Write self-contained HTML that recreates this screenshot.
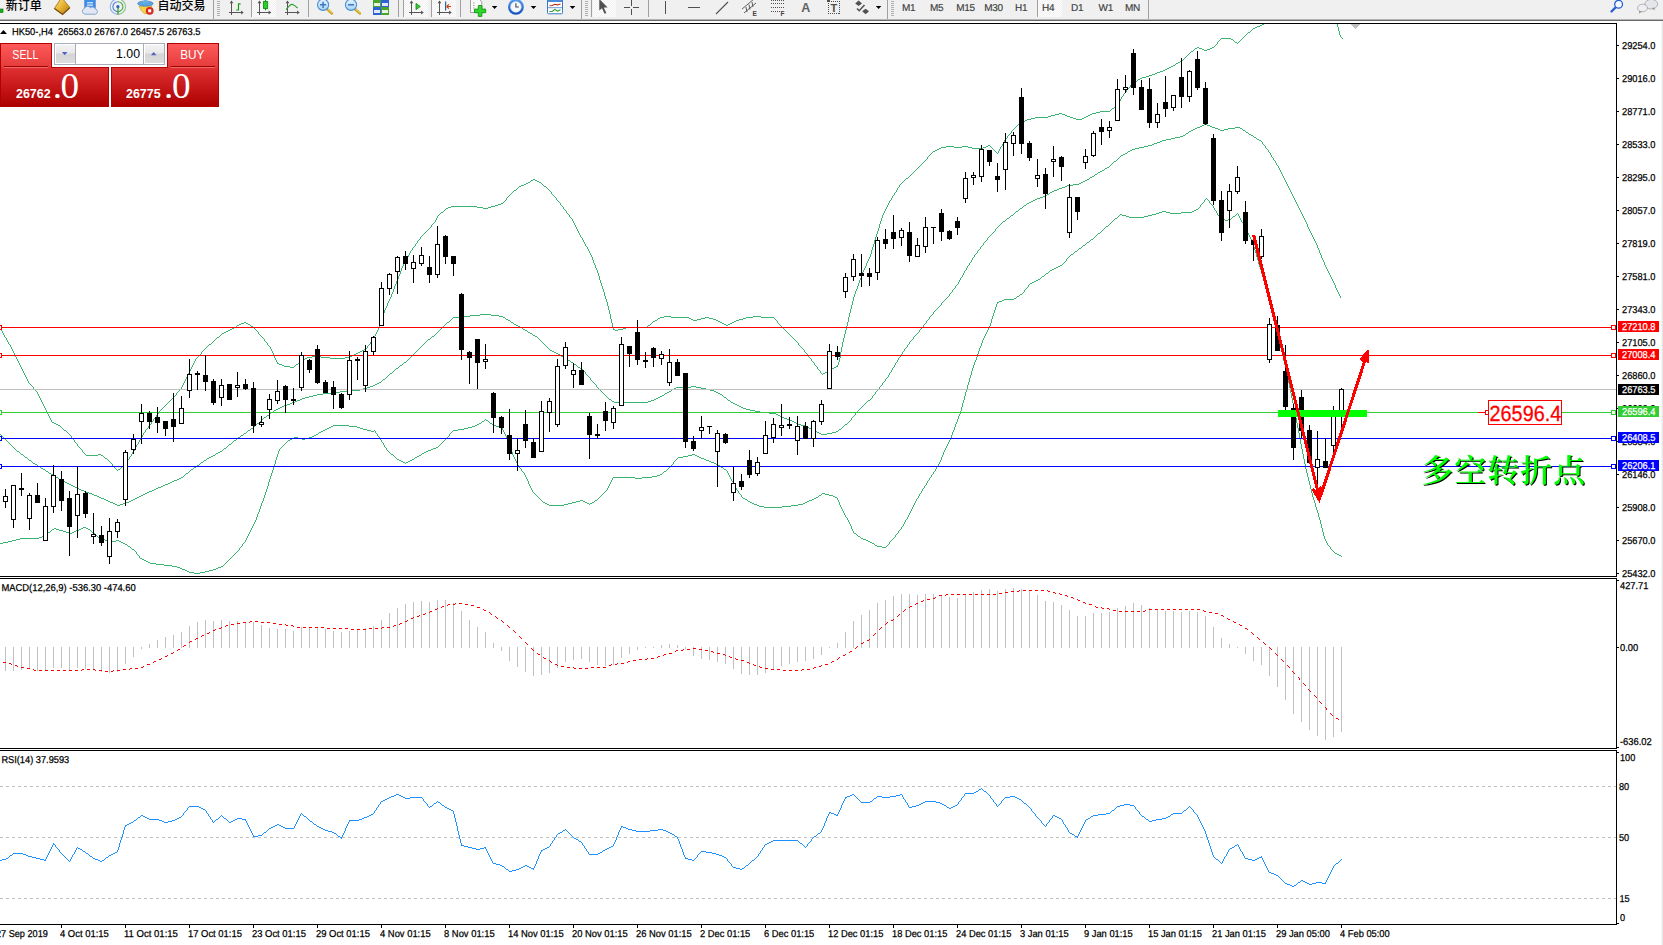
<!DOCTYPE html>
<html lang="zh"><head><meta charset="utf-8"><title>HK50-,H4</title>
<style>
html,body{margin:0;padding:0;background:#fff;}
body{width:1663px;height:945px;overflow:hidden;font-family:"Liberation Sans","Noto Sans CJK SC",sans-serif;}
#page{position:relative;width:1663px;height:945px;overflow:hidden;background:#fff;}

</style></head>
<body>
<div id="page">
<svg id="chart" width="1663" height="945" viewBox="0 0 1663 945" style="position:absolute;left:0;top:0;font-family:'Liberation Sans',sans-serif;text-rendering:geometricPrecision"><defs><clipPath id="cm"><rect x="0" y="24" width="1616" height="552"/></clipPath><clipPath id="c2"><rect x="0" y="579" width="1616" height="169"/></clipPath><clipPath id="c3"><rect x="0" y="751" width="1616" height="173"/></clipPath></defs>
<g clip-path="url(#cm)" shape-rendering="crispEdges">
<path d="M1275 17h1v1h-1zM1273 18h2v1h-2zM1271 19h2v1h-2zM1270 20h1v1h-1zM1268 21h2v1h-2zM1266 22h2v1h-2zM1264 23h2v1h-2zM1262 24h2v1h-2zM1260 25h2v1h-2zM1257 26h3v1h-3zM1255 27h2v1h-2zM1253 28h2v1h-2zM1252 29h1v1h-1zM1251 30h1v1h-1zM1250 31h1v1h-1zM1248 32h2v1h-2zM1247 33h1v1h-1zM1246 34h1v1h-1zM1245 35h1v1h-1zM1244 36h1v1h-1zM1243 37h1v1h-1zM1221 38h10v1h-10zM1242 38h1v1h-1zM1220 39h1v1h-1zM1231 39h2v1h-2zM1241 39h1v1h-1zM1219 40h1v1h-1zM1233 40h1v1h-1zM1240 40h1v1h-1zM1218 41h1v1h-1zM1234 41h1v1h-1zM1239 41h1v1h-1zM1217 42h1v1h-1zM1235 42h2v1h-2zM1238 42h1v1h-1zM1217 43h1v1h-1zM1237 43h1v1h-1zM1216 44h1v1h-1zM1215 45h1v1h-1zM1214 46h1v1h-1zM1197 47h2v1h-2zM1212 47h2v1h-2zM1195 48h2v1h-2zM1199 48h3v1h-3zM1210 48h2v1h-2zM1194 49h1v1h-1zM1202 49h2v1h-2zM1207 49h3v1h-3zM1193 50h1v1h-1zM1204 50h3v1h-3zM1191 51h2v1h-2zM1190 52h1v1h-1zM1189 53h1v1h-1zM1188 54h1v1h-1zM1187 55h1v1h-1zM1186 56h1v1h-1zM1185 57h1v1h-1zM1184 58h1v1h-1zM1183 59h1v1h-1zM1182 60h1v1h-1zM1180 61h2v1h-2zM1178 62h2v1h-2zM1176 63h2v1h-2zM1175 64h1v1h-1zM1173 65h2v1h-2zM1171 66h2v1h-2zM1169 67h2v1h-2zM1167 68h2v1h-2zM1165 69h2v1h-2zM1163 70h2v1h-2zM1160 71h3v1h-3zM1157 72h3v1h-3zM1155 73h2v1h-2zM1152 74h3v1h-3zM1149 75h3v1h-3zM1146 76h3v1h-3zM1142 77h4v1h-4zM1140 78h2v1h-2zM1138 79h2v1h-2zM1137 80h1v1h-1zM1135 81h2v1h-2zM1133 82h2v1h-2zM1132 83h1v1h-1zM1131 84h1v1h-1zM1130 85h1v1h-1zM1130 86h1v1h-1zM1129 87h1v1h-1zM1128 88h1v1h-1zM1127 89h1v1h-1zM1126 90h1v1h-1zM1126 91h1v1h-1zM1125 92h1v1h-1zM1124 93h1v1h-1zM1123 94h1v1h-1zM1123 95h1v1h-1zM1122 96h1v1h-1zM1121 97h1v1h-1zM1121 98h1v1h-1zM1120 99h1v1h-1zM1120 100h1v1h-1zM1119 101h1v1h-1zM1118 102h1v1h-1zM1118 103h1v1h-1zM1117 104h1v1h-1zM1116 105h1v1h-1zM1115 106h1v1h-1zM1114 107h1v1h-1zM1112 108h2v1h-2zM1111 109h1v1h-1zM1110 110h1v1h-1zM1100 111h10v1h-10zM1096 112h4v1h-4zM1059 113h3v1h-3zM1092 113h4v1h-4zM1055 114h4v1h-4zM1062 114h3v1h-3zM1090 114h2v1h-2zM1051 115h4v1h-4zM1065 115h2v1h-2zM1088 115h2v1h-2zM1048 116h3v1h-3zM1067 116h3v1h-3zM1086 116h2v1h-2zM1035 117h13v1h-13zM1070 117h3v1h-3zM1084 117h2v1h-2zM1031 118h4v1h-4zM1073 118h3v1h-3zM1082 118h2v1h-2zM1027 119h4v1h-4zM1076 119h6v1h-6zM1025 120h2v1h-2zM1023 121h2v1h-2zM1021 122h2v1h-2zM1019 123h2v1h-2zM1018 124h1v1h-1zM1017 125h1v1h-1zM1016 126h1v1h-1zM1015 127h1v1h-1zM1014 128h1v1h-1zM1013 129h1v1h-1zM1012 130h1v1h-1zM1011 131h1v1h-1zM1011 132h1v1h-1zM1010 133h1v1h-1zM1009 134h1v1h-1zM1008 135h1v1h-1zM1007 136h1v1h-1zM1007 137h1v1h-1zM1006 138h1v1h-1zM1005 139h1v1h-1zM1004 140h1v1h-1zM1004 141h1v1h-1zM1003 142h1v1h-1zM1003 143h1v1h-1zM1002 144h1v1h-1zM988 145h2v1h-2zM1002 145h1v1h-1zM946 146h8v1h-8zM962 146h6v1h-6zM986 146h2v1h-2zM990 146h1v1h-1zM1001 146h1v1h-1zM941 147h5v1h-5zM954 147h8v1h-8zM968 147h4v1h-4zM983 147h3v1h-3zM991 147h1v1h-1zM1000 147h1v1h-1zM939 148h2v1h-2zM972 148h11v1h-11zM992 148h1v1h-1zM1000 148h1v1h-1zM937 149h2v1h-2zM993 149h1v1h-1zM999 149h1v1h-1zM935 150h2v1h-2zM994 150h1v1h-1zM999 150h1v1h-1zM933 151h2v1h-2zM995 151h1v1h-1zM998 151h1v1h-1zM932 152h1v1h-1zM996 152h1v1h-1zM998 152h1v1h-1zM931 153h1v1h-1zM997 153h1v1h-1zM930 154h1v1h-1zM929 155h1v1h-1zM928 156h1v1h-1zM927 157h1v1h-1zM927 158h1v1h-1zM926 159h1v1h-1zM925 160h1v1h-1zM924 161h1v1h-1zM923 162h1v1h-1zM922 163h1v1h-1zM921 164h1v1h-1zM920 165h1v1h-1zM919 166h1v1h-1zM918 167h1v1h-1zM917 168h1v1h-1zM916 169h1v1h-1zM915 170h1v1h-1zM914 171h1v1h-1zM913 172h1v1h-1zM912 173h1v1h-1zM911 174h1v1h-1zM910 175h1v1h-1zM909 176h1v1h-1zM908 177h1v1h-1zM906 178h2v1h-2zM533 179h2v1h-2zM905 179h1v1h-1zM531 180h2v1h-2zM535 180h2v1h-2zM904 180h1v1h-1zM530 181h1v1h-1zM537 181h2v1h-2zM903 181h1v1h-1zM528 182h2v1h-2zM539 182h2v1h-2zM902 182h1v1h-1zM526 183h2v1h-2zM541 183h1v1h-1zM901 183h1v1h-1zM524 184h2v1h-2zM542 184h1v1h-1zM900 184h1v1h-1zM521 185h3v1h-3zM543 185h1v1h-1zM899 185h1v1h-1zM519 186h2v1h-2zM544 186h2v1h-2zM899 186h1v1h-1zM518 187h1v1h-1zM546 187h1v1h-1zM898 187h1v1h-1zM517 188h1v1h-1zM547 188h1v1h-1zM897 188h1v1h-1zM516 189h1v1h-1zM548 189h1v1h-1zM897 189h1v1h-1zM514 190h2v1h-2zM549 190h1v1h-1zM896 190h1v1h-1zM513 191h1v1h-1zM550 191h1v1h-1zM896 191h1v1h-1zM512 192h1v1h-1zM551 192h1v1h-1zM895 192h1v1h-1zM511 193h1v1h-1zM551 193h1v1h-1zM894 193h1v1h-1zM510 194h1v1h-1zM552 194h1v1h-1zM894 194h1v1h-1zM509 195h1v1h-1zM553 195h1v1h-1zM893 195h1v1h-1zM508 196h1v1h-1zM554 196h1v1h-1zM892 196h1v1h-1zM507 197h1v1h-1zM555 197h1v1h-1zM892 197h1v1h-1zM506 198h1v1h-1zM556 198h1v1h-1zM891 198h1v1h-1zM506 199h1v1h-1zM556 199h1v1h-1zM891 199h1v1h-1zM505 200h1v1h-1zM557 200h1v1h-1zM890 200h1v1h-1zM504 201h1v1h-1zM558 201h1v1h-1zM889 201h1v1h-1zM503 202h1v1h-1zM559 202h1v1h-1zM889 202h1v1h-1zM501 203h2v1h-2zM560 203h1v1h-1zM888 203h1v1h-1zM498 204h3v1h-3zM560 204h1v1h-1zM888 204h1v1h-1zM495 205h3v1h-3zM561 205h1v1h-1zM887 205h1v1h-1zM451 206h26v1h-26zM491 206h4v1h-4zM562 206h1v1h-1zM887 206h1v1h-1zM448 207h3v1h-3zM477 207h6v1h-6zM488 207h3v1h-3zM563 207h1v1h-1zM886 207h1v1h-1zM446 208h2v1h-2zM483 208h5v1h-5zM563 208h1v1h-1zM886 208h1v1h-1zM445 209h1v1h-1zM564 209h1v1h-1zM885 209h1v1h-1zM444 210h1v1h-1zM565 210h1v1h-1zM885 210h1v1h-1zM443 211h1v1h-1zM566 211h1v1h-1zM884 211h1v1h-1zM441 212h2v1h-2zM566 212h1v1h-1zM884 212h1v1h-1zM440 213h1v1h-1zM567 213h1v1h-1zM883 213h1v1h-1zM439 214h1v1h-1zM568 214h1v1h-1zM883 214h1v1h-1zM438 215h1v1h-1zM569 215h1v1h-1zM882 215h1v1h-1zM437 216h1v1h-1zM569 216h1v1h-1zM882 216h1v1h-1zM437 217h1v1h-1zM570 217h1v1h-1zM882 217h1v1h-1zM436 218h1v1h-1zM571 218h1v1h-1zM881 218h1v1h-1zM436 219h1v1h-1zM572 219h1v1h-1zM881 219h1v1h-1zM435 220h1v1h-1zM572 220h1v1h-1zM881 220h1v1h-1zM435 221h1v1h-1zM573 221h1v1h-1zM880 221h1v1h-1zM434 222h1v1h-1zM573 222h1v1h-1zM880 222h1v1h-1zM433 223h1v1h-1zM574 223h1v1h-1zM880 223h1v1h-1zM432 224h1v1h-1zM574 224h1v1h-1zM879 224h1v1h-1zM431 225h1v1h-1zM575 225h1v1h-1zM879 225h1v1h-1zM431 226h1v1h-1zM575 226h1v1h-1zM879 226h1v1h-1zM430 227h1v1h-1zM576 227h1v1h-1zM879 227h1v1h-1zM429 228h1v1h-1zM576 228h1v1h-1zM878 228h1v1h-1zM428 229h1v1h-1zM577 229h1v1h-1zM878 229h1v1h-1zM427 230h1v1h-1zM577 230h1v1h-1zM878 230h1v1h-1zM426 231h1v1h-1zM578 231h1v1h-1zM877 231h1v1h-1zM425 232h1v1h-1zM578 232h1v1h-1zM877 232h1v1h-1zM424 233h1v1h-1zM579 233h1v1h-1zM877 233h1v1h-1zM423 234h1v1h-1zM579 234h1v1h-1zM876 234h1v1h-1zM422 235h1v1h-1zM580 235h1v1h-1zM876 235h1v1h-1zM421 236h1v1h-1zM580 236h1v1h-1zM876 236h1v1h-1zM420 237h1v1h-1zM581 237h1v1h-1zM875 237h1v1h-1zM420 238h1v1h-1zM582 238h1v1h-1zM875 238h1v1h-1zM419 239h1v1h-1zM582 239h1v1h-1zM875 239h1v1h-1zM418 240h1v1h-1zM583 240h1v1h-1zM874 240h1v1h-1zM417 241h1v1h-1zM583 241h1v1h-1zM874 241h1v1h-1zM417 242h1v1h-1zM584 242h1v1h-1zM874 242h1v1h-1zM416 243h1v1h-1zM584 243h1v1h-1zM874 243h1v1h-1zM415 244h1v1h-1zM585 244h1v1h-1zM873 244h1v1h-1zM415 245h1v1h-1zM585 245h1v1h-1zM873 245h1v1h-1zM414 246h1v1h-1zM586 246h1v1h-1zM873 246h1v1h-1zM413 247h1v1h-1zM587 247h1v1h-1zM872 247h1v1h-1zM412 248h1v1h-1zM587 248h1v1h-1zM872 248h1v1h-1zM412 249h1v1h-1zM588 249h1v1h-1zM872 249h1v1h-1zM411 250h1v1h-1zM588 250h1v1h-1zM871 250h1v1h-1zM410 251h1v1h-1zM589 251h1v1h-1zM871 251h1v1h-1zM410 252h1v1h-1zM589 252h1v1h-1zM871 252h1v1h-1zM409 253h1v1h-1zM590 253h1v1h-1zM871 253h1v1h-1zM409 254h1v1h-1zM590 254h1v1h-1zM870 254h1v1h-1zM408 255h1v1h-1zM591 255h1v1h-1zM870 255h1v1h-1zM408 256h1v1h-1zM591 256h1v1h-1zM870 256h1v1h-1zM407 257h1v1h-1zM592 257h1v1h-1zM869 257h1v1h-1zM406 258h1v1h-1zM592 258h1v1h-1zM869 258h1v1h-1zM406 259h1v1h-1zM592 259h1v1h-1zM868 259h1v1h-1zM405 260h1v1h-1zM593 260h1v1h-1zM868 260h1v1h-1zM405 261h1v1h-1zM593 261h1v1h-1zM867 261h1v1h-1zM404 262h1v1h-1zM593 262h1v1h-1zM867 262h1v1h-1zM404 263h1v1h-1zM594 263h1v1h-1zM866 263h1v1h-1zM403 264h1v1h-1zM594 264h1v1h-1zM866 264h1v1h-1zM403 265h1v1h-1zM595 265h1v1h-1zM866 265h1v1h-1zM402 266h1v1h-1zM595 266h1v1h-1zM865 266h1v1h-1zM402 267h1v1h-1zM595 267h1v1h-1zM865 267h1v1h-1zM401 268h1v1h-1zM596 268h1v1h-1zM864 268h1v1h-1zM401 269h1v1h-1zM596 269h1v1h-1zM864 269h1v1h-1zM401 270h1v1h-1zM597 270h1v1h-1zM863 270h1v1h-1zM400 271h1v1h-1zM597 271h1v1h-1zM863 271h1v1h-1zM400 272h1v1h-1zM597 272h1v1h-1zM862 272h1v1h-1zM400 273h1v1h-1zM598 273h1v1h-1zM862 273h1v1h-1zM399 274h1v1h-1zM598 274h1v1h-1zM862 274h1v1h-1zM399 275h1v1h-1zM598 275h1v1h-1zM861 275h1v1h-1zM398 276h1v1h-1zM599 276h1v1h-1zM861 276h1v1h-1zM398 277h1v1h-1zM599 277h1v1h-1zM861 277h1v1h-1zM398 278h1v1h-1zM599 278h1v1h-1zM860 278h1v1h-1zM397 279h1v1h-1zM599 279h1v1h-1zM860 279h1v1h-1zM397 280h1v1h-1zM600 280h1v1h-1zM859 280h1v1h-1zM396 281h1v1h-1zM600 281h1v1h-1zM859 281h1v1h-1zM396 282h1v1h-1zM600 282h1v1h-1zM859 282h1v1h-1zM396 283h1v1h-1zM601 283h1v1h-1zM858 283h1v1h-1zM395 284h1v1h-1zM601 284h1v1h-1zM858 284h1v1h-1zM395 285h1v1h-1zM601 285h1v1h-1zM858 285h1v1h-1zM394 286h1v1h-1zM602 286h1v1h-1zM857 286h1v1h-1zM394 287h1v1h-1zM602 287h1v1h-1zM857 287h1v1h-1zM394 288h1v1h-1zM602 288h1v1h-1zM857 288h1v1h-1zM393 289h1v1h-1zM603 289h1v1h-1zM856 289h1v1h-1zM393 290h1v1h-1zM603 290h1v1h-1zM856 290h1v1h-1zM393 291h1v1h-1zM603 291h1v1h-1zM855 291h1v1h-1zM392 292h1v1h-1zM604 292h1v1h-1zM855 292h1v1h-1zM392 293h1v1h-1zM604 293h1v1h-1zM855 293h1v1h-1zM391 294h1v1h-1zM604 294h1v1h-1zM854 294h1v1h-1zM391 295h1v1h-1zM604 295h1v1h-1zM854 295h1v1h-1zM391 296h1v1h-1zM605 296h1v1h-1zM854 296h1v1h-1zM390 297h1v1h-1zM605 297h1v1h-1zM853 297h1v1h-1zM390 298h1v1h-1zM605 298h1v1h-1zM853 298h1v1h-1zM389 299h1v1h-1zM606 299h1v1h-1zM853 299h1v1h-1zM389 300h1v1h-1zM606 300h1v1h-1zM853 300h1v1h-1zM388 301h1v1h-1zM606 301h1v1h-1zM852 301h1v1h-1zM388 302h1v1h-1zM607 302h1v1h-1zM852 302h1v1h-1zM387 303h1v1h-1zM607 303h1v1h-1zM852 303h1v1h-1zM387 304h1v1h-1zM607 304h1v1h-1zM852 304h1v1h-1zM387 305h1v1h-1zM607 305h1v1h-1zM851 305h1v1h-1zM386 306h1v1h-1zM608 306h1v1h-1zM851 306h1v1h-1zM386 307h1v1h-1zM608 307h1v1h-1zM851 307h1v1h-1zM385 308h1v1h-1zM608 308h1v1h-1zM851 308h1v1h-1zM385 309h1v1h-1zM608 309h1v1h-1zM850 309h1v1h-1zM384 310h1v1h-1zM609 310h1v1h-1zM850 310h1v1h-1zM384 311h1v1h-1zM609 311h1v1h-1zM850 311h1v1h-1zM384 312h1v1h-1zM609 312h1v1h-1zM850 312h1v1h-1zM383 313h1v1h-1zM609 313h1v1h-1zM849 313h1v1h-1zM383 314h1v1h-1zM610 314h1v1h-1zM849 314h1v1h-1zM383 315h1v1h-1zM610 315h1v1h-1zM849 315h1v1h-1zM382 316h1v1h-1zM610 316h1v1h-1zM664 316h7v1h-7zM753 316h8v1h-8zM849 316h1v1h-1zM382 317h1v1h-1zM610 317h1v1h-1zM660 317h4v1h-4zM671 317h18v1h-18zM705 317h4v1h-4zM746 317h7v1h-7zM761 317h13v1h-13zM848 317h1v1h-1zM382 318h1v1h-1zM610 318h1v1h-1zM658 318h2v1h-2zM689 318h2v1h-2zM701 318h4v1h-4zM709 318h4v1h-4zM743 318h3v1h-3zM774 318h1v1h-1zM848 318h1v1h-1zM381 319h1v1h-1zM611 319h1v1h-1zM657 319h1v1h-1zM691 319h2v1h-2zM697 319h4v1h-4zM713 319h3v1h-3zM739 319h4v1h-4zM775 319h1v1h-1zM848 319h1v1h-1zM381 320h1v1h-1zM611 320h1v1h-1zM655 320h2v1h-2zM693 320h4v1h-4zM716 320h2v1h-2zM736 320h3v1h-3zM776 320h1v1h-1zM848 320h1v1h-1zM381 321h1v1h-1zM611 321h1v1h-1zM653 321h2v1h-2zM718 321h2v1h-2zM734 321h2v1h-2zM777 321h1v1h-1zM848 321h1v1h-1zM244 322h2v1h-2zM380 322h1v1h-1zM611 322h1v1h-1zM652 322h1v1h-1zM720 322h2v1h-2zM732 322h2v1h-2zM777 322h1v1h-1zM847 322h1v1h-1zM241 323h3v1h-3zM246 323h2v1h-2zM380 323h1v1h-1zM612 323h1v1h-1zM651 323h1v1h-1zM722 323h2v1h-2zM730 323h2v1h-2zM778 323h1v1h-1zM847 323h1v1h-1zM239 324h2v1h-2zM248 324h2v1h-2zM380 324h1v1h-1zM612 324h1v1h-1zM650 324h1v1h-1zM724 324h2v1h-2zM728 324h2v1h-2zM779 324h1v1h-1zM847 324h1v1h-1zM237 325h2v1h-2zM250 325h1v1h-1zM379 325h1v1h-1zM612 325h1v1h-1zM648 325h2v1h-2zM726 325h2v1h-2zM780 325h1v1h-1zM847 325h1v1h-1zM236 326h1v1h-1zM251 326h2v1h-2zM379 326h1v1h-1zM612 326h1v1h-1zM647 326h1v1h-1zM781 326h1v1h-1zM846 326h1v1h-1zM-2 327h2v1h-2zM234 327h2v1h-2zM253 327h1v1h-1zM379 327h1v1h-1zM613 327h1v1h-1zM626 327h21v1h-21zM782 327h1v1h-1zM846 327h1v1h-1zM0 328h1v1h-1zM232 328h2v1h-2zM254 328h1v1h-1zM378 328h1v1h-1zM613 328h1v1h-1zM623 328h3v1h-3zM783 328h1v1h-1zM846 328h1v1h-1zM1 329h1v1h-1zM230 329h2v1h-2zM255 329h1v1h-1zM378 329h1v1h-1zM613 329h2v1h-2zM618 329h5v1h-5zM784 329h1v1h-1zM846 329h1v1h-1zM1 330h1v1h-1zM228 330h2v1h-2zM256 330h1v1h-1zM377 330h1v1h-1zM615 330h3v1h-3zM785 330h1v1h-1zM845 330h1v1h-1zM2 331h1v1h-1zM226 331h2v1h-2zM257 331h1v1h-1zM377 331h1v1h-1zM786 331h1v1h-1zM845 331h1v1h-1zM2 332h1v1h-1zM224 332h2v1h-2zM258 332h1v1h-1zM376 332h1v1h-1zM787 332h1v1h-1zM845 332h1v1h-1zM3 333h1v1h-1zM222 333h2v1h-2zM258 333h1v1h-1zM376 333h1v1h-1zM788 333h1v1h-1zM845 333h1v1h-1zM3 334h1v1h-1zM221 334h1v1h-1zM259 334h1v1h-1zM375 334h1v1h-1zM789 334h1v1h-1zM844 334h1v1h-1zM4 335h1v1h-1zM220 335h1v1h-1zM260 335h1v1h-1zM375 335h1v1h-1zM790 335h1v1h-1zM844 335h1v1h-1zM4 336h1v1h-1zM219 336h1v1h-1zM261 336h1v1h-1zM374 336h1v1h-1zM791 336h1v1h-1zM844 336h1v1h-1zM5 337h1v1h-1zM217 337h2v1h-2zM262 337h1v1h-1zM374 337h1v1h-1zM792 337h1v1h-1zM844 337h1v1h-1zM6 338h1v1h-1zM216 338h1v1h-1zM263 338h1v1h-1zM373 338h1v1h-1zM793 338h1v1h-1zM843 338h1v1h-1zM6 339h1v1h-1zM215 339h1v1h-1zM264 339h1v1h-1zM373 339h1v1h-1zM794 339h1v1h-1zM843 339h1v1h-1zM7 340h1v1h-1zM214 340h1v1h-1zM264 340h1v1h-1zM372 340h1v1h-1zM795 340h1v1h-1zM843 340h1v1h-1zM7 341h1v1h-1zM213 341h1v1h-1zM265 341h1v1h-1zM371 341h1v1h-1zM796 341h1v1h-1zM843 341h1v1h-1zM8 342h1v1h-1zM212 342h1v1h-1zM266 342h1v1h-1zM370 342h1v1h-1zM797 342h1v1h-1zM842 342h1v1h-1zM8 343h1v1h-1zM211 343h1v1h-1zM267 343h1v1h-1zM370 343h1v1h-1zM798 343h1v1h-1zM842 343h1v1h-1zM9 344h1v1h-1zM209 344h2v1h-2zM267 344h1v1h-1zM369 344h1v1h-1zM798 344h1v1h-1zM842 344h1v1h-1zM10 345h1v1h-1zM208 345h1v1h-1zM268 345h1v1h-1zM368 345h1v1h-1zM799 345h1v1h-1zM842 345h1v1h-1zM10 346h1v1h-1zM207 346h1v1h-1zM269 346h1v1h-1zM367 346h1v1h-1zM800 346h1v1h-1zM842 346h1v1h-1zM11 347h1v1h-1zM206 347h1v1h-1zM270 347h1v1h-1zM367 347h1v1h-1zM801 347h1v1h-1zM841 347h1v1h-1zM11 348h1v1h-1zM205 348h1v1h-1zM270 348h1v1h-1zM366 348h1v1h-1zM802 348h1v1h-1zM841 348h1v1h-1zM12 349h1v1h-1zM204 349h1v1h-1zM271 349h1v1h-1zM364 349h2v1h-2zM803 349h1v1h-1zM841 349h1v1h-1zM12 350h1v1h-1zM203 350h1v1h-1zM271 350h1v1h-1zM362 350h2v1h-2zM804 350h1v1h-1zM841 350h1v1h-1zM13 351h1v1h-1zM202 351h1v1h-1zM272 351h1v1h-1zM360 351h2v1h-2zM804 351h1v1h-1zM841 351h1v1h-1zM13 352h1v1h-1zM201 352h1v1h-1zM272 352h1v1h-1zM358 352h2v1h-2zM805 352h1v1h-1zM840 352h1v1h-1zM14 353h1v1h-1zM201 353h1v1h-1zM273 353h1v1h-1zM356 353h2v1h-2zM806 353h1v1h-1zM840 353h1v1h-1zM14 354h1v1h-1zM200 354h1v1h-1zM273 354h1v1h-1zM354 354h2v1h-2zM807 354h1v1h-1zM840 354h1v1h-1zM15 355h1v1h-1zM199 355h1v1h-1zM274 355h1v1h-1zM352 355h2v1h-2zM808 355h1v1h-1zM840 355h1v1h-1zM15 356h1v1h-1zM198 356h1v1h-1zM274 356h1v1h-1zM312 356h9v1h-9zM349 356h3v1h-3zM808 356h1v1h-1zM840 356h1v1h-1zM16 357h1v1h-1zM197 357h1v1h-1zM274 357h1v1h-1zM307 357h5v1h-5zM321 357h9v1h-9zM345 357h4v1h-4zM809 357h1v1h-1zM840 357h1v1h-1zM16 358h1v1h-1zM196 358h1v1h-1zM275 358h1v1h-1zM305 358h2v1h-2zM330 358h15v1h-15zM810 358h1v1h-1zM839 358h1v1h-1zM17 359h1v1h-1zM195 359h1v1h-1zM275 359h1v1h-1zM303 359h2v1h-2zM811 359h1v1h-1zM839 359h1v1h-1zM17 360h1v1h-1zM195 360h1v1h-1zM276 360h1v1h-1zM301 360h2v1h-2zM811 360h1v1h-1zM839 360h1v1h-1zM18 361h1v1h-1zM194 361h1v1h-1zM276 361h1v1h-1zM300 361h1v1h-1zM812 361h1v1h-1zM839 361h1v1h-1zM18 362h1v1h-1zM194 362h1v1h-1zM277 362h1v1h-1zM299 362h1v1h-1zM813 362h1v1h-1zM838 362h1v1h-1zM19 363h1v1h-1zM193 363h1v1h-1zM277 363h2v1h-2zM298 363h1v1h-1zM814 363h1v1h-1zM838 363h1v1h-1zM19 364h1v1h-1zM193 364h1v1h-1zM279 364h3v1h-3zM296 364h2v1h-2zM814 364h1v1h-1zM838 364h1v1h-1zM20 365h1v1h-1zM192 365h1v1h-1zM282 365h2v1h-2zM295 365h1v1h-1zM815 365h1v1h-1zM837 365h1v1h-1zM20 366h1v1h-1zM192 366h1v1h-1zM284 366h6v1h-6zM294 366h1v1h-1zM816 366h1v1h-1zM836 366h2v1h-2zM21 367h1v1h-1zM191 367h1v1h-1zM290 367h4v1h-4zM817 367h1v1h-1zM834 367h2v1h-2zM21 368h1v1h-1zM191 368h1v1h-1zM817 368h1v1h-1zM832 368h2v1h-2zM22 369h1v1h-1zM190 369h1v1h-1zM818 369h1v1h-1zM830 369h2v1h-2zM22 370h1v1h-1zM190 370h1v1h-1zM819 370h1v1h-1zM828 370h2v1h-2zM23 371h1v1h-1zM189 371h1v1h-1zM820 371h1v1h-1zM827 371h1v1h-1zM23 372h1v1h-1zM189 372h1v1h-1zM820 372h1v1h-1zM825 372h2v1h-2zM24 373h1v1h-1zM188 373h1v1h-1zM821 373h1v1h-1zM823 373h2v1h-2zM24 374h1v1h-1zM188 374h1v1h-1zM822 374h1v1h-1zM25 375h1v1h-1zM187 375h1v1h-1zM25 376h1v1h-1zM187 376h1v1h-1zM26 377h1v1h-1zM186 377h1v1h-1zM26 378h1v1h-1zM186 378h1v1h-1zM27 379h1v1h-1zM185 379h1v1h-1zM27 380h1v1h-1zM185 380h1v1h-1zM28 381h1v1h-1zM184 381h1v1h-1zM28 382h1v1h-1zM184 382h1v1h-1zM29 383h1v1h-1zM183 383h1v1h-1zM30 384h1v1h-1zM183 384h1v1h-1zM31 385h1v1h-1zM182 385h1v1h-1zM32 386h1v1h-1zM182 386h1v1h-1zM33 387h1v1h-1zM181 387h1v1h-1zM33 388h1v1h-1zM181 388h1v1h-1zM34 389h1v1h-1zM180 389h1v1h-1zM35 390h1v1h-1zM179 390h1v1h-1zM36 391h1v1h-1zM178 391h1v1h-1zM37 392h1v1h-1zM177 392h1v1h-1zM37 393h1v1h-1zM176 393h1v1h-1zM38 394h1v1h-1zM176 394h1v1h-1zM38 395h1v1h-1zM175 395h1v1h-1zM39 396h1v1h-1zM174 396h1v1h-1zM39 397h1v1h-1zM173 397h1v1h-1zM40 398h1v1h-1zM172 398h1v1h-1zM40 399h1v1h-1zM171 399h1v1h-1zM41 400h1v1h-1zM170 400h1v1h-1zM41 401h1v1h-1zM169 401h1v1h-1zM42 402h1v1h-1zM168 402h1v1h-1zM42 403h1v1h-1zM167 403h1v1h-1zM43 404h1v1h-1zM166 404h1v1h-1zM43 405h1v1h-1zM165 405h1v1h-1zM44 406h1v1h-1zM164 406h1v1h-1zM44 407h1v1h-1zM163 407h1v1h-1zM45 408h1v1h-1zM162 408h1v1h-1zM45 409h1v1h-1zM161 409h1v1h-1zM46 410h1v1h-1zM160 410h1v1h-1zM46 411h1v1h-1zM159 411h1v1h-1zM47 412h1v1h-1zM159 412h1v1h-1zM47 413h1v1h-1zM158 413h1v1h-1zM48 414h1v1h-1zM157 414h1v1h-1zM48 415h1v1h-1zM156 415h1v1h-1zM49 416h1v1h-1zM156 416h1v1h-1zM49 417h1v1h-1zM155 417h1v1h-1zM50 418h1v1h-1zM154 418h1v1h-1zM50 419h1v1h-1zM153 419h1v1h-1zM51 420h1v1h-1zM153 420h1v1h-1zM51 421h1v1h-1zM152 421h1v1h-1zM52 422h2v1h-2zM151 422h1v1h-1zM54 423h2v1h-2zM151 423h1v1h-1zM56 424h2v1h-2zM150 424h1v1h-1zM58 425h2v1h-2zM149 425h1v1h-1zM60 426h1v1h-1zM148 426h1v1h-1zM61 427h1v1h-1zM148 427h1v1h-1zM62 428h1v1h-1zM147 428h1v1h-1zM63 429h1v1h-1zM146 429h1v1h-1zM64 430h2v1h-2zM145 430h1v1h-1zM66 431h1v1h-1zM145 431h1v1h-1zM67 432h1v1h-1zM144 432h1v1h-1zM68 433h1v1h-1zM143 433h1v1h-1zM69 434h1v1h-1zM143 434h1v1h-1zM70 435h1v1h-1zM142 435h1v1h-1zM71 436h1v1h-1zM142 436h1v1h-1zM71 437h1v1h-1zM141 437h1v1h-1zM72 438h1v1h-1zM141 438h1v1h-1zM73 439h1v1h-1zM140 439h1v1h-1zM74 440h1v1h-1zM139 440h1v1h-1zM74 441h1v1h-1zM139 441h1v1h-1zM75 442h1v1h-1zM138 442h1v1h-1zM76 443h1v1h-1zM138 443h1v1h-1zM77 444h1v1h-1zM137 444h1v1h-1zM77 445h1v1h-1zM136 445h1v1h-1zM78 446h1v1h-1zM136 446h1v1h-1zM79 447h1v1h-1zM135 447h1v1h-1zM80 448h1v1h-1zM135 448h1v1h-1zM81 449h1v1h-1zM134 449h1v1h-1zM82 450h1v1h-1zM134 450h1v1h-1zM82 451h1v1h-1zM133 451h1v1h-1zM83 452h1v1h-1zM132 452h1v1h-1zM84 453h1v1h-1zM132 453h1v1h-1zM85 454h1v1h-1zM98 454h3v1h-3zM131 454h1v1h-1zM86 455h12v1h-12zM101 455h2v1h-2zM131 455h1v1h-1zM103 456h1v1h-1zM130 456h1v1h-1zM104 457h1v1h-1zM129 457h1v1h-1zM105 458h2v1h-2zM129 458h1v1h-1zM107 459h1v1h-1zM128 459h1v1h-1zM108 460h1v1h-1zM127 460h1v1h-1zM109 461h1v1h-1zM127 461h1v1h-1zM110 462h1v1h-1zM126 462h1v1h-1zM111 463h1v1h-1zM125 463h1v1h-1zM112 464h1v1h-1zM125 464h1v1h-1zM112 465h1v1h-1zM124 465h1v1h-1zM113 466h1v1h-1zM122 466h2v1h-2zM114 467h1v1h-1zM121 467h1v1h-1zM115 468h1v1h-1zM120 468h1v1h-1zM116 469h1v1h-1zM118 469h2v1h-2zM117 470h1v1h-1z" fill="#3cb371"/>
<path d="M1335 13h1v1h-1zM1335 14h1v1h-1zM1335 15h1v1h-1zM1336 16h1v1h-1zM1336 17h1v1h-1zM1336 18h1v1h-1zM1336 19h1v1h-1zM1336 20h1v1h-1zM1336 21h1v1h-1zM1337 22h1v1h-1zM1337 23h1v1h-1zM1337 24h1v1h-1zM1337 25h1v1h-1zM1337 26h1v1h-1zM1338 27h1v1h-1zM1338 28h1v1h-1zM1338 29h1v1h-1zM1338 30h1v1h-1zM1339 31h1v1h-1zM1339 32h1v1h-1zM1339 33h1v1h-1zM1339 34h1v1h-1zM1340 35h1v1h-1zM1340 36h1v1h-1zM1341 37h1v1h-1zM1342 38h1v1h-1z" fill="#3cb371"/>
<path d="M1204 124h3v1h-3zM1202 125h2v1h-2zM1207 125h3v1h-3zM1200 126h2v1h-2zM1210 126h2v1h-2zM1197 127h3v1h-3zM1212 127h3v1h-3zM1235 127h5v1h-5zM1195 128h2v1h-2zM1215 128h3v1h-3zM1228 128h7v1h-7zM1240 128h2v1h-2zM1193 129h2v1h-2zM1218 129h2v1h-2zM1224 129h4v1h-4zM1242 129h1v1h-1zM1191 130h2v1h-2zM1220 130h4v1h-4zM1243 130h2v1h-2zM1189 131h2v1h-2zM1245 131h1v1h-1zM1188 132h1v1h-1zM1246 132h2v1h-2zM1186 133h2v1h-2zM1248 133h1v1h-1zM1185 134h1v1h-1zM1249 134h2v1h-2zM1183 135h2v1h-2zM1251 135h2v1h-2zM1180 136h3v1h-3zM1253 136h1v1h-1zM1175 137h5v1h-5zM1254 137h2v1h-2zM1171 138h4v1h-4zM1256 138h1v1h-1zM1166 139h5v1h-5zM1257 139h2v1h-2zM1162 140h4v1h-4zM1259 140h2v1h-2zM1160 141h2v1h-2zM1261 141h1v1h-1zM1157 142h3v1h-3zM1262 142h1v1h-1zM1154 143h3v1h-3zM1262 143h1v1h-1zM1152 144h2v1h-2zM1263 144h1v1h-1zM1148 145h4v1h-4zM1264 145h1v1h-1zM1144 146h4v1h-4zM1265 146h1v1h-1zM1139 147h5v1h-5zM1265 147h1v1h-1zM1135 148h4v1h-4zM1266 148h1v1h-1zM1132 149h3v1h-3zM1267 149h1v1h-1zM1130 150h2v1h-2zM1268 150h1v1h-1zM1128 151h2v1h-2zM1268 151h1v1h-1zM1127 152h1v1h-1zM1269 152h1v1h-1zM1125 153h2v1h-2zM1270 153h1v1h-1zM1123 154h2v1h-2zM1270 154h1v1h-1zM1121 155h2v1h-2zM1271 155h1v1h-1zM1120 156h1v1h-1zM1271 156h1v1h-1zM1119 157h1v1h-1zM1272 157h1v1h-1zM1118 158h1v1h-1zM1273 158h1v1h-1zM1117 159h1v1h-1zM1273 159h1v1h-1zM1116 160h1v1h-1zM1274 160h1v1h-1zM1114 161h2v1h-2zM1275 161h1v1h-1zM1113 162h1v1h-1zM1275 162h1v1h-1zM1112 163h1v1h-1zM1276 163h1v1h-1zM1111 164h1v1h-1zM1276 164h1v1h-1zM1110 165h1v1h-1zM1277 165h1v1h-1zM1109 166h1v1h-1zM1278 166h1v1h-1zM1107 167h2v1h-2zM1278 167h1v1h-1zM1105 168h2v1h-2zM1279 168h1v1h-1zM1104 169h1v1h-1zM1279 169h1v1h-1zM1102 170h2v1h-2zM1280 170h1v1h-1zM1100 171h2v1h-2zM1280 171h1v1h-1zM1098 172h2v1h-2zM1281 172h1v1h-1zM1097 173h1v1h-1zM1281 173h1v1h-1zM1095 174h2v1h-2zM1282 174h1v1h-1zM1094 175h1v1h-1zM1282 175h1v1h-1zM1092 176h2v1h-2zM1283 176h1v1h-1zM1090 177h2v1h-2zM1283 177h1v1h-1zM1089 178h1v1h-1zM1284 178h1v1h-1zM1087 179h2v1h-2zM1284 179h1v1h-1zM1085 180h2v1h-2zM1285 180h1v1h-1zM1083 181h2v1h-2zM1285 181h1v1h-1zM1081 182h2v1h-2zM1286 182h1v1h-1zM1079 183h2v1h-2zM1286 183h1v1h-1zM1073 184h6v1h-6zM1287 184h1v1h-1zM1067 185h6v1h-6zM1287 185h1v1h-1zM1065 186h2v1h-2zM1288 186h1v1h-1zM1062 187h3v1h-3zM1288 187h1v1h-1zM1059 188h3v1h-3zM1289 188h1v1h-1zM1057 189h2v1h-2zM1289 189h1v1h-1zM1054 190h3v1h-3zM1290 190h1v1h-1zM1052 191h2v1h-2zM1290 191h1v1h-1zM1050 192h2v1h-2zM1291 192h1v1h-1zM1049 193h1v1h-1zM1291 193h1v1h-1zM1047 194h2v1h-2zM1292 194h1v1h-1zM1045 195h2v1h-2zM1292 195h1v1h-1zM1043 196h2v1h-2zM1293 196h1v1h-1zM1040 197h3v1h-3zM1293 197h1v1h-1zM1037 198h3v1h-3zM1294 198h1v1h-1zM1035 199h2v1h-2zM1294 199h1v1h-1zM1033 200h2v1h-2zM1295 200h1v1h-1zM1031 201h2v1h-2zM1295 201h1v1h-1zM1029 202h2v1h-2zM1296 202h1v1h-1zM1027 203h2v1h-2zM1296 203h1v1h-1zM1026 204h1v1h-1zM1297 204h1v1h-1zM1024 205h2v1h-2zM1297 205h1v1h-1zM1023 206h1v1h-1zM1298 206h1v1h-1zM1022 207h1v1h-1zM1298 207h1v1h-1zM1020 208h2v1h-2zM1299 208h1v1h-1zM1019 209h1v1h-1zM1299 209h1v1h-1zM1018 210h1v1h-1zM1300 210h1v1h-1zM1016 211h2v1h-2zM1300 211h1v1h-1zM1015 212h1v1h-1zM1301 212h1v1h-1zM1014 213h1v1h-1zM1301 213h1v1h-1zM1013 214h1v1h-1zM1302 214h1v1h-1zM1011 215h2v1h-2zM1302 215h1v1h-1zM1010 216h1v1h-1zM1303 216h1v1h-1zM1009 217h1v1h-1zM1303 217h1v1h-1zM1007 218h2v1h-2zM1304 218h1v1h-1zM1006 219h1v1h-1zM1304 219h1v1h-1zM1005 220h1v1h-1zM1305 220h1v1h-1zM1003 221h2v1h-2zM1305 221h1v1h-1zM1002 222h1v1h-1zM1306 222h1v1h-1zM1001 223h1v1h-1zM1306 223h1v1h-1zM1000 224h1v1h-1zM1307 224h1v1h-1zM999 225h1v1h-1zM1307 225h1v1h-1zM998 226h1v1h-1zM1307 226h1v1h-1zM997 227h1v1h-1zM1308 227h1v1h-1zM996 228h1v1h-1zM1308 228h1v1h-1zM995 229h1v1h-1zM1309 229h1v1h-1zM995 230h1v1h-1zM1309 230h1v1h-1zM994 231h1v1h-1zM1310 231h1v1h-1zM993 232h1v1h-1zM1310 232h1v1h-1zM992 233h1v1h-1zM1311 233h1v1h-1zM991 234h1v1h-1zM1311 234h1v1h-1zM990 235h1v1h-1zM1312 235h1v1h-1zM989 236h1v1h-1zM1312 236h1v1h-1zM988 237h1v1h-1zM1313 237h1v1h-1zM987 238h1v1h-1zM1313 238h1v1h-1zM987 239h1v1h-1zM1314 239h1v1h-1zM986 240h1v1h-1zM1314 240h1v1h-1zM985 241h1v1h-1zM1315 241h1v1h-1zM984 242h1v1h-1zM1315 242h1v1h-1zM983 243h1v1h-1zM1316 243h1v1h-1zM983 244h1v1h-1zM1316 244h1v1h-1zM982 245h1v1h-1zM1317 245h1v1h-1zM981 246h1v1h-1zM1317 246h1v1h-1zM980 247h1v1h-1zM1317 247h1v1h-1zM980 248h1v1h-1zM1318 248h1v1h-1zM979 249h1v1h-1zM1318 249h1v1h-1zM978 250h1v1h-1zM1319 250h1v1h-1zM977 251h1v1h-1zM1319 251h1v1h-1zM977 252h1v1h-1zM1319 252h1v1h-1zM976 253h1v1h-1zM1320 253h1v1h-1zM975 254h1v1h-1zM1320 254h1v1h-1zM974 255h1v1h-1zM1321 255h1v1h-1zM974 256h1v1h-1zM1321 256h1v1h-1zM973 257h1v1h-1zM1321 257h1v1h-1zM972 258h1v1h-1zM1322 258h1v1h-1zM972 259h1v1h-1zM1322 259h1v1h-1zM971 260h1v1h-1zM1323 260h1v1h-1zM971 261h1v1h-1zM1323 261h1v1h-1zM970 262h1v1h-1zM1324 262h1v1h-1zM969 263h1v1h-1zM1324 263h1v1h-1zM969 264h1v1h-1zM1324 264h1v1h-1zM968 265h1v1h-1zM1325 265h1v1h-1zM967 266h1v1h-1zM1325 266h1v1h-1zM967 267h1v1h-1zM1326 267h1v1h-1zM966 268h1v1h-1zM1326 268h1v1h-1zM966 269h1v1h-1zM1327 269h1v1h-1zM965 270h1v1h-1zM1327 270h1v1h-1zM964 271h1v1h-1zM1328 271h1v1h-1zM964 272h1v1h-1zM1328 272h1v1h-1zM963 273h1v1h-1zM1329 273h1v1h-1zM963 274h1v1h-1zM1329 274h1v1h-1zM962 275h1v1h-1zM1330 275h1v1h-1zM962 276h1v1h-1zM1330 276h1v1h-1zM961 277h1v1h-1zM1331 277h1v1h-1zM960 278h1v1h-1zM1331 278h1v1h-1zM960 279h1v1h-1zM1332 279h1v1h-1zM959 280h1v1h-1zM1332 280h1v1h-1zM959 281h1v1h-1zM1333 281h1v1h-1zM958 282h1v1h-1zM1333 282h1v1h-1zM958 283h1v1h-1zM1334 283h1v1h-1zM957 284h1v1h-1zM1334 284h1v1h-1zM956 285h1v1h-1zM1335 285h1v1h-1zM955 286h1v1h-1zM1335 286h1v1h-1zM955 287h1v1h-1zM1335 287h1v1h-1zM954 288h1v1h-1zM1336 288h1v1h-1zM953 289h1v1h-1zM1336 289h1v1h-1zM952 290h1v1h-1zM1337 290h1v1h-1zM952 291h1v1h-1zM1337 291h1v1h-1zM951 292h1v1h-1zM1338 292h1v1h-1zM950 293h1v1h-1zM1338 293h1v1h-1zM949 294h1v1h-1zM1339 294h1v1h-1zM949 295h1v1h-1zM1339 295h1v1h-1zM948 296h1v1h-1zM1340 296h1v1h-1zM947 297h1v1h-1zM1340 297h1v1h-1zM946 298h1v1h-1zM945 299h1v1h-1zM944 300h1v1h-1zM943 301h1v1h-1zM942 302h1v1h-1zM941 303h1v1h-1zM941 304h1v1h-1zM940 305h1v1h-1zM939 306h1v1h-1zM938 307h1v1h-1zM937 308h1v1h-1zM936 309h1v1h-1zM935 310h1v1h-1zM934 311h1v1h-1zM933 312h1v1h-1zM933 313h1v1h-1zM480 314h11v1h-11zM932 314h1v1h-1zM470 315h10v1h-10zM491 315h8v1h-8zM931 315h1v1h-1zM464 316h6v1h-6zM499 316h4v1h-4zM930 316h1v1h-1zM453 317h11v1h-11zM503 317h2v1h-2zM929 317h1v1h-1zM452 318h1v1h-1zM505 318h1v1h-1zM929 318h1v1h-1zM451 319h1v1h-1zM506 319h2v1h-2zM928 319h1v1h-1zM450 320h1v1h-1zM508 320h2v1h-2zM927 320h1v1h-1zM449 321h1v1h-1zM510 321h1v1h-1zM926 321h1v1h-1zM447 322h2v1h-2zM511 322h2v1h-2zM926 322h1v1h-1zM446 323h1v1h-1zM513 323h1v1h-1zM925 323h1v1h-1zM445 324h1v1h-1zM514 324h2v1h-2zM924 324h1v1h-1zM444 325h1v1h-1zM516 325h2v1h-2zM923 325h1v1h-1zM443 326h1v1h-1zM518 326h2v1h-2zM923 326h1v1h-1zM442 327h1v1h-1zM520 327h2v1h-2zM922 327h1v1h-1zM441 328h1v1h-1zM522 328h1v1h-1zM921 328h1v1h-1zM440 329h1v1h-1zM523 329h2v1h-2zM920 329h1v1h-1zM439 330h1v1h-1zM525 330h2v1h-2zM919 330h1v1h-1zM438 331h1v1h-1zM527 331h1v1h-1zM919 331h1v1h-1zM437 332h1v1h-1zM528 332h2v1h-2zM918 332h1v1h-1zM436 333h1v1h-1zM530 333h2v1h-2zM917 333h1v1h-1zM435 334h1v1h-1zM532 334h1v1h-1zM916 334h1v1h-1zM434 335h1v1h-1zM533 335h2v1h-2zM915 335h1v1h-1zM432 336h2v1h-2zM535 336h2v1h-2zM914 336h1v1h-1zM431 337h1v1h-1zM537 337h1v1h-1zM913 337h1v1h-1zM430 338h1v1h-1zM538 338h1v1h-1zM913 338h1v1h-1zM428 339h2v1h-2zM539 339h1v1h-1zM912 339h1v1h-1zM427 340h1v1h-1zM540 340h1v1h-1zM911 340h1v1h-1zM426 341h1v1h-1zM541 341h1v1h-1zM910 341h1v1h-1zM425 342h1v1h-1zM542 342h1v1h-1zM909 342h1v1h-1zM424 343h1v1h-1zM543 343h1v1h-1zM909 343h1v1h-1zM423 344h1v1h-1zM544 344h1v1h-1zM908 344h1v1h-1zM422 345h1v1h-1zM545 345h1v1h-1zM907 345h1v1h-1zM421 346h1v1h-1zM546 346h1v1h-1zM907 346h1v1h-1zM420 347h1v1h-1zM547 347h1v1h-1zM906 347h1v1h-1zM419 348h1v1h-1zM548 348h1v1h-1zM905 348h1v1h-1zM418 349h1v1h-1zM549 349h1v1h-1zM904 349h1v1h-1zM417 350h1v1h-1zM550 350h2v1h-2zM904 350h1v1h-1zM416 351h1v1h-1zM552 351h2v1h-2zM903 351h1v1h-1zM415 352h1v1h-1zM554 352h2v1h-2zM902 352h1v1h-1zM414 353h1v1h-1zM556 353h2v1h-2zM902 353h1v1h-1zM413 354h1v1h-1zM558 354h2v1h-2zM901 354h1v1h-1zM412 355h1v1h-1zM560 355h1v1h-1zM900 355h1v1h-1zM411 356h1v1h-1zM561 356h2v1h-2zM900 356h1v1h-1zM410 357h1v1h-1zM563 357h2v1h-2zM899 357h1v1h-1zM409 358h1v1h-1zM565 358h1v1h-1zM898 358h1v1h-1zM408 359h1v1h-1zM566 359h2v1h-2zM898 359h1v1h-1zM407 360h1v1h-1zM568 360h2v1h-2zM897 360h1v1h-1zM406 361h1v1h-1zM570 361h1v1h-1zM897 361h1v1h-1zM404 362h2v1h-2zM571 362h2v1h-2zM896 362h1v1h-1zM403 363h1v1h-1zM573 363h1v1h-1zM895 363h1v1h-1zM402 364h1v1h-1zM574 364h2v1h-2zM895 364h1v1h-1zM400 365h2v1h-2zM576 365h1v1h-1zM894 365h1v1h-1zM399 366h1v1h-1zM577 366h1v1h-1zM894 366h1v1h-1zM398 367h1v1h-1zM578 367h2v1h-2zM893 367h1v1h-1zM396 368h2v1h-2zM580 368h1v1h-1zM892 368h1v1h-1zM395 369h1v1h-1zM581 369h2v1h-2zM892 369h1v1h-1zM394 370h1v1h-1zM583 370h1v1h-1zM891 370h1v1h-1zM393 371h1v1h-1zM584 371h1v1h-1zM891 371h1v1h-1zM392 372h1v1h-1zM585 372h1v1h-1zM890 372h1v1h-1zM390 373h2v1h-2zM585 373h1v1h-1zM889 373h1v1h-1zM389 374h1v1h-1zM586 374h1v1h-1zM889 374h1v1h-1zM388 375h1v1h-1zM587 375h1v1h-1zM888 375h1v1h-1zM387 376h1v1h-1zM588 376h1v1h-1zM888 376h1v1h-1zM386 377h1v1h-1zM589 377h1v1h-1zM887 377h1v1h-1zM385 378h1v1h-1zM590 378h1v1h-1zM886 378h1v1h-1zM383 379h2v1h-2zM590 379h1v1h-1zM885 379h1v1h-1zM382 380h1v1h-1zM591 380h1v1h-1zM885 380h1v1h-1zM381 381h1v1h-1zM592 381h1v1h-1zM884 381h1v1h-1zM379 382h2v1h-2zM593 382h1v1h-1zM883 382h1v1h-1zM377 383h2v1h-2zM594 383h1v1h-1zM882 383h1v1h-1zM375 384h2v1h-2zM595 384h1v1h-1zM882 384h1v1h-1zM373 385h2v1h-2zM596 385h1v1h-1zM881 385h1v1h-1zM370 386h3v1h-3zM596 386h1v1h-1zM691 386h5v1h-5zM880 386h1v1h-1zM367 387h3v1h-3zM597 387h1v1h-1zM676 387h15v1h-15zM696 387h5v1h-5zM879 387h1v1h-1zM363 388h4v1h-4zM598 388h1v1h-1zM674 388h2v1h-2zM701 388h5v1h-5zM879 388h1v1h-1zM360 389h3v1h-3zM599 389h1v1h-1zM672 389h2v1h-2zM706 389h4v1h-4zM878 389h1v1h-1zM352 390h8v1h-8zM600 390h1v1h-1zM671 390h1v1h-1zM710 390h4v1h-4zM877 390h1v1h-1zM340 391h12v1h-12zM601 391h1v1h-1zM669 391h2v1h-2zM714 391h2v1h-2zM876 391h1v1h-1zM331 392h9v1h-9zM602 392h1v1h-1zM667 392h2v1h-2zM716 392h2v1h-2zM875 392h1v1h-1zM323 393h8v1h-8zM603 393h1v1h-1zM665 393h2v1h-2zM718 393h2v1h-2zM875 393h1v1h-1zM317 394h6v1h-6zM604 394h1v1h-1zM664 394h1v1h-1zM720 394h2v1h-2zM874 394h1v1h-1zM313 395h4v1h-4zM605 395h1v1h-1zM662 395h2v1h-2zM722 395h1v1h-1zM873 395h1v1h-1zM309 396h4v1h-4zM606 396h1v1h-1zM660 396h2v1h-2zM723 396h1v1h-1zM872 396h1v1h-1zM305 397h4v1h-4zM607 397h1v1h-1zM658 397h2v1h-2zM724 397h2v1h-2zM872 397h1v1h-1zM302 398h3v1h-3zM608 398h1v1h-1zM656 398h2v1h-2zM726 398h1v1h-1zM871 398h1v1h-1zM300 399h2v1h-2zM609 399h2v1h-2zM654 399h2v1h-2zM727 399h1v1h-1zM870 399h1v1h-1zM297 400h3v1h-3zM611 400h1v1h-1zM651 400h3v1h-3zM728 400h2v1h-2zM868 400h2v1h-2zM295 401h2v1h-2zM612 401h2v1h-2zM648 401h3v1h-3zM730 401h1v1h-1zM867 401h1v1h-1zM292 402h3v1h-3zM614 402h34v1h-34zM731 402h2v1h-2zM866 402h1v1h-1zM290 403h2v1h-2zM733 403h2v1h-2zM865 403h1v1h-1zM287 404h3v1h-3zM735 404h2v1h-2zM864 404h1v1h-1zM284 405h3v1h-3zM737 405h2v1h-2zM863 405h1v1h-1zM282 406h2v1h-2zM739 406h2v1h-2zM862 406h1v1h-1zM280 407h2v1h-2zM741 407h2v1h-2zM861 407h1v1h-1zM278 408h2v1h-2zM743 408h3v1h-3zM860 408h1v1h-1zM276 409h2v1h-2zM746 409h4v1h-4zM859 409h1v1h-1zM274 410h2v1h-2zM750 410h5v1h-5zM858 410h1v1h-1zM273 411h1v1h-1zM755 411h5v1h-5zM857 411h1v1h-1zM271 412h2v1h-2zM760 412h9v1h-9zM856 412h1v1h-1zM270 413h1v1h-1zM769 413h7v1h-7zM855 413h1v1h-1zM269 414h1v1h-1zM776 414h2v1h-2zM855 414h1v1h-1zM267 415h2v1h-2zM778 415h2v1h-2zM854 415h1v1h-1zM266 416h1v1h-1zM780 416h2v1h-2zM853 416h1v1h-1zM264 417h2v1h-2zM782 417h2v1h-2zM852 417h1v1h-1zM263 418h1v1h-1zM784 418h3v1h-3zM851 418h1v1h-1zM262 419h1v1h-1zM787 419h2v1h-2zM851 419h1v1h-1zM261 420h1v1h-1zM789 420h3v1h-3zM850 420h1v1h-1zM260 421h1v1h-1zM792 421h2v1h-2zM849 421h1v1h-1zM259 422h1v1h-1zM794 422h2v1h-2zM848 422h1v1h-1zM257 423h2v1h-2zM796 423h2v1h-2zM847 423h1v1h-1zM256 424h1v1h-1zM798 424h3v1h-3zM845 424h2v1h-2zM255 425h1v1h-1zM801 425h4v1h-4zM844 425h1v1h-1zM254 426h1v1h-1zM805 426h2v1h-2zM843 426h1v1h-1zM253 427h1v1h-1zM807 427h2v1h-2zM842 427h1v1h-1zM251 428h2v1h-2zM809 428h2v1h-2zM841 428h1v1h-1zM250 429h1v1h-1zM811 429h2v1h-2zM839 429h2v1h-2zM248 430h2v1h-2zM813 430h2v1h-2zM838 430h1v1h-1zM247 431h1v1h-1zM815 431h2v1h-2zM836 431h2v1h-2zM246 432h1v1h-1zM817 432h2v1h-2zM832 432h4v1h-4zM-2 433h2v1h-2zM244 433h2v1h-2zM819 433h2v1h-2zM827 433h5v1h-5zM0 434h1v1h-1zM243 434h1v1h-1zM821 434h6v1h-6zM1 435h1v1h-1zM241 435h2v1h-2zM2 436h1v1h-1zM240 436h1v1h-1zM3 437h1v1h-1zM238 437h2v1h-2zM4 438h1v1h-1zM237 438h1v1h-1zM5 439h1v1h-1zM236 439h1v1h-1zM6 440h1v1h-1zM234 440h2v1h-2zM7 441h1v1h-1zM233 441h1v1h-1zM8 442h1v1h-1zM232 442h1v1h-1zM9 443h1v1h-1zM231 443h1v1h-1zM10 444h1v1h-1zM229 444h2v1h-2zM11 445h1v1h-1zM228 445h1v1h-1zM12 446h1v1h-1zM227 446h1v1h-1zM13 447h1v1h-1zM226 447h1v1h-1zM14 448h1v1h-1zM224 448h2v1h-2zM15 449h1v1h-1zM223 449h1v1h-1zM16 450h1v1h-1zM222 450h1v1h-1zM17 451h2v1h-2zM220 451h2v1h-2zM19 452h1v1h-1zM218 452h2v1h-2zM20 453h1v1h-1zM216 453h2v1h-2zM21 454h2v1h-2zM215 454h1v1h-1zM23 455h1v1h-1zM213 455h2v1h-2zM24 456h1v1h-1zM211 456h2v1h-2zM25 457h2v1h-2zM209 457h2v1h-2zM27 458h1v1h-1zM207 458h2v1h-2zM28 459h1v1h-1zM206 459h1v1h-1zM29 460h2v1h-2zM204 460h2v1h-2zM31 461h1v1h-1zM203 461h1v1h-1zM32 462h1v1h-1zM201 462h2v1h-2zM33 463h2v1h-2zM200 463h1v1h-1zM35 464h2v1h-2zM199 464h1v1h-1zM37 465h1v1h-1zM197 465h2v1h-2zM38 466h2v1h-2zM196 466h1v1h-1zM40 467h1v1h-1zM194 467h2v1h-2zM41 468h2v1h-2zM193 468h1v1h-1zM43 469h2v1h-2zM191 469h2v1h-2zM45 470h1v1h-1zM190 470h1v1h-1zM46 471h2v1h-2zM189 471h1v1h-1zM48 472h1v1h-1zM188 472h1v1h-1zM49 473h2v1h-2zM186 473h2v1h-2zM51 474h2v1h-2zM185 474h1v1h-1zM53 475h1v1h-1zM184 475h1v1h-1zM54 476h2v1h-2zM183 476h1v1h-1zM56 477h2v1h-2zM181 477h2v1h-2zM58 478h1v1h-1zM179 478h2v1h-2zM59 479h2v1h-2zM177 479h2v1h-2zM61 480h2v1h-2zM174 480h3v1h-3zM63 481h2v1h-2zM172 481h2v1h-2zM65 482h2v1h-2zM170 482h2v1h-2zM67 483h2v1h-2zM168 483h2v1h-2zM69 484h2v1h-2zM165 484h3v1h-3zM71 485h2v1h-2zM163 485h2v1h-2zM73 486h2v1h-2zM161 486h2v1h-2zM75 487h2v1h-2zM158 487h3v1h-3zM77 488h2v1h-2zM156 488h2v1h-2zM79 489h2v1h-2zM154 489h2v1h-2zM81 490h3v1h-3zM152 490h2v1h-2zM84 491h2v1h-2zM149 491h3v1h-3zM86 492h3v1h-3zM147 492h2v1h-2zM89 493h3v1h-3zM145 493h2v1h-2zM92 494h2v1h-2zM143 494h2v1h-2zM94 495h3v1h-3zM141 495h2v1h-2zM97 496h2v1h-2zM139 496h2v1h-2zM99 497h2v1h-2zM137 497h2v1h-2zM101 498h3v1h-3zM135 498h2v1h-2zM104 499h2v1h-2zM133 499h2v1h-2zM106 500h2v1h-2zM131 500h2v1h-2zM108 501h2v1h-2zM129 501h2v1h-2zM110 502h3v1h-3zM126 502h3v1h-3zM113 503h2v1h-2zM123 503h3v1h-3zM115 504h2v1h-2zM120 504h3v1h-3zM117 505h3v1h-3z" fill="#3cb371"/>
<path d="M1206 198h1v1h-1zM1205 199h1v1h-1zM1207 199h1v1h-1zM1204 200h1v1h-1zM1208 200h1v1h-1zM1204 201h1v1h-1zM1209 201h1v1h-1zM1203 202h1v1h-1zM1209 202h1v1h-1zM1202 203h1v1h-1zM1210 203h1v1h-1zM1201 204h1v1h-1zM1211 204h1v1h-1zM1200 205h1v1h-1zM1212 205h1v1h-1zM1200 206h1v1h-1zM1213 206h1v1h-1zM1199 207h1v1h-1zM1213 207h1v1h-1zM1198 208h1v1h-1zM1214 208h1v1h-1zM1196 209h2v1h-2zM1214 209h1v1h-1zM1194 210h2v1h-2zM1215 210h1v1h-1zM1162 211h4v1h-4zM1192 211h2v1h-2zM1216 211h1v1h-1zM1159 212h3v1h-3zM1166 212h4v1h-4zM1181 212h11v1h-11zM1216 212h1v1h-1zM1156 213h3v1h-3zM1170 213h11v1h-11zM1217 213h1v1h-1zM1237 213h1v1h-1zM1120 214h2v1h-2zM1152 214h4v1h-4zM1217 214h1v1h-1zM1236 214h1v1h-1zM1238 214h1v1h-1zM1119 215h1v1h-1zM1122 215h4v1h-4zM1148 215h4v1h-4zM1218 215h1v1h-1zM1235 215h1v1h-1zM1238 215h1v1h-1zM1118 216h1v1h-1zM1126 216h3v1h-3zM1144 216h4v1h-4zM1219 216h2v1h-2zM1233 216h2v1h-2zM1239 216h1v1h-1zM1117 217h1v1h-1zM1129 217h15v1h-15zM1221 217h1v1h-1zM1232 217h1v1h-1zM1239 217h1v1h-1zM1115 218h2v1h-2zM1222 218h1v1h-1zM1231 218h1v1h-1zM1240 218h1v1h-1zM1114 219h1v1h-1zM1223 219h2v1h-2zM1228 219h3v1h-3zM1240 219h1v1h-1zM1113 220h1v1h-1zM1225 220h3v1h-3zM1241 220h1v1h-1zM1112 221h1v1h-1zM1241 221h1v1h-1zM1111 222h1v1h-1zM1242 222h1v1h-1zM1110 223h1v1h-1zM1243 223h1v1h-1zM1109 224h1v1h-1zM1243 224h1v1h-1zM1108 225h1v1h-1zM1244 225h1v1h-1zM1106 226h2v1h-2zM1244 226h1v1h-1zM1105 227h1v1h-1zM1245 227h1v1h-1zM1104 228h1v1h-1zM1245 228h1v1h-1zM1103 229h1v1h-1zM1246 229h1v1h-1zM1102 230h1v1h-1zM1246 230h1v1h-1zM1101 231h1v1h-1zM1247 231h1v1h-1zM1100 232h1v1h-1zM1247 232h1v1h-1zM1098 233h2v1h-2zM1248 233h1v1h-1zM1097 234h1v1h-1zM1248 234h1v1h-1zM1096 235h1v1h-1zM1249 235h1v1h-1zM1095 236h1v1h-1zM1249 236h1v1h-1zM1094 237h1v1h-1zM1250 237h1v1h-1zM1093 238h1v1h-1zM1250 238h1v1h-1zM1091 239h2v1h-2zM1251 239h1v1h-1zM1090 240h1v1h-1zM1251 240h1v1h-1zM1089 241h1v1h-1zM1252 241h1v1h-1zM1087 242h2v1h-2zM1252 242h1v1h-1zM1086 243h1v1h-1zM1253 243h1v1h-1zM1085 244h1v1h-1zM1253 244h1v1h-1zM1083 245h2v1h-2zM1253 245h1v1h-1zM1082 246h1v1h-1zM1253 246h1v1h-1zM1081 247h1v1h-1zM1254 247h1v1h-1zM1079 248h2v1h-2zM1254 248h1v1h-1zM1078 249h1v1h-1zM1254 249h1v1h-1zM1077 250h1v1h-1zM1255 250h1v1h-1zM1075 251h2v1h-2zM1255 251h1v1h-1zM1074 252h1v1h-1zM1255 252h1v1h-1zM1073 253h1v1h-1zM1256 253h1v1h-1zM1071 254h2v1h-2zM1256 254h1v1h-1zM1070 255h1v1h-1zM1256 255h1v1h-1zM1069 256h1v1h-1zM1256 256h1v1h-1zM1068 257h1v1h-1zM1257 257h1v1h-1zM1067 258h1v1h-1zM1257 258h1v1h-1zM1066 259h1v1h-1zM1257 259h1v1h-1zM1066 260h1v1h-1zM1258 260h1v1h-1zM1065 261h1v1h-1zM1258 261h1v1h-1zM1064 262h1v1h-1zM1258 262h1v1h-1zM1063 263h1v1h-1zM1258 263h1v1h-1zM1062 264h1v1h-1zM1259 264h1v1h-1zM1060 265h2v1h-2zM1259 265h1v1h-1zM1058 266h2v1h-2zM1259 266h1v1h-1zM1056 267h2v1h-2zM1260 267h1v1h-1zM1054 268h2v1h-2zM1260 268h1v1h-1zM1052 269h2v1h-2zM1260 269h1v1h-1zM1050 270h2v1h-2zM1261 270h1v1h-1zM1049 271h1v1h-1zM1261 271h1v1h-1zM1048 272h1v1h-1zM1261 272h1v1h-1zM1046 273h2v1h-2zM1261 273h1v1h-1zM1045 274h1v1h-1zM1262 274h1v1h-1zM1044 275h1v1h-1zM1262 275h1v1h-1zM1042 276h2v1h-2zM1262 276h1v1h-1zM1041 277h1v1h-1zM1263 277h1v1h-1zM1040 278h1v1h-1zM1263 278h1v1h-1zM1038 279h2v1h-2zM1263 279h1v1h-1zM1036 280h2v1h-2zM1263 280h1v1h-1zM1034 281h2v1h-2zM1264 281h1v1h-1zM1032 282h2v1h-2zM1264 282h1v1h-1zM1030 283h2v1h-2zM1264 283h1v1h-1zM1029 284h1v1h-1zM1265 284h1v1h-1zM1028 285h1v1h-1zM1265 285h1v1h-1zM1028 286h1v1h-1zM1265 286h1v1h-1zM1027 287h1v1h-1zM1265 287h1v1h-1zM1026 288h1v1h-1zM1266 288h1v1h-1zM1025 289h1v1h-1zM1266 289h1v1h-1zM1024 290h1v1h-1zM1266 290h1v1h-1zM1024 291h1v1h-1zM1266 291h1v1h-1zM1023 292h1v1h-1zM1267 292h1v1h-1zM1022 293h1v1h-1zM1267 293h1v1h-1zM1020 294h2v1h-2zM1267 294h1v1h-1zM1019 295h1v1h-1zM1268 295h1v1h-1zM1017 296h2v1h-2zM1268 296h1v1h-1zM1016 297h1v1h-1zM1268 297h1v1h-1zM1014 298h2v1h-2zM1268 298h1v1h-1zM1004 299h10v1h-10zM1269 299h1v1h-1zM1002 300h2v1h-2zM1269 300h1v1h-1zM999 301h3v1h-3zM1269 301h1v1h-1zM997 302h2v1h-2zM1270 302h1v1h-1zM997 303h1v1h-1zM1270 303h1v1h-1zM996 304h1v1h-1zM1270 304h1v1h-1zM996 305h1v1h-1zM1270 305h1v1h-1zM996 306h1v1h-1zM1271 306h1v1h-1zM995 307h1v1h-1zM1271 307h1v1h-1zM995 308h1v1h-1zM1271 308h1v1h-1zM995 309h1v1h-1zM1271 309h1v1h-1zM994 310h1v1h-1zM1272 310h1v1h-1zM994 311h1v1h-1zM1272 311h1v1h-1zM994 312h1v1h-1zM1272 312h1v1h-1zM993 313h1v1h-1zM1272 313h1v1h-1zM993 314h1v1h-1zM1273 314h1v1h-1zM993 315h1v1h-1zM1273 315h1v1h-1zM992 316h1v1h-1zM1273 316h1v1h-1zM992 317h1v1h-1zM1273 317h1v1h-1zM992 318h1v1h-1zM1274 318h1v1h-1zM991 319h1v1h-1zM1274 319h1v1h-1zM991 320h1v1h-1zM1274 320h1v1h-1zM991 321h1v1h-1zM1274 321h1v1h-1zM991 322h1v1h-1zM1275 322h1v1h-1zM990 323h1v1h-1zM1275 323h1v1h-1zM990 324h1v1h-1zM1275 324h1v1h-1zM990 325h1v1h-1zM1275 325h1v1h-1zM989 326h1v1h-1zM1275 326h1v1h-1zM989 327h1v1h-1zM1276 327h1v1h-1zM988 328h1v1h-1zM1276 328h1v1h-1zM988 329h1v1h-1zM1276 329h1v1h-1zM987 330h1v1h-1zM1276 330h1v1h-1zM987 331h1v1h-1zM1277 331h1v1h-1zM986 332h1v1h-1zM1277 332h1v1h-1zM986 333h1v1h-1zM1277 333h1v1h-1zM985 334h1v1h-1zM1277 334h1v1h-1zM985 335h1v1h-1zM1278 335h1v1h-1zM984 336h1v1h-1zM1278 336h1v1h-1zM984 337h1v1h-1zM1278 337h1v1h-1zM983 338h1v1h-1zM1278 338h1v1h-1zM983 339h1v1h-1zM1279 339h1v1h-1zM982 340h1v1h-1zM1279 340h1v1h-1zM982 341h1v1h-1zM1279 341h1v1h-1zM982 342h1v1h-1zM1279 342h1v1h-1zM981 343h1v1h-1zM1280 343h1v1h-1zM981 344h1v1h-1zM1280 344h1v1h-1zM981 345h1v1h-1zM1280 345h1v1h-1zM980 346h1v1h-1zM1280 346h1v1h-1zM980 347h1v1h-1zM1280 347h1v1h-1zM979 348h1v1h-1zM1281 348h1v1h-1zM979 349h1v1h-1zM1281 349h1v1h-1zM979 350h1v1h-1zM1281 350h1v1h-1zM978 351h1v1h-1zM1281 351h1v1h-1zM978 352h1v1h-1zM1282 352h1v1h-1zM978 353h1v1h-1zM1282 353h1v1h-1zM977 354h1v1h-1zM1282 354h1v1h-1zM977 355h1v1h-1zM1282 355h1v1h-1zM977 356h1v1h-1zM1283 356h1v1h-1zM976 357h1v1h-1zM1283 357h1v1h-1zM976 358h1v1h-1zM1283 358h1v1h-1zM976 359h1v1h-1zM1283 359h1v1h-1zM975 360h1v1h-1zM1283 360h1v1h-1zM975 361h1v1h-1zM1284 361h1v1h-1zM974 362h1v1h-1zM1284 362h1v1h-1zM974 363h1v1h-1zM1284 363h1v1h-1zM974 364h1v1h-1zM1284 364h1v1h-1zM973 365h1v1h-1zM1285 365h1v1h-1zM973 366h1v1h-1zM1285 366h1v1h-1zM973 367h1v1h-1zM1285 367h1v1h-1zM972 368h1v1h-1zM1285 368h1v1h-1zM972 369h1v1h-1zM1285 369h1v1h-1zM972 370h1v1h-1zM1286 370h1v1h-1zM971 371h1v1h-1zM1286 371h1v1h-1zM971 372h1v1h-1zM1286 372h1v1h-1zM971 373h1v1h-1zM1286 373h1v1h-1zM971 374h1v1h-1zM1287 374h1v1h-1zM970 375h1v1h-1zM1287 375h1v1h-1zM970 376h1v1h-1zM1287 376h1v1h-1zM970 377h1v1h-1zM1287 377h1v1h-1zM969 378h1v1h-1zM1288 378h1v1h-1zM969 379h1v1h-1zM1288 379h1v1h-1zM969 380h1v1h-1zM1288 380h1v1h-1zM969 381h1v1h-1zM1288 381h1v1h-1zM968 382h1v1h-1zM1288 382h1v1h-1zM968 383h1v1h-1zM1289 383h1v1h-1zM968 384h1v1h-1zM1289 384h1v1h-1zM967 385h1v1h-1zM1289 385h1v1h-1zM967 386h1v1h-1zM1289 386h1v1h-1zM967 387h1v1h-1zM1289 387h1v1h-1zM967 388h1v1h-1zM1290 388h1v1h-1zM966 389h1v1h-1zM1290 389h1v1h-1zM966 390h1v1h-1zM1290 390h1v1h-1zM966 391h1v1h-1zM1290 391h1v1h-1zM965 392h1v1h-1zM1290 392h1v1h-1zM965 393h1v1h-1zM1291 393h1v1h-1zM965 394h1v1h-1zM1291 394h1v1h-1zM965 395h1v1h-1zM1291 395h1v1h-1zM964 396h1v1h-1zM1291 396h1v1h-1zM964 397h1v1h-1zM1291 397h1v1h-1zM964 398h1v1h-1zM1292 398h1v1h-1zM964 399h1v1h-1zM1292 399h1v1h-1zM963 400h1v1h-1zM1292 400h1v1h-1zM963 401h1v1h-1zM1292 401h1v1h-1zM963 402h1v1h-1zM1292 402h1v1h-1zM962 403h1v1h-1zM1293 403h1v1h-1zM962 404h1v1h-1zM1293 404h1v1h-1zM962 405h1v1h-1zM1293 405h1v1h-1zM962 406h1v1h-1zM1293 406h1v1h-1zM961 407h1v1h-1zM1293 407h1v1h-1zM961 408h1v1h-1zM1294 408h1v1h-1zM961 409h1v1h-1zM1294 409h1v1h-1zM961 410h1v1h-1zM1294 410h1v1h-1zM960 411h1v1h-1zM1294 411h1v1h-1zM960 412h1v1h-1zM1294 412h1v1h-1zM960 413h1v1h-1zM1295 413h1v1h-1zM959 414h1v1h-1zM1295 414h1v1h-1zM959 415h1v1h-1zM1295 415h1v1h-1zM958 416h1v1h-1zM1295 416h1v1h-1zM958 417h1v1h-1zM1295 417h1v1h-1zM958 418h1v1h-1zM1296 418h1v1h-1zM485 419h1v1h-1zM957 419h1v1h-1zM1296 419h1v1h-1zM484 420h1v1h-1zM486 420h2v1h-2zM957 420h1v1h-1zM1296 420h1v1h-1zM482 421h2v1h-2zM488 421h1v1h-1zM957 421h1v1h-1zM1296 421h1v1h-1zM481 422h1v1h-1zM489 422h1v1h-1zM956 422h1v1h-1zM1296 422h1v1h-1zM479 423h2v1h-2zM490 423h2v1h-2zM956 423h1v1h-1zM1297 423h1v1h-1zM477 424h2v1h-2zM492 424h2v1h-2zM955 424h1v1h-1zM1297 424h1v1h-1zM333 425h16v1h-16zM475 425h2v1h-2zM494 425h2v1h-2zM955 425h1v1h-1zM1297 425h1v1h-1zM331 426h2v1h-2zM349 426h8v1h-8zM472 426h3v1h-3zM496 426h3v1h-3zM955 426h1v1h-1zM1297 426h1v1h-1zM329 427h2v1h-2zM357 427h3v1h-3zM468 427h4v1h-4zM499 427h2v1h-2zM954 427h1v1h-1zM1297 427h1v1h-1zM327 428h2v1h-2zM360 428h3v1h-3zM464 428h4v1h-4zM501 428h2v1h-2zM954 428h1v1h-1zM1298 428h1v1h-1zM325 429h2v1h-2zM363 429h4v1h-4zM458 429h6v1h-6zM502 429h1v1h-1zM954 429h1v1h-1zM1298 429h1v1h-1zM323 430h2v1h-2zM367 430h4v1h-4zM374 430h1v1h-1zM453 430h5v1h-5zM503 430h1v1h-1zM953 430h1v1h-1zM1298 430h1v1h-1zM321 431h2v1h-2zM371 431h3v1h-3zM375 431h1v1h-1zM452 431h1v1h-1zM503 431h1v1h-1zM953 431h1v1h-1zM1298 431h1v1h-1zM319 432h2v1h-2zM375 432h1v1h-1zM451 432h1v1h-1zM504 432h1v1h-1zM952 432h1v1h-1zM1298 432h1v1h-1zM318 433h1v1h-1zM376 433h1v1h-1zM450 433h1v1h-1zM504 433h1v1h-1zM952 433h1v1h-1zM1299 433h1v1h-1zM316 434h2v1h-2zM377 434h1v1h-1zM449 434h1v1h-1zM505 434h1v1h-1zM952 434h1v1h-1zM1299 434h1v1h-1zM314 435h2v1h-2zM377 435h1v1h-1zM449 435h1v1h-1zM505 435h1v1h-1zM951 435h1v1h-1zM1299 435h1v1h-1zM312 436h2v1h-2zM378 436h1v1h-1zM448 436h1v1h-1zM506 436h1v1h-1zM951 436h1v1h-1zM1299 436h1v1h-1zM294 437h4v1h-4zM309 437h3v1h-3zM379 437h1v1h-1zM447 437h1v1h-1zM506 437h1v1h-1zM951 437h1v1h-1zM1299 437h1v1h-1zM292 438h2v1h-2zM298 438h4v1h-4zM305 438h4v1h-4zM379 438h1v1h-1zM446 438h1v1h-1zM507 438h1v1h-1zM950 438h1v1h-1zM1300 438h1v1h-1zM290 439h2v1h-2zM302 439h3v1h-3zM380 439h1v1h-1zM445 439h1v1h-1zM507 439h1v1h-1zM950 439h1v1h-1zM1300 439h1v1h-1zM288 440h2v1h-2zM381 440h1v1h-1zM444 440h1v1h-1zM508 440h1v1h-1zM949 440h1v1h-1zM1300 440h1v1h-1zM287 441h1v1h-1zM381 441h1v1h-1zM443 441h1v1h-1zM508 441h1v1h-1zM949 441h1v1h-1zM1300 441h1v1h-1zM286 442h1v1h-1zM382 442h1v1h-1zM442 442h1v1h-1zM508 442h1v1h-1zM948 442h1v1h-1zM1300 442h1v1h-1zM285 443h1v1h-1zM383 443h1v1h-1zM441 443h1v1h-1zM509 443h1v1h-1zM948 443h1v1h-1zM1300 443h1v1h-1zM284 444h1v1h-1zM383 444h1v1h-1zM440 444h1v1h-1zM509 444h1v1h-1zM947 444h1v1h-1zM1301 444h1v1h-1zM283 445h1v1h-1zM384 445h1v1h-1zM439 445h1v1h-1zM509 445h1v1h-1zM947 445h1v1h-1zM1301 445h1v1h-1zM282 446h1v1h-1zM384 446h1v1h-1zM438 446h1v1h-1zM510 446h1v1h-1zM946 446h1v1h-1zM1301 446h1v1h-1zM281 447h1v1h-1zM385 447h1v1h-1zM436 447h2v1h-2zM510 447h1v1h-1zM946 447h1v1h-1zM1301 447h1v1h-1zM280 448h1v1h-1zM386 448h1v1h-1zM433 448h3v1h-3zM510 448h1v1h-1zM945 448h1v1h-1zM1301 448h1v1h-1zM279 449h1v1h-1zM386 449h1v1h-1zM431 449h2v1h-2zM511 449h1v1h-1zM945 449h1v1h-1zM1302 449h1v1h-1zM279 450h1v1h-1zM387 450h1v1h-1zM428 450h3v1h-3zM511 450h1v1h-1zM944 450h1v1h-1zM1302 450h1v1h-1zM278 451h1v1h-1zM388 451h1v1h-1zM426 451h2v1h-2zM511 451h1v1h-1zM944 451h1v1h-1zM1302 451h1v1h-1zM278 452h1v1h-1zM389 452h1v1h-1zM424 452h2v1h-2zM512 452h1v1h-1zM943 452h1v1h-1zM1302 452h1v1h-1zM278 453h1v1h-1zM390 453h1v1h-1zM422 453h2v1h-2zM512 453h1v1h-1zM943 453h1v1h-1zM1302 453h1v1h-1zM277 454h1v1h-1zM391 454h2v1h-2zM421 454h1v1h-1zM512 454h1v1h-1zM692 454h3v1h-3zM943 454h1v1h-1zM1303 454h1v1h-1zM277 455h1v1h-1zM393 455h1v1h-1zM419 455h2v1h-2zM513 455h1v1h-1zM688 455h4v1h-4zM695 455h2v1h-2zM942 455h1v1h-1zM1303 455h1v1h-1zM277 456h1v1h-1zM394 456h1v1h-1zM417 456h2v1h-2zM513 456h1v1h-1zM683 456h5v1h-5zM697 456h2v1h-2zM942 456h1v1h-1zM1303 456h1v1h-1zM276 457h1v1h-1zM395 457h1v1h-1zM415 457h2v1h-2zM514 457h1v1h-1zM678 457h5v1h-5zM699 457h2v1h-2zM941 457h1v1h-1zM1303 457h1v1h-1zM276 458h1v1h-1zM396 458h1v1h-1zM414 458h1v1h-1zM514 458h1v1h-1zM677 458h1v1h-1zM701 458h3v1h-3zM941 458h1v1h-1zM1303 458h1v1h-1zM276 459h1v1h-1zM397 459h2v1h-2zM412 459h2v1h-2zM515 459h1v1h-1zM676 459h1v1h-1zM704 459h2v1h-2zM941 459h1v1h-1zM1304 459h1v1h-1zM275 460h1v1h-1zM399 460h2v1h-2zM410 460h2v1h-2zM515 460h1v1h-1zM675 460h1v1h-1zM706 460h3v1h-3zM940 460h1v1h-1zM1304 460h1v1h-1zM275 461h1v1h-1zM401 461h2v1h-2zM408 461h2v1h-2zM516 461h1v1h-1zM674 461h1v1h-1zM709 461h2v1h-2zM940 461h1v1h-1zM1304 461h1v1h-1zM275 462h1v1h-1zM403 462h2v1h-2zM406 462h2v1h-2zM516 462h1v1h-1zM673 462h1v1h-1zM711 462h3v1h-3zM939 462h1v1h-1zM1304 462h1v1h-1zM275 463h1v1h-1zM405 463h1v1h-1zM517 463h1v1h-1zM673 463h1v1h-1zM714 463h2v1h-2zM939 463h1v1h-1zM1304 463h1v1h-1zM274 464h1v1h-1zM517 464h1v1h-1zM672 464h1v1h-1zM716 464h2v1h-2zM938 464h1v1h-1zM1305 464h1v1h-1zM274 465h1v1h-1zM518 465h1v1h-1zM671 465h1v1h-1zM718 465h2v1h-2zM938 465h1v1h-1zM1305 465h1v1h-1zM274 466h1v1h-1zM518 466h1v1h-1zM670 466h1v1h-1zM720 466h1v1h-1zM937 466h1v1h-1zM1305 466h1v1h-1zM273 467h1v1h-1zM519 467h1v1h-1zM669 467h1v1h-1zM721 467h2v1h-2zM936 467h1v1h-1zM1305 467h1v1h-1zM273 468h1v1h-1zM520 468h1v1h-1zM668 468h1v1h-1zM723 468h1v1h-1zM936 468h1v1h-1zM1305 468h1v1h-1zM273 469h1v1h-1zM521 469h1v1h-1zM667 469h1v1h-1zM724 469h2v1h-2zM935 469h1v1h-1zM1306 469h1v1h-1zM272 470h1v1h-1zM521 470h1v1h-1zM666 470h1v1h-1zM726 470h1v1h-1zM935 470h1v1h-1zM1306 470h1v1h-1zM272 471h1v1h-1zM522 471h1v1h-1zM664 471h2v1h-2zM727 471h1v1h-1zM934 471h1v1h-1zM1306 471h1v1h-1zM272 472h1v1h-1zM523 472h1v1h-1zM663 472h1v1h-1zM727 472h1v1h-1zM933 472h1v1h-1zM1306 472h1v1h-1zM271 473h1v1h-1zM524 473h1v1h-1zM662 473h1v1h-1zM728 473h1v1h-1zM933 473h1v1h-1zM1307 473h1v1h-1zM271 474h1v1h-1zM524 474h1v1h-1zM660 474h2v1h-2zM728 474h1v1h-1zM932 474h1v1h-1zM1307 474h1v1h-1zM271 475h1v1h-1zM525 475h1v1h-1zM657 475h3v1h-3zM729 475h1v1h-1zM931 475h1v1h-1zM1307 475h1v1h-1zM270 476h1v1h-1zM525 476h1v1h-1zM652 476h5v1h-5zM729 476h1v1h-1zM931 476h1v1h-1zM1307 476h1v1h-1zM270 477h1v1h-1zM526 477h1v1h-1zM613 477h22v1h-22zM642 477h10v1h-10zM730 477h1v1h-1zM930 477h1v1h-1zM1308 477h1v1h-1zM270 478h1v1h-1zM526 478h1v1h-1zM612 478h1v1h-1zM635 478h7v1h-7zM730 478h1v1h-1zM929 478h1v1h-1zM1308 478h1v1h-1zM269 479h1v1h-1zM527 479h1v1h-1zM612 479h1v1h-1zM731 479h1v1h-1zM929 479h1v1h-1zM1308 479h1v1h-1zM269 480h1v1h-1zM527 480h1v1h-1zM611 480h1v1h-1zM731 480h1v1h-1zM928 480h1v1h-1zM1308 480h1v1h-1zM269 481h1v1h-1zM528 481h1v1h-1zM611 481h1v1h-1zM732 481h1v1h-1zM927 481h1v1h-1zM1309 481h1v1h-1zM268 482h1v1h-1zM528 482h1v1h-1zM610 482h1v1h-1zM733 482h1v1h-1zM927 482h1v1h-1zM1309 482h1v1h-1zM268 483h1v1h-1zM528 483h1v1h-1zM610 483h1v1h-1zM733 483h1v1h-1zM926 483h1v1h-1zM1309 483h1v1h-1zM268 484h1v1h-1zM529 484h1v1h-1zM609 484h1v1h-1zM734 484h1v1h-1zM926 484h1v1h-1zM1309 484h1v1h-1zM268 485h1v1h-1zM529 485h1v1h-1zM609 485h1v1h-1zM734 485h1v1h-1zM925 485h1v1h-1zM1310 485h1v1h-1zM267 486h1v1h-1zM530 486h1v1h-1zM608 486h1v1h-1zM735 486h1v1h-1zM924 486h1v1h-1zM1310 486h1v1h-1zM267 487h1v1h-1zM530 487h1v1h-1zM608 487h1v1h-1zM735 487h1v1h-1zM924 487h1v1h-1zM1310 487h1v1h-1zM267 488h1v1h-1zM531 488h1v1h-1zM607 488h1v1h-1zM736 488h1v1h-1zM923 488h1v1h-1zM1310 488h1v1h-1zM266 489h1v1h-1zM531 489h1v1h-1zM607 489h1v1h-1zM736 489h1v1h-1zM922 489h1v1h-1zM1311 489h1v1h-1zM266 490h1v1h-1zM532 490h1v1h-1zM606 490h1v1h-1zM737 490h1v1h-1zM922 490h1v1h-1zM1311 490h1v1h-1zM266 491h1v1h-1zM532 491h1v1h-1zM605 491h1v1h-1zM738 491h1v1h-1zM921 491h1v1h-1zM1311 491h1v1h-1zM265 492h1v1h-1zM533 492h1v1h-1zM604 492h1v1h-1zM738 492h1v1h-1zM921 492h1v1h-1zM1311 492h1v1h-1zM265 493h1v1h-1zM534 493h1v1h-1zM603 493h1v1h-1zM739 493h1v1h-1zM822 493h3v1h-3zM920 493h1v1h-1zM1312 493h1v1h-1zM265 494h1v1h-1zM535 494h1v1h-1zM602 494h1v1h-1zM740 494h1v1h-1zM821 494h1v1h-1zM825 494h4v1h-4zM919 494h1v1h-1zM1312 494h1v1h-1zM264 495h1v1h-1zM536 495h1v1h-1zM601 495h1v1h-1zM741 495h1v1h-1zM819 495h2v1h-2zM829 495h4v1h-4zM919 495h1v1h-1zM1312 495h1v1h-1zM264 496h1v1h-1zM537 496h1v1h-1zM600 496h1v1h-1zM741 496h1v1h-1zM818 496h1v1h-1zM833 496h2v1h-2zM918 496h1v1h-1zM1312 496h1v1h-1zM264 497h1v1h-1zM538 497h1v1h-1zM599 497h1v1h-1zM742 497h1v1h-1zM816 497h2v1h-2zM835 497h2v1h-2zM918 497h1v1h-1zM1313 497h1v1h-1zM263 498h1v1h-1zM539 498h1v1h-1zM598 498h1v1h-1zM743 498h2v1h-2zM814 498h2v1h-2zM837 498h1v1h-1zM917 498h1v1h-1zM1313 498h1v1h-1zM263 499h1v1h-1zM540 499h1v1h-1zM597 499h1v1h-1zM745 499h2v1h-2zM812 499h2v1h-2zM837 499h1v1h-1zM916 499h1v1h-1zM1313 499h1v1h-1zM263 500h1v1h-1zM541 500h1v1h-1zM580 500h3v1h-3zM595 500h2v1h-2zM747 500h1v1h-1zM809 500h3v1h-3zM838 500h1v1h-1zM916 500h1v1h-1zM1314 500h1v1h-1zM262 501h1v1h-1zM542 501h1v1h-1zM576 501h4v1h-4zM583 501h2v1h-2zM594 501h1v1h-1zM748 501h2v1h-2zM807 501h2v1h-2zM838 501h1v1h-1zM915 501h1v1h-1zM1314 501h1v1h-1zM262 502h1v1h-1zM543 502h2v1h-2zM572 502h4v1h-4zM585 502h2v1h-2zM592 502h2v1h-2zM750 502h2v1h-2zM805 502h2v1h-2zM839 502h1v1h-1zM915 502h1v1h-1zM1314 502h1v1h-1zM261 503h1v1h-1zM545 503h2v1h-2zM568 503h4v1h-4zM587 503h2v1h-2zM590 503h2v1h-2zM752 503h2v1h-2zM803 503h2v1h-2zM839 503h1v1h-1zM914 503h1v1h-1zM1315 503h1v1h-1zM261 504h1v1h-1zM547 504h2v1h-2zM564 504h4v1h-4zM589 504h1v1h-1zM754 504h3v1h-3zM798 504h5v1h-5zM839 504h1v1h-1zM914 504h1v1h-1zM1315 504h1v1h-1zM261 505h1v1h-1zM549 505h15v1h-15zM757 505h2v1h-2zM791 505h7v1h-7zM840 505h1v1h-1zM913 505h1v1h-1zM1315 505h1v1h-1zM260 506h1v1h-1zM759 506h5v1h-5zM782 506h9v1h-9zM840 506h1v1h-1zM913 506h1v1h-1zM1315 506h1v1h-1zM260 507h1v1h-1zM764 507h18v1h-18zM841 507h1v1h-1zM912 507h1v1h-1zM1316 507h1v1h-1zM260 508h1v1h-1zM841 508h1v1h-1zM912 508h1v1h-1zM1316 508h1v1h-1zM259 509h1v1h-1zM842 509h1v1h-1zM911 509h1v1h-1zM1316 509h1v1h-1zM259 510h1v1h-1zM842 510h1v1h-1zM911 510h1v1h-1zM1317 510h1v1h-1zM259 511h1v1h-1zM843 511h1v1h-1zM910 511h1v1h-1zM1317 511h1v1h-1zM258 512h1v1h-1zM843 512h1v1h-1zM910 512h1v1h-1zM1317 512h1v1h-1zM258 513h1v1h-1zM844 513h1v1h-1zM909 513h1v1h-1zM1318 513h1v1h-1zM257 514h1v1h-1zM844 514h1v1h-1zM909 514h1v1h-1zM1318 514h1v1h-1zM257 515h1v1h-1zM845 515h1v1h-1zM908 515h1v1h-1zM1318 515h1v1h-1zM257 516h1v1h-1zM845 516h1v1h-1zM908 516h1v1h-1zM1318 516h1v1h-1zM256 517h1v1h-1zM846 517h1v1h-1zM907 517h1v1h-1zM1319 517h1v1h-1zM256 518h1v1h-1zM847 518h1v1h-1zM907 518h1v1h-1zM1319 518h1v1h-1zM256 519h1v1h-1zM847 519h1v1h-1zM906 519h1v1h-1zM1319 519h1v1h-1zM255 520h1v1h-1zM848 520h1v1h-1zM905 520h1v1h-1zM1320 520h1v1h-1zM255 521h1v1h-1zM848 521h1v1h-1zM905 521h1v1h-1zM1320 521h1v1h-1zM254 522h1v1h-1zM849 522h1v1h-1zM904 522h1v1h-1zM1320 522h1v1h-1zM254 523h1v1h-1zM849 523h1v1h-1zM904 523h1v1h-1zM1320 523h1v1h-1zM253 524h1v1h-1zM850 524h1v1h-1zM903 524h1v1h-1zM1321 524h1v1h-1zM253 525h1v1h-1zM850 525h1v1h-1zM903 525h1v1h-1zM1321 525h1v1h-1zM252 526h1v1h-1zM851 526h1v1h-1zM902 526h1v1h-1zM1321 526h1v1h-1zM83 527h3v1h-3zM252 527h1v1h-1zM851 527h1v1h-1zM901 527h1v1h-1zM1321 527h1v1h-1zM54 528h2v1h-2zM81 528h2v1h-2zM86 528h2v1h-2zM251 528h1v1h-1zM851 528h1v1h-1zM901 528h1v1h-1zM1322 528h1v1h-1zM52 529h2v1h-2zM56 529h3v1h-3zM79 529h2v1h-2zM88 529h2v1h-2zM251 529h1v1h-1zM852 529h1v1h-1zM900 529h1v1h-1zM1322 529h1v1h-1zM51 530h1v1h-1zM59 530h4v1h-4zM76 530h3v1h-3zM90 530h1v1h-1zM250 530h1v1h-1zM852 530h1v1h-1zM899 530h1v1h-1zM1322 530h1v1h-1zM50 531h1v1h-1zM63 531h3v1h-3zM74 531h2v1h-2zM91 531h1v1h-1zM250 531h1v1h-1zM853 531h1v1h-1zM898 531h1v1h-1zM1322 531h1v1h-1zM48 532h2v1h-2zM66 532h3v1h-3zM72 532h2v1h-2zM92 532h1v1h-1zM249 532h1v1h-1zM853 532h1v1h-1zM898 532h1v1h-1zM1323 532h1v1h-1zM47 533h1v1h-1zM69 533h3v1h-3zM93 533h2v1h-2zM249 533h1v1h-1zM854 533h2v1h-2zM897 533h1v1h-1zM1323 533h1v1h-1zM46 534h1v1h-1zM95 534h1v1h-1zM248 534h1v1h-1zM856 534h1v1h-1zM896 534h1v1h-1zM1323 534h1v1h-1zM44 535h2v1h-2zM96 535h1v1h-1zM248 535h1v1h-1zM857 535h1v1h-1zM895 535h1v1h-1zM1323 535h1v1h-1zM42 536h2v1h-2zM97 536h1v1h-1zM247 536h1v1h-1zM858 536h2v1h-2zM895 536h1v1h-1zM1324 536h1v1h-1zM39 537h3v1h-3zM98 537h2v1h-2zM247 537h1v1h-1zM860 537h1v1h-1zM894 537h1v1h-1zM1324 537h1v1h-1zM20 538h19v1h-19zM100 538h2v1h-2zM246 538h1v1h-1zM861 538h2v1h-2zM893 538h1v1h-1zM1324 538h1v1h-1zM16 539h4v1h-4zM102 539h3v1h-3zM246 539h1v1h-1zM863 539h3v1h-3zM892 539h1v1h-1zM1325 539h1v1h-1zM12 540h4v1h-4zM105 540h2v1h-2zM116 540h3v1h-3zM245 540h1v1h-1zM866 540h2v1h-2zM891 540h1v1h-1zM1325 540h1v1h-1zM8 541h4v1h-4zM107 541h2v1h-2zM112 541h4v1h-4zM119 541h2v1h-2zM245 541h1v1h-1zM868 541h2v1h-2zM890 541h1v1h-1zM1326 541h1v1h-1zM3 542h5v1h-5zM109 542h3v1h-3zM121 542h2v1h-2zM244 542h1v1h-1zM870 542h2v1h-2zM889 542h1v1h-1zM1326 542h1v1h-1zM-2 543h5v1h-5zM123 543h2v1h-2zM243 543h1v1h-1zM872 543h2v1h-2zM889 543h1v1h-1zM1327 543h1v1h-1zM125 544h2v1h-2zM242 544h1v1h-1zM874 544h1v1h-1zM888 544h1v1h-1zM1327 544h1v1h-1zM127 545h1v1h-1zM242 545h1v1h-1zM875 545h2v1h-2zM887 545h1v1h-1zM1328 545h1v1h-1zM128 546h2v1h-2zM241 546h1v1h-1zM877 546h5v1h-5zM886 546h1v1h-1zM1329 546h1v1h-1zM130 547h1v1h-1zM240 547h1v1h-1zM882 547h4v1h-4zM1330 547h1v1h-1zM131 548h1v1h-1zM239 548h1v1h-1zM1330 548h1v1h-1zM132 549h2v1h-2zM239 549h1v1h-1zM1331 549h1v1h-1zM134 550h1v1h-1zM238 550h1v1h-1zM1332 550h1v1h-1zM135 551h1v1h-1zM237 551h1v1h-1zM1333 551h1v1h-1zM136 552h1v1h-1zM236 552h1v1h-1zM1334 552h1v1h-1zM136 553h1v1h-1zM235 553h1v1h-1zM1335 553h2v1h-2zM137 554h1v1h-1zM234 554h1v1h-1zM1337 554h2v1h-2zM138 555h1v1h-1zM233 555h1v1h-1zM1339 555h2v1h-2zM139 556h1v1h-1zM232 556h1v1h-1zM1341 556h1v1h-1zM139 557h1v1h-1zM231 557h1v1h-1zM140 558h2v1h-2zM230 558h1v1h-1zM142 559h2v1h-2zM229 559h1v1h-1zM144 560h2v1h-2zM228 560h1v1h-1zM146 561h2v1h-2zM227 561h1v1h-1zM148 562h2v1h-2zM226 562h1v1h-1zM150 563h6v1h-6zM225 563h1v1h-1zM156 564h8v1h-8zM224 564h1v1h-1zM164 565h8v1h-8zM223 565h1v1h-1zM172 566h5v1h-5zM221 566h2v1h-2zM177 567h3v1h-3zM218 567h3v1h-3zM180 568h2v1h-2zM216 568h2v1h-2zM182 569h3v1h-3zM213 569h3v1h-3zM185 570h2v1h-2zM209 570h4v1h-4zM187 571h2v1h-2zM205 571h4v1h-4zM189 572h5v1h-5zM200 572h5v1h-5zM194 573h6v1h-6z" fill="#3cb371"/>
<rect x="0" y="327" width="1616" height="1" fill="#ff0000"/>
<rect x="0" y="355" width="1616" height="1" fill="#ff0000"/>
<rect x="0" y="389" width="1616" height="1" fill="#c0c0c0"/>
<rect x="0" y="412" width="1616" height="1" fill="#32cd32"/>
<rect x="0" y="438" width="1616" height="1" fill="#0000ff"/>
<rect x="0" y="466" width="1616" height="1" fill="#0000ff"/>
<rect x="5" y="489" width="1" height="19" fill="#000"/>
<rect x="3" y="496" width="5" height="6" fill="#000"/>
<rect x="4" y="497" width="3" height="4" fill="#fff"/>
<rect x="13" y="485" width="1" height="43" fill="#000"/>
<rect x="11" y="485" width="5" height="35" fill="#000"/>
<rect x="12" y="486" width="3" height="33" fill="#fff"/>
<rect x="21" y="473" width="1" height="23" fill="#000"/>
<rect x="19" y="488" width="5" height="2" fill="#000"/>
<rect x="29" y="493" width="1" height="37" fill="#000"/>
<rect x="27" y="495" width="5" height="24" fill="#000"/>
<rect x="28" y="496" width="3" height="22" fill="#fff"/>
<rect x="37" y="483" width="1" height="20" fill="#000"/>
<rect x="35" y="495" width="5" height="8" fill="#000"/>
<rect x="45" y="498" width="1" height="43" fill="#000"/>
<rect x="43" y="506" width="5" height="35" fill="#000"/>
<rect x="44" y="507" width="3" height="33" fill="#fff"/>
<rect x="53" y="465" width="1" height="48" fill="#000"/>
<rect x="51" y="475" width="5" height="32" fill="#000"/>
<rect x="52" y="476" width="3" height="30" fill="#fff"/>
<rect x="61" y="471" width="1" height="40" fill="#000"/>
<rect x="59" y="479" width="5" height="22" fill="#000"/>
<rect x="69" y="491" width="1" height="65" fill="#000"/>
<rect x="67" y="498" width="5" height="29" fill="#000"/>
<rect x="77" y="466" width="1" height="72" fill="#000"/>
<rect x="75" y="494" width="5" height="22" fill="#000"/>
<rect x="76" y="495" width="3" height="20" fill="#fff"/>
<rect x="85" y="491" width="1" height="27" fill="#000"/>
<rect x="83" y="493" width="5" height="21" fill="#000"/>
<rect x="93" y="513" width="1" height="31" fill="#000"/>
<rect x="91" y="534" width="5" height="3" fill="#000"/>
<rect x="92" y="535" width="3" height="1" fill="#fff"/>
<rect x="101" y="526" width="1" height="20" fill="#000"/>
<rect x="99" y="535" width="5" height="8" fill="#000"/>
<rect x="109" y="518" width="1" height="46" fill="#000"/>
<rect x="107" y="531" width="5" height="26" fill="#000"/>
<rect x="108" y="532" width="3" height="24" fill="#fff"/>
<rect x="117" y="519" width="1" height="19" fill="#000"/>
<rect x="115" y="522" width="5" height="10" fill="#000"/>
<rect x="116" y="523" width="3" height="8" fill="#fff"/>
<rect x="125" y="450" width="1" height="56" fill="#000"/>
<rect x="123" y="452" width="5" height="48" fill="#000"/>
<rect x="124" y="453" width="3" height="46" fill="#fff"/>
<rect x="133" y="434" width="1" height="20" fill="#000"/>
<rect x="131" y="439" width="5" height="11" fill="#000"/>
<rect x="132" y="440" width="3" height="9" fill="#fff"/>
<rect x="141" y="404" width="1" height="40" fill="#000"/>
<rect x="139" y="413" width="5" height="9" fill="#000"/>
<rect x="140" y="414" width="3" height="7" fill="#fff"/>
<rect x="149" y="411" width="1" height="18" fill="#000"/>
<rect x="147" y="413" width="5" height="9" fill="#000"/>
<rect x="157" y="407" width="1" height="26" fill="#000"/>
<rect x="155" y="417" width="5" height="6" fill="#000"/>
<rect x="165" y="421" width="1" height="15" fill="#000"/>
<rect x="163" y="421" width="5" height="8" fill="#000"/>
<rect x="173" y="393" width="1" height="49" fill="#000"/>
<rect x="171" y="419" width="5" height="8" fill="#000"/>
<rect x="181" y="396" width="1" height="28" fill="#000"/>
<rect x="179" y="408" width="5" height="16" fill="#000"/>
<rect x="180" y="409" width="3" height="14" fill="#fff"/>
<rect x="189" y="359" width="1" height="39" fill="#000"/>
<rect x="187" y="374" width="5" height="17" fill="#000"/>
<rect x="188" y="375" width="3" height="15" fill="#fff"/>
<rect x="197" y="371" width="1" height="19" fill="#000"/>
<rect x="195" y="373" width="5" height="2" fill="#000"/>
<rect x="205" y="355" width="1" height="36" fill="#000"/>
<rect x="203" y="375" width="5" height="7" fill="#000"/>
<rect x="213" y="379" width="1" height="26" fill="#000"/>
<rect x="211" y="381" width="5" height="22" fill="#000"/>
<rect x="221" y="379" width="1" height="27" fill="#000"/>
<rect x="219" y="385" width="5" height="13" fill="#000"/>
<rect x="220" y="386" width="3" height="11" fill="#fff"/>
<rect x="229" y="384" width="1" height="16" fill="#000"/>
<rect x="227" y="384" width="5" height="16" fill="#000"/>
<rect x="237" y="372" width="1" height="25" fill="#000"/>
<rect x="235" y="385" width="5" height="3" fill="#000"/>
<rect x="236" y="386" width="3" height="1" fill="#fff"/>
<rect x="245" y="379" width="1" height="11" fill="#000"/>
<rect x="243" y="384" width="5" height="5" fill="#000"/>
<rect x="253" y="382" width="1" height="51" fill="#000"/>
<rect x="251" y="388" width="5" height="38" fill="#000"/>
<rect x="261" y="416" width="1" height="11" fill="#000"/>
<rect x="259" y="422" width="5" height="3" fill="#000"/>
<rect x="260" y="423" width="3" height="1" fill="#fff"/>
<rect x="269" y="394" width="1" height="25" fill="#000"/>
<rect x="267" y="399" width="5" height="11" fill="#000"/>
<rect x="268" y="400" width="3" height="9" fill="#fff"/>
<rect x="277" y="380" width="1" height="24" fill="#000"/>
<rect x="275" y="391" width="5" height="10" fill="#000"/>
<rect x="276" y="392" width="3" height="8" fill="#fff"/>
<rect x="285" y="385" width="1" height="28" fill="#000"/>
<rect x="283" y="386" width="5" height="14" fill="#000"/>
<rect x="293" y="388" width="1" height="17" fill="#000"/>
<rect x="291" y="399" width="5" height="2" fill="#000"/>
<rect x="301" y="352" width="1" height="39" fill="#000"/>
<rect x="299" y="355" width="5" height="33" fill="#000"/>
<rect x="300" y="356" width="3" height="31" fill="#fff"/>
<rect x="309" y="359" width="1" height="14" fill="#000"/>
<rect x="307" y="360" width="5" height="10" fill="#000"/>
<rect x="317" y="345" width="1" height="39" fill="#000"/>
<rect x="315" y="349" width="5" height="34" fill="#000"/>
<rect x="325" y="380" width="1" height="13" fill="#000"/>
<rect x="323" y="382" width="5" height="11" fill="#000"/>
<rect x="333" y="381" width="1" height="28" fill="#000"/>
<rect x="331" y="387" width="5" height="8" fill="#000"/>
<rect x="341" y="393" width="1" height="16" fill="#000"/>
<rect x="339" y="394" width="5" height="14" fill="#000"/>
<rect x="349" y="351" width="1" height="49" fill="#000"/>
<rect x="347" y="360" width="5" height="35" fill="#000"/>
<rect x="348" y="361" width="3" height="33" fill="#fff"/>
<rect x="357" y="357" width="1" height="23" fill="#000"/>
<rect x="355" y="359" width="5" height="2" fill="#000"/>
<rect x="365" y="345" width="1" height="47" fill="#000"/>
<rect x="363" y="351" width="5" height="35" fill="#000"/>
<rect x="364" y="352" width="3" height="33" fill="#fff"/>
<rect x="373" y="336" width="1" height="19" fill="#000"/>
<rect x="371" y="337" width="5" height="15" fill="#000"/>
<rect x="372" y="338" width="3" height="13" fill="#fff"/>
<rect x="381" y="282" width="1" height="44" fill="#000"/>
<rect x="379" y="288" width="5" height="38" fill="#000"/>
<rect x="380" y="289" width="3" height="36" fill="#fff"/>
<rect x="389" y="273" width="1" height="22" fill="#000"/>
<rect x="387" y="274" width="5" height="15" fill="#000"/>
<rect x="388" y="275" width="3" height="13" fill="#fff"/>
<rect x="397" y="256" width="1" height="38" fill="#000"/>
<rect x="395" y="257" width="5" height="15" fill="#000"/>
<rect x="396" y="258" width="3" height="13" fill="#fff"/>
<rect x="405" y="251" width="1" height="19" fill="#000"/>
<rect x="403" y="256" width="5" height="8" fill="#000"/>
<rect x="413" y="255" width="1" height="28" fill="#000"/>
<rect x="411" y="262" width="5" height="7" fill="#000"/>
<rect x="412" y="263" width="3" height="5" fill="#fff"/>
<rect x="421" y="247" width="1" height="19" fill="#000"/>
<rect x="419" y="255" width="5" height="9" fill="#000"/>
<rect x="420" y="256" width="3" height="7" fill="#fff"/>
<rect x="429" y="256" width="1" height="27" fill="#000"/>
<rect x="427" y="267" width="5" height="8" fill="#000"/>
<rect x="437" y="226" width="1" height="52" fill="#000"/>
<rect x="435" y="244" width="5" height="31" fill="#000"/>
<rect x="436" y="245" width="3" height="29" fill="#fff"/>
<rect x="445" y="235" width="1" height="29" fill="#000"/>
<rect x="443" y="236" width="5" height="21" fill="#000"/>
<rect x="453" y="256" width="1" height="20" fill="#000"/>
<rect x="451" y="256" width="5" height="8" fill="#000"/>
<rect x="461" y="293" width="1" height="67" fill="#000"/>
<rect x="459" y="294" width="5" height="56" fill="#000"/>
<rect x="469" y="351" width="1" height="33" fill="#000"/>
<rect x="467" y="352" width="5" height="6" fill="#000"/>
<rect x="477" y="339" width="1" height="50" fill="#000"/>
<rect x="475" y="339" width="5" height="24" fill="#000"/>
<rect x="485" y="344" width="1" height="25" fill="#000"/>
<rect x="483" y="359" width="5" height="3" fill="#000"/>
<rect x="484" y="360" width="3" height="1" fill="#fff"/>
<rect x="493" y="392" width="1" height="41" fill="#000"/>
<rect x="491" y="393" width="5" height="25" fill="#000"/>
<rect x="501" y="416" width="1" height="18" fill="#000"/>
<rect x="499" y="417" width="5" height="11" fill="#000"/>
<rect x="509" y="409" width="1" height="51" fill="#000"/>
<rect x="507" y="435" width="5" height="19" fill="#000"/>
<rect x="517" y="438" width="1" height="33" fill="#000"/>
<rect x="515" y="450" width="5" height="4" fill="#000"/>
<rect x="516" y="451" width="3" height="2" fill="#fff"/>
<rect x="525" y="410" width="1" height="38" fill="#000"/>
<rect x="523" y="424" width="5" height="17" fill="#000"/>
<rect x="533" y="438" width="1" height="20" fill="#000"/>
<rect x="531" y="442" width="5" height="16" fill="#000"/>
<rect x="541" y="401" width="1" height="51" fill="#000"/>
<rect x="539" y="411" width="5" height="41" fill="#000"/>
<rect x="540" y="412" width="3" height="39" fill="#fff"/>
<rect x="549" y="398" width="1" height="34" fill="#000"/>
<rect x="547" y="401" width="5" height="12" fill="#000"/>
<rect x="548" y="402" width="3" height="10" fill="#fff"/>
<rect x="557" y="359" width="1" height="68" fill="#000"/>
<rect x="555" y="366" width="5" height="59" fill="#000"/>
<rect x="556" y="367" width="3" height="57" fill="#fff"/>
<rect x="565" y="342" width="1" height="27" fill="#000"/>
<rect x="563" y="347" width="5" height="19" fill="#000"/>
<rect x="564" y="348" width="3" height="17" fill="#fff"/>
<rect x="573" y="363" width="1" height="25" fill="#000"/>
<rect x="571" y="370" width="5" height="5" fill="#000"/>
<rect x="572" y="371" width="3" height="3" fill="#fff"/>
<rect x="581" y="362" width="1" height="23" fill="#000"/>
<rect x="579" y="370" width="5" height="15" fill="#000"/>
<rect x="589" y="413" width="1" height="46" fill="#000"/>
<rect x="587" y="416" width="5" height="19" fill="#000"/>
<rect x="597" y="424" width="1" height="15" fill="#000"/>
<rect x="595" y="434" width="5" height="2" fill="#000"/>
<rect x="605" y="402" width="1" height="29" fill="#000"/>
<rect x="603" y="411" width="5" height="10" fill="#000"/>
<rect x="613" y="406" width="1" height="23" fill="#000"/>
<rect x="611" y="408" width="5" height="15" fill="#000"/>
<rect x="612" y="409" width="3" height="13" fill="#fff"/>
<rect x="621" y="337" width="1" height="69" fill="#000"/>
<rect x="619" y="344" width="5" height="62" fill="#000"/>
<rect x="620" y="345" width="3" height="60" fill="#fff"/>
<rect x="629" y="346" width="1" height="21" fill="#000"/>
<rect x="627" y="346" width="5" height="8" fill="#000"/>
<rect x="637" y="320" width="1" height="45" fill="#000"/>
<rect x="635" y="332" width="5" height="28" fill="#000"/>
<rect x="645" y="352" width="1" height="16" fill="#000"/>
<rect x="643" y="360" width="5" height="2" fill="#000"/>
<rect x="653" y="347" width="1" height="20" fill="#000"/>
<rect x="651" y="348" width="5" height="10" fill="#000"/>
<rect x="661" y="351" width="1" height="14" fill="#000"/>
<rect x="659" y="354" width="5" height="5" fill="#000"/>
<rect x="660" y="355" width="3" height="3" fill="#fff"/>
<rect x="669" y="349" width="1" height="37" fill="#000"/>
<rect x="667" y="362" width="5" height="21" fill="#000"/>
<rect x="668" y="363" width="3" height="19" fill="#fff"/>
<rect x="677" y="359" width="1" height="17" fill="#000"/>
<rect x="675" y="362" width="5" height="14" fill="#000"/>
<rect x="685" y="373" width="1" height="75" fill="#000"/>
<rect x="683" y="373" width="5" height="69" fill="#000"/>
<rect x="693" y="436" width="1" height="15" fill="#000"/>
<rect x="691" y="441" width="5" height="8" fill="#000"/>
<rect x="701" y="416" width="1" height="23" fill="#000"/>
<rect x="699" y="427" width="5" height="4" fill="#000"/>
<rect x="700" y="428" width="3" height="2" fill="#fff"/>
<rect x="709" y="426" width="1" height="8" fill="#000"/>
<rect x="707" y="426" width="5" height="1" fill="#000"/>
<rect x="717" y="430" width="1" height="57" fill="#000"/>
<rect x="715" y="433" width="5" height="19" fill="#000"/>
<rect x="716" y="434" width="3" height="17" fill="#fff"/>
<rect x="725" y="433" width="1" height="11" fill="#000"/>
<rect x="723" y="434" width="5" height="9" fill="#000"/>
<rect x="733" y="467" width="1" height="34" fill="#000"/>
<rect x="731" y="483" width="5" height="10" fill="#000"/>
<rect x="732" y="484" width="3" height="8" fill="#fff"/>
<rect x="741" y="474" width="1" height="16" fill="#000"/>
<rect x="739" y="481" width="5" height="6" fill="#000"/>
<rect x="749" y="450" width="1" height="28" fill="#000"/>
<rect x="747" y="460" width="5" height="15" fill="#000"/>
<rect x="757" y="457" width="1" height="19" fill="#000"/>
<rect x="755" y="462" width="5" height="12" fill="#000"/>
<rect x="756" y="463" width="3" height="10" fill="#fff"/>
<rect x="765" y="421" width="1" height="33" fill="#000"/>
<rect x="763" y="435" width="5" height="19" fill="#000"/>
<rect x="764" y="436" width="3" height="17" fill="#fff"/>
<rect x="773" y="418" width="1" height="25" fill="#000"/>
<rect x="771" y="424" width="5" height="14" fill="#000"/>
<rect x="772" y="425" width="3" height="12" fill="#fff"/>
<rect x="781" y="404" width="1" height="32" fill="#000"/>
<rect x="779" y="425" width="5" height="3" fill="#000"/>
<rect x="780" y="426" width="3" height="1" fill="#fff"/>
<rect x="789" y="417" width="1" height="12" fill="#000"/>
<rect x="787" y="424" width="5" height="2" fill="#000"/>
<rect x="797" y="416" width="1" height="39" fill="#000"/>
<rect x="795" y="426" width="5" height="15" fill="#000"/>
<rect x="796" y="427" width="3" height="13" fill="#fff"/>
<rect x="805" y="422" width="1" height="17" fill="#000"/>
<rect x="803" y="426" width="5" height="13" fill="#000"/>
<rect x="813" y="420" width="1" height="27" fill="#000"/>
<rect x="811" y="421" width="5" height="18" fill="#000"/>
<rect x="812" y="422" width="3" height="16" fill="#fff"/>
<rect x="821" y="400" width="1" height="25" fill="#000"/>
<rect x="819" y="404" width="5" height="18" fill="#000"/>
<rect x="820" y="405" width="3" height="16" fill="#fff"/>
<rect x="829" y="344" width="1" height="45" fill="#000"/>
<rect x="827" y="351" width="5" height="38" fill="#000"/>
<rect x="828" y="352" width="3" height="36" fill="#fff"/>
<rect x="837" y="346" width="1" height="14" fill="#000"/>
<rect x="835" y="352" width="5" height="5" fill="#000"/>
<rect x="845" y="273" width="1" height="25" fill="#000"/>
<rect x="843" y="277" width="5" height="15" fill="#000"/>
<rect x="844" y="278" width="3" height="13" fill="#fff"/>
<rect x="853" y="254" width="1" height="27" fill="#000"/>
<rect x="851" y="259" width="5" height="18" fill="#000"/>
<rect x="852" y="260" width="3" height="16" fill="#fff"/>
<rect x="861" y="254" width="1" height="33" fill="#000"/>
<rect x="859" y="273" width="5" height="3" fill="#000"/>
<rect x="869" y="268" width="1" height="18" fill="#000"/>
<rect x="867" y="273" width="5" height="4" fill="#000"/>
<rect x="877" y="237" width="1" height="43" fill="#000"/>
<rect x="875" y="240" width="5" height="33" fill="#000"/>
<rect x="876" y="241" width="3" height="31" fill="#fff"/>
<rect x="885" y="229" width="1" height="20" fill="#000"/>
<rect x="883" y="239" width="5" height="5" fill="#000"/>
<rect x="893" y="215" width="1" height="34" fill="#000"/>
<rect x="891" y="232" width="5" height="7" fill="#000"/>
<rect x="901" y="228" width="1" height="18" fill="#000"/>
<rect x="899" y="230" width="5" height="8" fill="#000"/>
<rect x="900" y="231" width="3" height="6" fill="#fff"/>
<rect x="909" y="222" width="1" height="40" fill="#000"/>
<rect x="907" y="232" width="5" height="24" fill="#000"/>
<rect x="917" y="238" width="1" height="19" fill="#000"/>
<rect x="915" y="245" width="5" height="12" fill="#000"/>
<rect x="916" y="246" width="3" height="10" fill="#fff"/>
<rect x="925" y="217" width="1" height="36" fill="#000"/>
<rect x="923" y="227" width="5" height="20" fill="#000"/>
<rect x="924" y="228" width="3" height="18" fill="#fff"/>
<rect x="933" y="227" width="1" height="17" fill="#000"/>
<rect x="931" y="227" width="5" height="1" fill="#000"/>
<rect x="941" y="209" width="1" height="32" fill="#000"/>
<rect x="939" y="213" width="5" height="19" fill="#000"/>
<rect x="949" y="230" width="1" height="10" fill="#000"/>
<rect x="947" y="231" width="5" height="8" fill="#000"/>
<rect x="957" y="217" width="1" height="18" fill="#000"/>
<rect x="955" y="221" width="5" height="7" fill="#000"/>
<rect x="965" y="172" width="1" height="31" fill="#000"/>
<rect x="963" y="178" width="5" height="21" fill="#000"/>
<rect x="964" y="179" width="3" height="19" fill="#fff"/>
<rect x="973" y="172" width="1" height="13" fill="#000"/>
<rect x="971" y="175" width="5" height="3" fill="#000"/>
<rect x="972" y="176" width="3" height="1" fill="#fff"/>
<rect x="981" y="145" width="1" height="37" fill="#000"/>
<rect x="979" y="149" width="5" height="28" fill="#000"/>
<rect x="980" y="150" width="3" height="26" fill="#fff"/>
<rect x="989" y="150" width="1" height="16" fill="#000"/>
<rect x="987" y="150" width="5" height="12" fill="#000"/>
<rect x="997" y="163" width="1" height="29" fill="#000"/>
<rect x="995" y="176" width="5" height="4" fill="#000"/>
<rect x="1005" y="133" width="1" height="57" fill="#000"/>
<rect x="1003" y="142" width="5" height="28" fill="#000"/>
<rect x="1004" y="143" width="3" height="26" fill="#fff"/>
<rect x="1013" y="132" width="1" height="24" fill="#000"/>
<rect x="1011" y="135" width="5" height="9" fill="#000"/>
<rect x="1012" y="136" width="3" height="7" fill="#fff"/>
<rect x="1021" y="88" width="1" height="66" fill="#000"/>
<rect x="1019" y="97" width="5" height="47" fill="#000"/>
<rect x="1029" y="141" width="1" height="20" fill="#000"/>
<rect x="1027" y="143" width="5" height="15" fill="#000"/>
<rect x="1037" y="159" width="1" height="28" fill="#000"/>
<rect x="1035" y="175" width="5" height="4" fill="#000"/>
<rect x="1036" y="176" width="3" height="2" fill="#fff"/>
<rect x="1045" y="168" width="1" height="41" fill="#000"/>
<rect x="1043" y="174" width="5" height="20" fill="#000"/>
<rect x="1053" y="146" width="1" height="31" fill="#000"/>
<rect x="1051" y="159" width="5" height="3" fill="#000"/>
<rect x="1052" y="160" width="3" height="1" fill="#fff"/>
<rect x="1061" y="156" width="1" height="25" fill="#000"/>
<rect x="1059" y="157" width="5" height="10" fill="#000"/>
<rect x="1069" y="184" width="1" height="54" fill="#000"/>
<rect x="1067" y="197" width="5" height="36" fill="#000"/>
<rect x="1068" y="198" width="3" height="34" fill="#fff"/>
<rect x="1077" y="197" width="1" height="23" fill="#000"/>
<rect x="1075" y="197" width="5" height="15" fill="#000"/>
<rect x="1085" y="149" width="1" height="20" fill="#000"/>
<rect x="1083" y="156" width="5" height="7" fill="#000"/>
<rect x="1084" y="157" width="3" height="5" fill="#fff"/>
<rect x="1093" y="131" width="1" height="26" fill="#000"/>
<rect x="1091" y="133" width="5" height="23" fill="#000"/>
<rect x="1092" y="134" width="3" height="21" fill="#fff"/>
<rect x="1101" y="119" width="1" height="26" fill="#000"/>
<rect x="1099" y="127" width="5" height="5" fill="#000"/>
<rect x="1109" y="121" width="1" height="17" fill="#000"/>
<rect x="1107" y="127" width="5" height="4" fill="#000"/>
<rect x="1108" y="128" width="3" height="2" fill="#fff"/>
<rect x="1117" y="79" width="1" height="42" fill="#000"/>
<rect x="1115" y="89" width="5" height="32" fill="#000"/>
<rect x="1116" y="90" width="3" height="30" fill="#fff"/>
<rect x="1125" y="75" width="1" height="18" fill="#000"/>
<rect x="1123" y="87" width="5" height="3" fill="#000"/>
<rect x="1124" y="88" width="3" height="1" fill="#fff"/>
<rect x="1133" y="49" width="1" height="46" fill="#000"/>
<rect x="1131" y="53" width="5" height="35" fill="#000"/>
<rect x="1141" y="80" width="1" height="30" fill="#000"/>
<rect x="1139" y="87" width="5" height="23" fill="#000"/>
<rect x="1149" y="78" width="1" height="50" fill="#000"/>
<rect x="1147" y="89" width="5" height="34" fill="#000"/>
<rect x="1157" y="103" width="1" height="25" fill="#000"/>
<rect x="1155" y="114" width="5" height="9" fill="#000"/>
<rect x="1156" y="115" width="3" height="7" fill="#fff"/>
<rect x="1165" y="76" width="1" height="41" fill="#000"/>
<rect x="1163" y="102" width="5" height="7" fill="#000"/>
<rect x="1173" y="95" width="1" height="16" fill="#000"/>
<rect x="1171" y="95" width="5" height="13" fill="#000"/>
<rect x="1172" y="96" width="3" height="11" fill="#fff"/>
<rect x="1181" y="58" width="1" height="50" fill="#000"/>
<rect x="1179" y="77" width="5" height="20" fill="#000"/>
<rect x="1189" y="70" width="1" height="32" fill="#000"/>
<rect x="1187" y="71" width="5" height="26" fill="#000"/>
<rect x="1188" y="72" width="3" height="24" fill="#fff"/>
<rect x="1197" y="51" width="1" height="39" fill="#000"/>
<rect x="1195" y="59" width="5" height="29" fill="#000"/>
<rect x="1205" y="82" width="1" height="43" fill="#000"/>
<rect x="1203" y="88" width="5" height="36" fill="#000"/>
<rect x="1213" y="134" width="1" height="71" fill="#000"/>
<rect x="1211" y="138" width="5" height="63" fill="#000"/>
<rect x="1221" y="191" width="1" height="50" fill="#000"/>
<rect x="1219" y="200" width="5" height="33" fill="#000"/>
<rect x="1229" y="184" width="1" height="44" fill="#000"/>
<rect x="1227" y="191" width="5" height="20" fill="#000"/>
<rect x="1228" y="192" width="3" height="18" fill="#fff"/>
<rect x="1237" y="166" width="1" height="28" fill="#000"/>
<rect x="1235" y="177" width="5" height="15" fill="#000"/>
<rect x="1236" y="178" width="3" height="13" fill="#fff"/>
<rect x="1245" y="201" width="1" height="43" fill="#000"/>
<rect x="1243" y="212" width="5" height="29" fill="#000"/>
<rect x="1253" y="235" width="1" height="26" fill="#000"/>
<rect x="1251" y="240" width="5" height="5" fill="#000"/>
<rect x="1261" y="229" width="1" height="30" fill="#000"/>
<rect x="1259" y="236" width="5" height="21" fill="#000"/>
<rect x="1260" y="237" width="3" height="19" fill="#fff"/>
<rect x="1269" y="318" width="1" height="45" fill="#000"/>
<rect x="1267" y="324" width="5" height="36" fill="#000"/>
<rect x="1268" y="325" width="3" height="34" fill="#fff"/>
<rect x="1277" y="316" width="1" height="35" fill="#000"/>
<rect x="1275" y="325" width="5" height="26" fill="#000"/>
<rect x="1285" y="345" width="1" height="65" fill="#000"/>
<rect x="1283" y="371" width="5" height="36" fill="#000"/>
<rect x="1293" y="404" width="1" height="56" fill="#000"/>
<rect x="1291" y="408" width="5" height="40" fill="#000"/>
<rect x="1301" y="390" width="1" height="48" fill="#000"/>
<rect x="1299" y="397" width="5" height="34" fill="#000"/>
<rect x="1309" y="425" width="1" height="39" fill="#000"/>
<rect x="1307" y="430" width="5" height="33" fill="#000"/>
<rect x="1317" y="431" width="1" height="53" fill="#000"/>
<rect x="1315" y="459" width="5" height="9" fill="#000"/>
<rect x="1316" y="460" width="3" height="7" fill="#fff"/>
<rect x="1325" y="438" width="1" height="30" fill="#000"/>
<rect x="1323" y="461" width="5" height="7" fill="#000"/>
<rect x="1333" y="406" width="1" height="48" fill="#000"/>
<rect x="1331" y="412" width="5" height="34" fill="#000"/>
<rect x="1332" y="413" width="3" height="32" fill="#fff"/>
<rect x="1341" y="388" width="1" height="44" fill="#000"/>
<rect x="1339" y="389" width="5" height="28" fill="#000"/>
<rect x="1340" y="390" width="3" height="26" fill="#fff"/>
<rect x="1278" y="410" width="89" height="7" fill="#00ff00"/>
</g>
<g clip-path="url(#cm)" shape-rendering="crispEdges">
<line x1="1253.6" y1="235" x2="1319.3" y2="497" stroke="#ff0000" stroke-width="3"/>
<polygon points="1319.4,503 1311.6,489.5 1313.5,488 1316.5,490.5 1320.5,486 1324,490" fill="#ff0000"/>
<line x1="1320.3" y1="497" x2="1366" y2="357" stroke="#ff0000" stroke-width="3"/>
<polygon points="1367.7,349.7 1369.3,351 1369.3,362 1367.5,363.2 1365.8,361 1363.5,362.3 1361.3,361 1360,359.3 1360.2,358" fill="#ff0000"/>
</g>
<g shape-rendering="crispEdges">
<rect x="-2.5" y="325.5" width="4" height="4" fill="#fff" stroke="#ff0000" stroke-width="1"/>
<rect x="1611.5" y="325.5" width="4" height="4" fill="#fff" stroke="#ff0000" stroke-width="1"/>
<rect x="-2.5" y="353.5" width="4" height="4" fill="#fff" stroke="#ff0000" stroke-width="1"/>
<rect x="1611.5" y="353.5" width="4" height="4" fill="#fff" stroke="#ff0000" stroke-width="1"/>
<rect x="-2.5" y="410.5" width="4" height="4" fill="#fff" stroke="#32cd32" stroke-width="1"/>
<rect x="1611.5" y="410.5" width="4" height="4" fill="#fff" stroke="#32cd32" stroke-width="1"/>
<rect x="-2.5" y="436.5" width="4" height="4" fill="#fff" stroke="#0000ff" stroke-width="1"/>
<rect x="1611.5" y="436.5" width="4" height="4" fill="#fff" stroke="#0000ff" stroke-width="1"/>
<rect x="-2.5" y="464.5" width="4" height="4" fill="#fff" stroke="#0000ff" stroke-width="1"/>
<rect x="1611.5" y="464.5" width="4" height="4" fill="#fff" stroke="#0000ff" stroke-width="1"/>
<polygon points="1350,24 1361,24 1355.5,29" fill="#c0c0c0"/>
<rect x="0" y="23" width="1617" height="1" fill="#000"/>
<rect x="0" y="576" width="1617" height="1" fill="#000"/>
<rect x="0" y="578" width="1617" height="1" fill="#000"/>
<rect x="0" y="748" width="1617" height="1" fill="#000"/>
<rect x="0" y="750" width="1617" height="1" fill="#000"/>
<rect x="0" y="924" width="1617" height="1" fill="#000"/>
<rect x="1616" y="23" width="1" height="554" fill="#000"/>
<rect x="1616" y="578" width="1" height="171" fill="#000"/>
<rect x="1616" y="750" width="1" height="175" fill="#000"/>
<rect x="1661" y="21" width="1" height="924" fill="#f6f6f6"/>
<rect x="1662" y="21" width="1" height="924" fill="#e6e6e6"/>
<rect x="1617" y="45" width="2" height="1" fill="#000"/>
<rect x="1617" y="78" width="2" height="1" fill="#000"/>
<rect x="1617" y="111" width="2" height="1" fill="#000"/>
<rect x="1617" y="144" width="2" height="1" fill="#000"/>
<rect x="1617" y="177" width="2" height="1" fill="#000"/>
<rect x="1617" y="210" width="2" height="1" fill="#000"/>
<rect x="1617" y="243" width="2" height="1" fill="#000"/>
<rect x="1617" y="276" width="2" height="1" fill="#000"/>
<rect x="1617" y="309" width="2" height="1" fill="#000"/>
<rect x="1617" y="342" width="2" height="1" fill="#000"/>
<rect x="1617" y="375" width="2" height="1" fill="#000"/>
<rect x="1617" y="408" width="2" height="1" fill="#000"/>
<rect x="1617" y="441" width="2" height="1" fill="#000"/>
<rect x="1617" y="474" width="2" height="1" fill="#000"/>
<rect x="1617" y="507" width="2" height="1" fill="#000"/>
<rect x="1617" y="540" width="2" height="1" fill="#000"/>
<rect x="1617" y="573" width="2" height="1" fill="#000"/>
<rect x="1617" y="580" width="2" height="1" fill="#000"/>
<rect x="1617" y="647" width="2" height="1" fill="#000"/>
<rect x="1617" y="747" width="2" height="1" fill="#000"/>
<rect x="1617" y="752" width="2" height="1" fill="#000"/>
<rect x="1617" y="923" width="2" height="1" fill="#000"/>
<rect x="61" y="925" width="1" height="3" fill="#000"/>
<rect x="125" y="925" width="1" height="3" fill="#000"/>
<rect x="189" y="925" width="1" height="3" fill="#000"/>
<rect x="253" y="925" width="1" height="3" fill="#000"/>
<rect x="317" y="925" width="1" height="3" fill="#000"/>
<rect x="381" y="925" width="1" height="3" fill="#000"/>
<rect x="445" y="925" width="1" height="3" fill="#000"/>
<rect x="509" y="925" width="1" height="3" fill="#000"/>
<rect x="573" y="925" width="1" height="3" fill="#000"/>
<rect x="637" y="925" width="1" height="3" fill="#000"/>
<rect x="701" y="925" width="1" height="3" fill="#000"/>
<rect x="765" y="925" width="1" height="3" fill="#000"/>
<rect x="829" y="925" width="1" height="3" fill="#000"/>
<rect x="893" y="925" width="1" height="3" fill="#000"/>
<rect x="957" y="925" width="1" height="3" fill="#000"/>
<rect x="1021" y="925" width="1" height="3" fill="#000"/>
<rect x="1085" y="925" width="1" height="3" fill="#000"/>
<rect x="1149" y="925" width="1" height="3" fill="#000"/>
<rect x="1213" y="925" width="1" height="3" fill="#000"/>
<rect x="1277" y="925" width="1" height="3" fill="#000"/>
<rect x="1341" y="925" width="1" height="3" fill="#000"/>
</g>
<g clip-path="url(#c2)" shape-rendering="crispEdges">
<rect x="5" y="647" width="1" height="24" fill="#c0c0c0"/>
<rect x="13" y="647" width="1" height="24" fill="#c0c0c0"/>
<rect x="21" y="647" width="1" height="23" fill="#c0c0c0"/>
<rect x="29" y="647" width="1" height="22" fill="#c0c0c0"/>
<rect x="37" y="647" width="1" height="24" fill="#c0c0c0"/>
<rect x="45" y="647" width="1" height="24" fill="#c0c0c0"/>
<rect x="53" y="647" width="1" height="21" fill="#c0c0c0"/>
<rect x="61" y="647" width="1" height="21" fill="#c0c0c0"/>
<rect x="69" y="647" width="1" height="23" fill="#c0c0c0"/>
<rect x="77" y="647" width="1" height="21" fill="#c0c0c0"/>
<rect x="85" y="647" width="1" height="22" fill="#c0c0c0"/>
<rect x="93" y="647" width="1" height="23" fill="#c0c0c0"/>
<rect x="101" y="647" width="1" height="25" fill="#c0c0c0"/>
<rect x="109" y="647" width="1" height="26" fill="#c0c0c0"/>
<rect x="117" y="647" width="1" height="25" fill="#c0c0c0"/>
<rect x="125" y="647" width="1" height="17" fill="#c0c0c0"/>
<rect x="133" y="647" width="1" height="10" fill="#c0c0c0"/>
<rect x="141" y="647" width="1" height="2" fill="#c0c0c0"/>
<rect x="149" y="644" width="1" height="4" fill="#c0c0c0"/>
<rect x="157" y="640" width="1" height="8" fill="#c0c0c0"/>
<rect x="165" y="637" width="1" height="11" fill="#c0c0c0"/>
<rect x="173" y="635" width="1" height="13" fill="#c0c0c0"/>
<rect x="181" y="632" width="1" height="16" fill="#c0c0c0"/>
<rect x="189" y="626" width="1" height="22" fill="#c0c0c0"/>
<rect x="197" y="622" width="1" height="26" fill="#c0c0c0"/>
<rect x="205" y="620" width="1" height="28" fill="#c0c0c0"/>
<rect x="213" y="621" width="1" height="27" fill="#c0c0c0"/>
<rect x="221" y="620" width="1" height="28" fill="#c0c0c0"/>
<rect x="229" y="621" width="1" height="27" fill="#c0c0c0"/>
<rect x="237" y="621" width="1" height="27" fill="#c0c0c0"/>
<rect x="245" y="622" width="1" height="26" fill="#c0c0c0"/>
<rect x="253" y="622" width="1" height="26" fill="#c0c0c0"/>
<rect x="261" y="625" width="1" height="23" fill="#c0c0c0"/>
<rect x="269" y="628" width="1" height="20" fill="#c0c0c0"/>
<rect x="277" y="629" width="1" height="19" fill="#c0c0c0"/>
<rect x="285" y="629" width="1" height="19" fill="#c0c0c0"/>
<rect x="293" y="631" width="1" height="17" fill="#c0c0c0"/>
<rect x="301" y="627" width="1" height="21" fill="#c0c0c0"/>
<rect x="309" y="627" width="1" height="21" fill="#c0c0c0"/>
<rect x="317" y="628" width="1" height="20" fill="#c0c0c0"/>
<rect x="325" y="629" width="1" height="19" fill="#c0c0c0"/>
<rect x="333" y="631" width="1" height="17" fill="#c0c0c0"/>
<rect x="341" y="632" width="1" height="16" fill="#c0c0c0"/>
<rect x="349" y="631" width="1" height="17" fill="#c0c0c0"/>
<rect x="357" y="629" width="1" height="19" fill="#c0c0c0"/>
<rect x="365" y="628" width="1" height="20" fill="#c0c0c0"/>
<rect x="373" y="626" width="1" height="22" fill="#c0c0c0"/>
<rect x="381" y="620" width="1" height="28" fill="#c0c0c0"/>
<rect x="389" y="613" width="1" height="35" fill="#c0c0c0"/>
<rect x="397" y="608" width="1" height="40" fill="#c0c0c0"/>
<rect x="405" y="604" width="1" height="44" fill="#c0c0c0"/>
<rect x="413" y="602" width="1" height="46" fill="#c0c0c0"/>
<rect x="421" y="601" width="1" height="47" fill="#c0c0c0"/>
<rect x="429" y="602" width="1" height="46" fill="#c0c0c0"/>
<rect x="437" y="600" width="1" height="48" fill="#c0c0c0"/>
<rect x="445" y="600" width="1" height="48" fill="#c0c0c0"/>
<rect x="453" y="603" width="1" height="45" fill="#c0c0c0"/>
<rect x="461" y="611" width="1" height="37" fill="#c0c0c0"/>
<rect x="469" y="620" width="1" height="28" fill="#c0c0c0"/>
<rect x="477" y="627" width="1" height="21" fill="#c0c0c0"/>
<rect x="485" y="632" width="1" height="16" fill="#c0c0c0"/>
<rect x="493" y="643" width="1" height="5" fill="#c0c0c0"/>
<rect x="501" y="647" width="1" height="4" fill="#c0c0c0"/>
<rect x="509" y="647" width="1" height="14" fill="#c0c0c0"/>
<rect x="517" y="647" width="1" height="20" fill="#c0c0c0"/>
<rect x="525" y="647" width="1" height="25" fill="#c0c0c0"/>
<rect x="533" y="647" width="1" height="29" fill="#c0c0c0"/>
<rect x="541" y="647" width="1" height="28" fill="#c0c0c0"/>
<rect x="549" y="647" width="1" height="26" fill="#c0c0c0"/>
<rect x="557" y="647" width="1" height="21" fill="#c0c0c0"/>
<rect x="565" y="647" width="1" height="15" fill="#c0c0c0"/>
<rect x="573" y="647" width="1" height="13" fill="#c0c0c0"/>
<rect x="581" y="647" width="1" height="12" fill="#c0c0c0"/>
<rect x="589" y="647" width="1" height="15" fill="#c0c0c0"/>
<rect x="597" y="647" width="1" height="18" fill="#c0c0c0"/>
<rect x="605" y="647" width="1" height="19" fill="#c0c0c0"/>
<rect x="613" y="647" width="1" height="18" fill="#c0c0c0"/>
<rect x="621" y="647" width="1" height="11" fill="#c0c0c0"/>
<rect x="629" y="647" width="1" height="7" fill="#c0c0c0"/>
<rect x="637" y="647" width="1" height="3" fill="#c0c0c0"/>
<rect x="645" y="647" width="1" height="1" fill="#c0c0c0"/>
<rect x="653" y="647" width="1" height="1" fill="#c0c0c0"/>
<rect x="661" y="645" width="1" height="3" fill="#c0c0c0"/>
<rect x="669" y="644" width="1" height="4" fill="#c0c0c0"/>
<rect x="677" y="645" width="1" height="3" fill="#c0c0c0"/>
<rect x="685" y="647" width="1" height="2" fill="#c0c0c0"/>
<rect x="693" y="647" width="1" height="9" fill="#c0c0c0"/>
<rect x="701" y="647" width="1" height="12" fill="#c0c0c0"/>
<rect x="709" y="647" width="1" height="13" fill="#c0c0c0"/>
<rect x="717" y="647" width="1" height="15" fill="#c0c0c0"/>
<rect x="725" y="647" width="1" height="17" fill="#c0c0c0"/>
<rect x="733" y="647" width="1" height="22" fill="#c0c0c0"/>
<rect x="741" y="647" width="1" height="27" fill="#c0c0c0"/>
<rect x="749" y="647" width="1" height="28" fill="#c0c0c0"/>
<rect x="757" y="647" width="1" height="28" fill="#c0c0c0"/>
<rect x="765" y="647" width="1" height="26" fill="#c0c0c0"/>
<rect x="773" y="647" width="1" height="22" fill="#c0c0c0"/>
<rect x="781" y="647" width="1" height="19" fill="#c0c0c0"/>
<rect x="789" y="647" width="1" height="17" fill="#c0c0c0"/>
<rect x="797" y="647" width="1" height="15" fill="#c0c0c0"/>
<rect x="805" y="647" width="1" height="14" fill="#c0c0c0"/>
<rect x="813" y="647" width="1" height="12" fill="#c0c0c0"/>
<rect x="821" y="647" width="1" height="8" fill="#c0c0c0"/>
<rect x="829" y="647" width="1" height="1" fill="#c0c0c0"/>
<rect x="837" y="643" width="1" height="5" fill="#c0c0c0"/>
<rect x="845" y="632" width="1" height="16" fill="#c0c0c0"/>
<rect x="853" y="621" width="1" height="27" fill="#c0c0c0"/>
<rect x="861" y="615" width="1" height="33" fill="#c0c0c0"/>
<rect x="869" y="610" width="1" height="38" fill="#c0c0c0"/>
<rect x="877" y="603" width="1" height="45" fill="#c0c0c0"/>
<rect x="885" y="600" width="1" height="48" fill="#c0c0c0"/>
<rect x="893" y="596" width="1" height="52" fill="#c0c0c0"/>
<rect x="901" y="594" width="1" height="54" fill="#c0c0c0"/>
<rect x="909" y="594" width="1" height="54" fill="#c0c0c0"/>
<rect x="917" y="595" width="1" height="53" fill="#c0c0c0"/>
<rect x="925" y="594" width="1" height="54" fill="#c0c0c0"/>
<rect x="933" y="594" width="1" height="54" fill="#c0c0c0"/>
<rect x="941" y="596" width="1" height="52" fill="#c0c0c0"/>
<rect x="949" y="597" width="1" height="51" fill="#c0c0c0"/>
<rect x="957" y="598" width="1" height="50" fill="#c0c0c0"/>
<rect x="965" y="594" width="1" height="54" fill="#c0c0c0"/>
<rect x="973" y="592" width="1" height="56" fill="#c0c0c0"/>
<rect x="981" y="590" width="1" height="58" fill="#c0c0c0"/>
<rect x="989" y="589" width="1" height="59" fill="#c0c0c0"/>
<rect x="997" y="591" width="1" height="57" fill="#c0c0c0"/>
<rect x="1005" y="589" width="1" height="59" fill="#c0c0c0"/>
<rect x="1013" y="588" width="1" height="60" fill="#c0c0c0"/>
<rect x="1021" y="589" width="1" height="59" fill="#c0c0c0"/>
<rect x="1029" y="591" width="1" height="57" fill="#c0c0c0"/>
<rect x="1037" y="595" width="1" height="53" fill="#c0c0c0"/>
<rect x="1045" y="601" width="1" height="47" fill="#c0c0c0"/>
<rect x="1053" y="602" width="1" height="46" fill="#c0c0c0"/>
<rect x="1061" y="605" width="1" height="43" fill="#c0c0c0"/>
<rect x="1069" y="610" width="1" height="38" fill="#c0c0c0"/>
<rect x="1077" y="616" width="1" height="32" fill="#c0c0c0"/>
<rect x="1085" y="616" width="1" height="32" fill="#c0c0c0"/>
<rect x="1093" y="613" width="1" height="35" fill="#c0c0c0"/>
<rect x="1101" y="613" width="1" height="35" fill="#c0c0c0"/>
<rect x="1109" y="612" width="1" height="36" fill="#c0c0c0"/>
<rect x="1117" y="608" width="1" height="40" fill="#c0c0c0"/>
<rect x="1125" y="606" width="1" height="42" fill="#c0c0c0"/>
<rect x="1133" y="603" width="1" height="45" fill="#c0c0c0"/>
<rect x="1141" y="605" width="1" height="43" fill="#c0c0c0"/>
<rect x="1149" y="608" width="1" height="40" fill="#c0c0c0"/>
<rect x="1157" y="610" width="1" height="38" fill="#c0c0c0"/>
<rect x="1165" y="611" width="1" height="37" fill="#c0c0c0"/>
<rect x="1173" y="611" width="1" height="37" fill="#c0c0c0"/>
<rect x="1181" y="612" width="1" height="36" fill="#c0c0c0"/>
<rect x="1189" y="611" width="1" height="37" fill="#c0c0c0"/>
<rect x="1197" y="612" width="1" height="36" fill="#c0c0c0"/>
<rect x="1205" y="616" width="1" height="32" fill="#c0c0c0"/>
<rect x="1213" y="627" width="1" height="21" fill="#c0c0c0"/>
<rect x="1221" y="638" width="1" height="10" fill="#c0c0c0"/>
<rect x="1229" y="644" width="1" height="4" fill="#c0c0c0"/>
<rect x="1237" y="647" width="1" height="1" fill="#c0c0c0"/>
<rect x="1245" y="647" width="1" height="7" fill="#c0c0c0"/>
<rect x="1253" y="647" width="1" height="14" fill="#c0c0c0"/>
<rect x="1261" y="647" width="1" height="18" fill="#c0c0c0"/>
<rect x="1269" y="647" width="1" height="29" fill="#c0c0c0"/>
<rect x="1277" y="647" width="1" height="40" fill="#c0c0c0"/>
<rect x="1285" y="647" width="1" height="53" fill="#c0c0c0"/>
<rect x="1293" y="647" width="1" height="67" fill="#c0c0c0"/>
<rect x="1301" y="647" width="1" height="75" fill="#c0c0c0"/>
<rect x="1309" y="647" width="1" height="83" fill="#c0c0c0"/>
<rect x="1317" y="647" width="1" height="89" fill="#c0c0c0"/>
<rect x="1325" y="647" width="1" height="93" fill="#c0c0c0"/>
<rect x="1333" y="647" width="1" height="90" fill="#c0c0c0"/>
<rect x="1341" y="647" width="1" height="85" fill="#c0c0c0"/>
<path d="M1019 590h1v1h-1zM1023 590h3v1h-3zM1029 590h3v1h-3zM1035 590h3v1h-3zM1041 590h3v1h-3zM1047 590h1v1h-1zM1011 591h3v1h-3zM1017 591h2v1h-2zM1048 591h2v1h-2zM1005 592h3v1h-3zM1053 592h2v1h-2zM999 593h3v1h-3zM1055 593h1v1h-1zM1059 593h1v1h-1zM946 594h2v1h-2zM951 594h3v1h-3zM957 594h3v1h-3zM963 594h3v1h-3zM969 594h3v1h-3zM975 594h3v1h-3zM981 594h3v1h-3zM987 594h3v1h-3zM993 594h3v1h-3zM1060 594h2v1h-2zM939 595h3v1h-3zM945 595h1v1h-1zM1065 595h2v1h-2zM1067 596h1v1h-1zM935 597h1v1h-1zM1071 597h2v1h-2zM933 598h2v1h-2zM1073 598h1v1h-1zM927 599h3v1h-3zM1077 599h1v1h-1zM923 600h1v1h-1zM1078 600h2v1h-2zM921 601h2v1h-2zM1083 602h2v1h-2zM455 603h1v1h-1zM459 603h3v1h-3zM916 603h2v1h-2zM1085 603h1v1h-1zM448 604h2v1h-2zM453 604h2v1h-2zM465 604h3v1h-3zM915 604h1v1h-1zM1089 604h3v1h-3zM447 605h1v1h-1zM471 605h3v1h-3zM442 606h2v1h-2zM910 606h2v1h-2zM1095 606h1v1h-1zM441 607h1v1h-1zM477 607h3v1h-3zM909 607h1v1h-1zM1096 607h2v1h-2zM1101 607h1v1h-1zM437 608h1v1h-1zM1102 608h2v1h-2zM1107 608h2v1h-2zM435 609h2v1h-2zM483 609h1v1h-1zM905 609h1v1h-1zM1109 609h1v1h-1zM1149 609h3v1h-3zM1155 609h3v1h-3zM1161 609h3v1h-3zM1167 609h3v1h-3zM1173 609h3v1h-3zM1179 609h3v1h-3zM1185 609h3v1h-3zM1191 609h3v1h-3zM1197 609h3v1h-3zM484 610h2v1h-2zM904 610h1v1h-1zM1113 610h3v1h-3zM1145 610h1v1h-1zM1203 610h1v1h-1zM430 611h2v1h-2zM903 611h1v1h-1zM1119 611h3v1h-3zM1125 611h3v1h-3zM1131 611h3v1h-3zM1137 611h3v1h-3zM1143 611h2v1h-2zM1204 611h2v1h-2zM429 612h1v1h-1zM489 612h1v1h-1zM1209 612h3v1h-3zM425 613h1v1h-1zM490 613h1v1h-1zM1215 613h3v1h-3zM423 614h2v1h-2zM491 614h1v1h-1zM899 614h1v1h-1zM419 615h1v1h-1zM898 615h1v1h-1zM1221 615h2v1h-2zM417 616h2v1h-2zM495 616h1v1h-1zM897 616h1v1h-1zM1223 616h1v1h-1zM413 617h1v1h-1zM496 617h1v1h-1zM411 618h2v1h-2zM497 618h1v1h-1zM1227 618h1v1h-1zM893 619h1v1h-1zM1228 619h2v1h-2zM407 620h1v1h-1zM501 620h1v1h-1zM891 620h2v1h-2zM250 621h2v1h-2zM255 621h3v1h-3zM405 621h2v1h-2zM502 621h1v1h-1zM1233 621h1v1h-1zM243 622h3v1h-3zM249 622h1v1h-1zM261 622h3v1h-3zM267 622h3v1h-3zM503 622h1v1h-1zM887 622h1v1h-1zM1234 622h2v1h-2zM237 623h3v1h-3zM273 623h3v1h-3zM400 623h2v1h-2zM886 623h1v1h-1zM231 624h3v1h-3zM279 624h3v1h-3zM285 624h1v1h-1zM399 624h1v1h-1zM885 624h1v1h-1zM1239 624h1v1h-1zM226 625h2v1h-2zM286 625h2v1h-2zM291 625h2v1h-2zM394 625h2v1h-2zM507 625h1v1h-1zM1240 625h2v1h-2zM225 626h1v1h-1zM293 626h1v1h-1zM393 626h1v1h-1zM508 626h1v1h-1zM221 627h1v1h-1zM297 627h3v1h-3zM303 627h3v1h-3zM309 627h3v1h-3zM315 627h3v1h-3zM321 627h3v1h-3zM382 627h2v1h-2zM387 627h3v1h-3zM509 627h1v1h-1zM881 627h1v1h-1zM219 628h2v1h-2zM327 628h3v1h-3zM333 628h3v1h-3zM339 628h3v1h-3zM345 628h3v1h-3zM369 628h3v1h-3zM375 628h3v1h-3zM381 628h1v1h-1zM880 628h1v1h-1zM1245 628h2v1h-2zM215 629h1v1h-1zM351 629h3v1h-3zM357 629h3v1h-3zM363 629h3v1h-3zM879 629h1v1h-1zM1247 629h1v1h-1zM213 630h2v1h-2zM513 630h1v1h-1zM514 631h1v1h-1zM209 632h1v1h-1zM515 632h1v1h-1zM1251 632h1v1h-1zM207 633h2v1h-2zM875 633h1v1h-1zM1252 633h1v1h-1zM874 634h1v1h-1zM1253 634h1v1h-1zM202 635h2v1h-2zM873 635h1v1h-1zM201 636h1v1h-1zM519 636h1v1h-1zM520 637h1v1h-1zM1257 637h1v1h-1zM196 638h2v1h-2zM521 638h1v1h-1zM1258 638h1v1h-1zM195 639h1v1h-1zM869 639h1v1h-1zM1259 639h1v1h-1zM867 640h2v1h-2zM190 641h2v1h-2zM189 642h1v1h-1zM525 642h1v1h-1zM863 642h1v1h-1zM1263 642h1v1h-1zM526 643h1v1h-1zM861 643h2v1h-2zM1264 643h1v1h-1zM527 644h1v1h-1zM1265 644h1v1h-1zM184 645h2v1h-2zM183 646h1v1h-1zM857 646h1v1h-1zM856 647h1v1h-1zM1269 647h1v1h-1zM531 648h1v1h-1zM693 648h3v1h-3zM855 648h1v1h-1zM1270 648h1v1h-1zM178 649h2v1h-2zM532 649h1v1h-1zM683 649h1v1h-1zM687 649h3v1h-3zM699 649h3v1h-3zM1271 649h1v1h-1zM177 650h1v1h-1zM533 650h1v1h-1zM676 650h2v1h-2zM681 650h2v1h-2zM705 650h3v1h-3zM675 651h1v1h-1zM711 651h2v1h-2zM850 651h2v1h-2zM173 652h1v1h-1zM713 652h1v1h-1zM849 652h1v1h-1zM171 653h2v1h-2zM537 653h1v1h-1zM669 653h3v1h-3zM717 653h3v1h-3zM1275 653h1v1h-1zM538 654h2v1h-2zM664 654h2v1h-2zM723 654h2v1h-2zM845 654h1v1h-1zM1276 654h1v1h-1zM167 655h1v1h-1zM663 655h1v1h-1zM725 655h1v1h-1zM843 655h2v1h-2zM1277 655h1v1h-1zM165 656h2v1h-2zM658 656h2v1h-2zM729 656h1v1h-1zM543 657h1v1h-1zM657 657h1v1h-1zM730 657h2v1h-2zM839 657h1v1h-1zM161 658h1v1h-1zM544 658h2v1h-2zM647 658h1v1h-1zM651 658h3v1h-3zM735 658h1v1h-1zM838 658h1v1h-1zM159 659h2v1h-2zM639 659h3v1h-3zM645 659h2v1h-2zM736 659h2v1h-2zM837 659h1v1h-1zM1281 659h1v1h-1zM549 660h1v1h-1zM633 660h3v1h-3zM741 660h3v1h-3zM1282 660h1v1h-1zM154 661h2v1h-2zM550 661h1v1h-1zM628 661h2v1h-2zM832 661h2v1h-2zM1283 661h1v1h-1zM3 662h3v1h-3zM153 662h1v1h-1zM551 662h1v1h-1zM627 662h1v1h-1zM747 662h2v1h-2zM831 662h1v1h-1zM9 663h2v1h-2zM617 663h1v1h-1zM621 663h3v1h-3zM749 663h1v1h-1zM11 664h1v1h-1zM147 664h3v1h-3zM555 664h2v1h-2zM611 664h1v1h-1zM615 664h2v1h-2zM753 664h1v1h-1zM825 664h3v1h-3zM15 665h2v1h-2zM557 665h1v1h-1zM609 665h2v1h-2zM754 665h2v1h-2zM821 665h1v1h-1zM1287 665h1v1h-1zM17 666h1v1h-1zM143 666h1v1h-1zM561 666h3v1h-3zM759 666h1v1h-1zM819 666h2v1h-2zM1288 666h1v1h-1zM21 667h3v1h-3zM141 667h2v1h-2zM567 667h3v1h-3zM573 667h1v1h-1zM591 667h3v1h-3zM597 667h3v1h-3zM603 667h3v1h-3zM760 667h2v1h-2zM814 667h2v1h-2zM1289 667h1v1h-1zM27 668h3v1h-3zM130 668h2v1h-2zM135 668h3v1h-3zM574 668h2v1h-2zM579 668h3v1h-3zM585 668h3v1h-3zM765 668h3v1h-3zM813 668h1v1h-1zM33 669h1v1h-1zM82 669h2v1h-2zM87 669h3v1h-3zM93 669h2v1h-2zM123 669h3v1h-3zM129 669h1v1h-1zM771 669h3v1h-3zM777 669h3v1h-3zM802 669h2v1h-2zM807 669h3v1h-3zM34 670h2v1h-2zM39 670h3v1h-3zM45 670h3v1h-3zM51 670h3v1h-3zM57 670h3v1h-3zM63 670h3v1h-3zM69 670h3v1h-3zM75 670h3v1h-3zM81 670h1v1h-1zM95 670h1v1h-1zM99 670h3v1h-3zM113 670h1v1h-1zM117 670h3v1h-3zM783 670h3v1h-3zM789 670h3v1h-3zM795 670h3v1h-3zM801 670h1v1h-1zM105 671h3v1h-3zM111 671h2v1h-2zM1292 671h1v1h-1zM1293 672h1v1h-1zM1294 673h1v1h-1zM1298 677h1v1h-1zM1299 678h1v1h-1zM1299 679h1v1h-1zM1303 683h1v1h-1zM1304 684h1v1h-1zM1305 685h1v1h-1zM1308 689h1v1h-1zM1309 690h1v1h-1zM1310 691h1v1h-1zM1314 695h1v1h-1zM1315 696h1v1h-1zM1316 697h1v1h-1zM1319 701h1v1h-1zM1320 702h1v1h-1zM1321 703h1v1h-1zM1325 707h1v1h-1zM1326 708h1v1h-1zM1326 709h1v1h-1zM1330 713h1v1h-1zM1331 714h1v1h-1zM1332 715h1v1h-1zM1336 718h2v1h-2zM1338 719h1v1h-1z" fill="#ff0000"/>
</g>
<g clip-path="url(#c3)" shape-rendering="crispEdges">
<line x1="0" y1="786.5" x2="1616" y2="786.5" stroke="#c0c0c0" stroke-width="1" stroke-dasharray="3 3"/>
<line x1="0" y1="837.5" x2="1616" y2="837.5" stroke="#c0c0c0" stroke-width="1" stroke-dasharray="3 3"/>
<line x1="0" y1="898.5" x2="1616" y2="898.5" stroke="#c0c0c0" stroke-width="1" stroke-dasharray="3 3"/>
<path d="M981 788h1v1h-1zM979 789h2v1h-2zM982 789h1v1h-1zM978 790h1v1h-1zM983 790h1v1h-1zM976 791h2v1h-2zM984 791h2v1h-2zM974 792h2v1h-2zM986 792h1v1h-1zM965 793h9v1h-9zM987 793h1v1h-1zM396 794h3v1h-3zM852 794h2v1h-2zM900 794h2v1h-2zM964 794h1v1h-1zM988 794h1v1h-1zM394 795h2v1h-2zM399 795h2v1h-2zM850 795h2v1h-2zM854 795h1v1h-1zM896 795h4v1h-4zM902 795h1v1h-1zM964 795h1v1h-1zM989 795h1v1h-1zM391 796h3v1h-3zM401 796h2v1h-2zM847 796h3v1h-3zM855 796h1v1h-1zM877 796h5v1h-5zM890 796h6v1h-6zM902 796h1v1h-1zM963 796h1v1h-1zM990 796h1v1h-1zM1010 796h5v1h-5zM389 797h2v1h-2zM403 797h2v1h-2zM410 797h12v1h-12zM845 797h2v1h-2zM856 797h1v1h-1zM876 797h1v1h-1zM882 797h8v1h-8zM903 797h1v1h-1zM962 797h1v1h-1zM990 797h1v1h-1zM1005 797h5v1h-5zM1015 797h2v1h-2zM387 798h2v1h-2zM405 798h5v1h-5zM422 798h1v1h-1zM845 798h1v1h-1zM857 798h1v1h-1zM874 798h2v1h-2zM903 798h1v1h-1zM961 798h1v1h-1zM991 798h1v1h-1zM1004 798h1v1h-1zM1017 798h2v1h-2zM385 799h2v1h-2zM423 799h1v1h-1zM844 799h1v1h-1zM858 799h1v1h-1zM873 799h1v1h-1zM904 799h1v1h-1zM961 799h1v1h-1zM992 799h1v1h-1zM1003 799h1v1h-1zM1019 799h2v1h-2zM383 800h2v1h-2zM423 800h1v1h-1zM844 800h1v1h-1zM859 800h1v1h-1zM872 800h1v1h-1zM905 800h1v1h-1zM960 800h1v1h-1zM993 800h1v1h-1zM1002 800h1v1h-1zM1021 800h1v1h-1zM381 801h2v1h-2zM424 801h1v1h-1zM437 801h1v1h-1zM843 801h1v1h-1zM860 801h1v1h-1zM870 801h2v1h-2zM905 801h1v1h-1zM925 801h11v1h-11zM959 801h1v1h-1zM993 801h1v1h-1zM1001 801h1v1h-1zM1022 801h1v1h-1zM380 802h1v1h-1zM425 802h1v1h-1zM436 802h1v1h-1zM438 802h2v1h-2zM843 802h1v1h-1zM861 802h9v1h-9zM906 802h1v1h-1zM923 802h2v1h-2zM936 802h4v1h-4zM958 802h1v1h-1zM994 802h1v1h-1zM1001 802h1v1h-1zM1023 802h1v1h-1zM380 803h1v1h-1zM426 803h1v1h-1zM434 803h2v1h-2zM440 803h1v1h-1zM842 803h1v1h-1zM907 803h1v1h-1zM921 803h2v1h-2zM940 803h2v1h-2zM958 803h1v1h-1zM995 803h1v1h-1zM1000 803h1v1h-1zM1024 803h2v1h-2zM379 804h1v1h-1zM427 804h1v1h-1zM433 804h1v1h-1zM441 804h1v1h-1zM842 804h1v1h-1zM907 804h1v1h-1zM919 804h2v1h-2zM942 804h2v1h-2zM957 804h1v1h-1zM996 804h1v1h-1zM999 804h1v1h-1zM1026 804h1v1h-1zM1124 804h6v1h-6zM378 805h1v1h-1zM427 805h1v1h-1zM432 805h1v1h-1zM442 805h2v1h-2zM841 805h1v1h-1zM908 805h1v1h-1zM916 805h3v1h-3zM944 805h2v1h-2zM955 805h2v1h-2zM996 805h1v1h-1zM998 805h1v1h-1zM1027 805h1v1h-1zM1120 805h4v1h-4zM1130 805h4v1h-4zM189 806h10v1h-10zM378 806h1v1h-1zM428 806h1v1h-1zM430 806h2v1h-2zM444 806h1v1h-1zM841 806h1v1h-1zM908 806h1v1h-1zM912 806h4v1h-4zM946 806h1v1h-1zM953 806h2v1h-2zM997 806h1v1h-1zM1028 806h1v1h-1zM1117 806h3v1h-3zM1134 806h1v1h-1zM1189 806h1v1h-1zM188 807h1v1h-1zM199 807h2v1h-2zM377 807h1v1h-1zM429 807h1v1h-1zM445 807h2v1h-2zM841 807h1v1h-1zM909 807h3v1h-3zM947 807h2v1h-2zM951 807h2v1h-2zM1029 807h1v1h-1zM1116 807h1v1h-1zM1135 807h1v1h-1zM1188 807h1v1h-1zM1190 807h1v1h-1zM187 808h1v1h-1zM201 808h2v1h-2zM376 808h1v1h-1zM447 808h2v1h-2zM840 808h1v1h-1zM949 808h2v1h-2zM1030 808h1v1h-1zM1115 808h1v1h-1zM1135 808h1v1h-1zM1187 808h1v1h-1zM1191 808h1v1h-1zM187 809h1v1h-1zM203 809h2v1h-2zM376 809h1v1h-1zM449 809h2v1h-2zM840 809h1v1h-1zM1031 809h1v1h-1zM1114 809h1v1h-1zM1136 809h1v1h-1zM1186 809h1v1h-1zM1192 809h1v1h-1zM186 810h1v1h-1zM205 810h1v1h-1zM375 810h1v1h-1zM451 810h2v1h-2zM839 810h1v1h-1zM1031 810h1v1h-1zM1112 810h2v1h-2zM1137 810h1v1h-1zM1184 810h2v1h-2zM1193 810h1v1h-1zM185 811h1v1h-1zM206 811h1v1h-1zM374 811h1v1h-1zM453 811h1v1h-1zM839 811h1v1h-1zM1032 811h1v1h-1zM1111 811h1v1h-1zM1138 811h1v1h-1zM1183 811h1v1h-1zM1193 811h1v1h-1zM184 812h1v1h-1zM206 812h1v1h-1zM374 812h1v1h-1zM453 812h1v1h-1zM829 812h2v1h-2zM838 812h1v1h-1zM1033 812h1v1h-1zM1110 812h1v1h-1zM1139 812h1v1h-1zM1182 812h1v1h-1zM1194 812h1v1h-1zM183 813h1v1h-1zM207 813h1v1h-1zM301 813h1v1h-1zM373 813h1v1h-1zM453 813h1v1h-1zM829 813h1v1h-1zM831 813h3v1h-3zM838 813h1v1h-1zM1034 813h1v1h-1zM1106 813h4v1h-4zM1139 813h1v1h-1zM1173 813h9v1h-9zM1195 813h1v1h-1zM183 814h1v1h-1zM208 814h1v1h-1zM300 814h1v1h-1zM302 814h1v1h-1zM371 814h2v1h-2zM454 814h1v1h-1zM828 814h1v1h-1zM834 814h2v1h-2zM837 814h1v1h-1zM1035 814h1v1h-1zM1098 814h8v1h-8zM1140 814h1v1h-1zM1171 814h2v1h-2zM1196 814h1v1h-1zM141 815h2v1h-2zM182 815h1v1h-1zM208 815h1v1h-1zM221 815h1v1h-1zM300 815h1v1h-1zM303 815h1v1h-1zM369 815h2v1h-2zM454 815h1v1h-1zM828 815h1v1h-1zM836 815h2v1h-2zM1035 815h1v1h-1zM1053 815h2v1h-2zM1093 815h5v1h-5zM1141 815h1v1h-1zM1170 815h1v1h-1zM1197 815h1v1h-1zM140 816h1v1h-1zM143 816h2v1h-2zM181 816h1v1h-1zM209 816h1v1h-1zM220 816h1v1h-1zM222 816h1v1h-1zM299 816h1v1h-1zM304 816h2v1h-2zM367 816h2v1h-2zM454 816h1v1h-1zM827 816h1v1h-1zM1036 816h1v1h-1zM1052 816h1v1h-1zM1055 816h2v1h-2zM1091 816h2v1h-2zM1142 816h2v1h-2zM1168 816h2v1h-2zM1197 816h1v1h-1zM138 817h2v1h-2zM145 817h2v1h-2zM179 817h2v1h-2zM210 817h1v1h-1zM219 817h1v1h-1zM223 817h1v1h-1zM299 817h1v1h-1zM306 817h1v1h-1zM364 817h3v1h-3zM454 817h1v1h-1zM827 817h1v1h-1zM1037 817h1v1h-1zM1052 817h1v1h-1zM1057 817h2v1h-2zM1090 817h1v1h-1zM1144 817h1v1h-1zM1166 817h2v1h-2zM1198 817h1v1h-1zM137 818h1v1h-1zM147 818h2v1h-2zM177 818h2v1h-2zM210 818h1v1h-1zM218 818h1v1h-1zM224 818h2v1h-2zM237 818h5v1h-5zM298 818h1v1h-1zM307 818h1v1h-1zM362 818h2v1h-2zM455 818h1v1h-1zM826 818h1v1h-1zM1038 818h1v1h-1zM1051 818h1v1h-1zM1059 818h2v1h-2zM1088 818h2v1h-2zM1145 818h1v1h-1zM1162 818h4v1h-4zM1198 818h1v1h-1zM136 819h1v1h-1zM149 819h10v1h-10zM175 819h2v1h-2zM211 819h1v1h-1zM216 819h2v1h-2zM226 819h1v1h-1zM235 819h2v1h-2zM242 819h4v1h-4zM298 819h1v1h-1zM308 819h1v1h-1zM359 819h3v1h-3zM455 819h1v1h-1zM826 819h1v1h-1zM1039 819h1v1h-1zM1050 819h1v1h-1zM1061 819h1v1h-1zM1086 819h2v1h-2zM1146 819h2v1h-2zM1156 819h6v1h-6zM1199 819h1v1h-1zM134 820h2v1h-2zM159 820h3v1h-3zM172 820h3v1h-3zM212 820h1v1h-1zM215 820h1v1h-1zM227 820h1v1h-1zM233 820h2v1h-2zM245 820h1v1h-1zM297 820h1v1h-1zM309 820h1v1h-1zM349 820h10v1h-10zM455 820h1v1h-1zM826 820h1v1h-1zM1040 820h1v1h-1zM1049 820h1v1h-1zM1062 820h1v1h-1zM1085 820h1v1h-1zM1148 820h1v1h-1zM1152 820h4v1h-4zM1199 820h1v1h-1zM133 821h1v1h-1zM162 821h2v1h-2zM168 821h4v1h-4zM212 821h1v1h-1zM214 821h1v1h-1zM228 821h1v1h-1zM231 821h2v1h-2zM246 821h1v1h-1zM297 821h1v1h-1zM310 821h2v1h-2zM349 821h1v1h-1zM455 821h1v1h-1zM825 821h1v1h-1zM1041 821h1v1h-1zM1049 821h1v1h-1zM1062 821h1v1h-1zM1085 821h1v1h-1zM1149 821h3v1h-3zM1200 821h1v1h-1zM131 822h2v1h-2zM164 822h4v1h-4zM213 822h1v1h-1zM229 822h2v1h-2zM246 822h1v1h-1zM296 822h1v1h-1zM312 822h1v1h-1zM348 822h1v1h-1zM456 822h1v1h-1zM825 822h1v1h-1zM1041 822h1v1h-1zM1048 822h1v1h-1zM1063 822h1v1h-1zM1084 822h1v1h-1zM1200 822h1v1h-1zM129 823h2v1h-2zM247 823h1v1h-1zM296 823h1v1h-1zM313 823h1v1h-1zM348 823h1v1h-1zM456 823h1v1h-1zM824 823h1v1h-1zM1042 823h1v1h-1zM1047 823h1v1h-1zM1063 823h1v1h-1zM1084 823h1v1h-1zM1201 823h1v1h-1zM127 824h2v1h-2zM247 824h1v1h-1zM277 824h2v1h-2zM295 824h1v1h-1zM314 824h2v1h-2zM347 824h1v1h-1zM456 824h1v1h-1zM824 824h1v1h-1zM1043 824h1v1h-1zM1046 824h1v1h-1zM1064 824h1v1h-1zM1083 824h1v1h-1zM1201 824h1v1h-1zM125 825h2v1h-2zM248 825h1v1h-1zM275 825h2v1h-2zM279 825h2v1h-2zM295 825h1v1h-1zM316 825h1v1h-1zM347 825h1v1h-1zM456 825h1v1h-1zM824 825h1v1h-1zM1044 825h1v1h-1zM1046 825h1v1h-1zM1065 825h1v1h-1zM1083 825h1v1h-1zM1202 825h1v1h-1zM125 826h1v1h-1zM248 826h1v1h-1zM273 826h2v1h-2zM281 826h2v1h-2zM294 826h1v1h-1zM317 826h2v1h-2zM346 826h1v1h-1zM457 826h1v1h-1zM621 826h2v1h-2zM823 826h1v1h-1zM1045 826h1v1h-1zM1065 826h1v1h-1zM1082 826h1v1h-1zM1202 826h1v1h-1zM124 827h1v1h-1zM249 827h1v1h-1zM271 827h2v1h-2zM283 827h2v1h-2zM294 827h1v1h-1zM319 827h2v1h-2zM346 827h1v1h-1zM457 827h1v1h-1zM621 827h1v1h-1zM623 827h3v1h-3zM823 827h1v1h-1zM1066 827h1v1h-1zM1082 827h1v1h-1zM1203 827h1v1h-1zM124 828h1v1h-1zM249 828h1v1h-1zM269 828h2v1h-2zM285 828h9v1h-9zM321 828h2v1h-2zM345 828h1v1h-1zM457 828h1v1h-1zM620 828h1v1h-1zM626 828h2v1h-2zM822 828h1v1h-1zM1067 828h1v1h-1zM1081 828h1v1h-1zM1203 828h1v1h-1zM124 829h1v1h-1zM250 829h1v1h-1zM268 829h1v1h-1zM323 829h2v1h-2zM345 829h1v1h-1zM457 829h1v1h-1zM565 829h1v1h-1zM620 829h1v1h-1zM628 829h4v1h-4zM658 829h5v1h-5zM822 829h1v1h-1zM1067 829h1v1h-1zM1081 829h1v1h-1zM1204 829h1v1h-1zM123 830h1v1h-1zM250 830h1v1h-1zM267 830h1v1h-1zM325 830h3v1h-3zM345 830h1v1h-1zM457 830h1v1h-1zM563 830h2v1h-2zM566 830h1v1h-1zM619 830h1v1h-1zM632 830h4v1h-4zM650 830h8v1h-8zM663 830h3v1h-3zM821 830h1v1h-1zM1068 830h1v1h-1zM1080 830h1v1h-1zM1204 830h1v1h-1zM123 831h1v1h-1zM251 831h1v1h-1zM266 831h1v1h-1zM328 831h4v1h-4zM344 831h1v1h-1zM458 831h1v1h-1zM562 831h1v1h-1zM567 831h1v1h-1zM619 831h1v1h-1zM636 831h14v1h-14zM666 831h2v1h-2zM821 831h1v1h-1zM1068 831h1v1h-1zM1080 831h1v1h-1zM1205 831h1v1h-1zM123 832h1v1h-1zM251 832h1v1h-1zM264 832h2v1h-2zM332 832h2v1h-2zM344 832h1v1h-1zM458 832h1v1h-1zM560 832h2v1h-2zM568 832h1v1h-1zM618 832h1v1h-1zM668 832h2v1h-2zM820 832h1v1h-1zM1069 832h1v1h-1zM1079 832h1v1h-1zM1205 832h1v1h-1zM123 833h1v1h-1zM252 833h1v1h-1zM263 833h1v1h-1zM334 833h2v1h-2zM343 833h1v1h-1zM458 833h1v1h-1zM558 833h2v1h-2zM569 833h1v1h-1zM618 833h1v1h-1zM670 833h2v1h-2zM818 833h2v1h-2zM1070 833h2v1h-2zM1079 833h1v1h-1zM1205 833h1v1h-1zM122 834h1v1h-1zM252 834h1v1h-1zM262 834h1v1h-1zM336 834h1v1h-1zM343 834h1v1h-1zM458 834h1v1h-1zM557 834h1v1h-1zM570 834h1v1h-1zM618 834h1v1h-1zM672 834h2v1h-2zM817 834h1v1h-1zM1072 834h2v1h-2zM1078 834h1v1h-1zM1206 834h1v1h-1zM122 835h1v1h-1zM253 835h1v1h-1zM258 835h4v1h-4zM337 835h1v1h-1zM342 835h1v1h-1zM459 835h1v1h-1zM556 835h1v1h-1zM571 835h1v1h-1zM617 835h1v1h-1zM674 835h1v1h-1zM816 835h1v1h-1zM1074 835h1v1h-1zM1078 835h1v1h-1zM1206 835h1v1h-1zM122 836h1v1h-1zM253 836h5v1h-5zM338 836h2v1h-2zM342 836h1v1h-1zM459 836h1v1h-1zM556 836h1v1h-1zM572 836h1v1h-1zM617 836h1v1h-1zM675 836h2v1h-2zM814 836h2v1h-2zM1075 836h3v1h-3zM1206 836h1v1h-1zM121 837h1v1h-1zM340 837h2v1h-2zM459 837h1v1h-1zM555 837h1v1h-1zM573 837h1v1h-1zM616 837h1v1h-1zM677 837h1v1h-1zM813 837h1v1h-1zM1077 837h1v1h-1zM1207 837h1v1h-1zM121 838h1v1h-1zM341 838h1v1h-1zM459 838h1v1h-1zM554 838h1v1h-1zM574 838h2v1h-2zM616 838h1v1h-1zM677 838h1v1h-1zM812 838h1v1h-1zM1207 838h1v1h-1zM121 839h1v1h-1zM460 839h1v1h-1zM554 839h1v1h-1zM576 839h2v1h-2zM616 839h1v1h-1zM678 839h1v1h-1zM811 839h1v1h-1zM1207 839h1v1h-1zM120 840h1v1h-1zM460 840h1v1h-1zM553 840h1v1h-1zM578 840h1v1h-1zM615 840h1v1h-1zM678 840h1v1h-1zM773 840h25v1h-25zM811 840h1v1h-1zM1208 840h1v1h-1zM120 841h1v1h-1zM460 841h1v1h-1zM552 841h1v1h-1zM579 841h2v1h-2zM615 841h1v1h-1zM679 841h1v1h-1zM771 841h2v1h-2zM798 841h1v1h-1zM810 841h1v1h-1zM1208 841h1v1h-1zM120 842h1v1h-1zM460 842h1v1h-1zM552 842h1v1h-1zM581 842h1v1h-1zM614 842h1v1h-1zM679 842h1v1h-1zM769 842h2v1h-2zM799 842h1v1h-1zM809 842h1v1h-1zM1208 842h1v1h-1zM53 843h1v1h-1zM119 843h1v1h-1zM461 843h1v1h-1zM551 843h1v1h-1zM582 843h1v1h-1zM614 843h1v1h-1zM679 843h1v1h-1zM767 843h2v1h-2zM800 843h2v1h-2zM808 843h1v1h-1zM1209 843h1v1h-1zM53 844h2v1h-2zM119 844h1v1h-1zM461 844h1v1h-1zM550 844h1v1h-1zM582 844h1v1h-1zM613 844h1v1h-1zM680 844h1v1h-1zM765 844h2v1h-2zM802 844h1v1h-1zM807 844h1v1h-1zM1209 844h1v1h-1zM1237 844h1v1h-1zM52 845h1v1h-1zM55 845h1v1h-1zM119 845h1v1h-1zM461 845h3v1h-3zM550 845h1v1h-1zM583 845h1v1h-1zM613 845h1v1h-1zM680 845h1v1h-1zM764 845h1v1h-1zM803 845h1v1h-1zM807 845h1v1h-1zM1209 845h1v1h-1zM1235 845h2v1h-2zM1238 845h1v1h-1zM52 846h1v1h-1zM55 846h1v1h-1zM119 846h1v1h-1zM464 846h4v1h-4zM549 846h1v1h-1zM584 846h1v1h-1zM611 846h2v1h-2zM680 846h1v1h-1zM764 846h1v1h-1zM804 846h1v1h-1zM806 846h1v1h-1zM1210 846h1v1h-1zM1234 846h1v1h-1zM1238 846h1v1h-1zM51 847h1v1h-1zM56 847h1v1h-1zM77 847h1v1h-1zM118 847h1v1h-1zM468 847h4v1h-4zM484 847h2v1h-2zM547 847h2v1h-2zM584 847h1v1h-1zM609 847h2v1h-2zM681 847h1v1h-1zM763 847h1v1h-1zM805 847h1v1h-1zM1210 847h1v1h-1zM1232 847h2v1h-2zM1239 847h1v1h-1zM51 848h1v1h-1zM57 848h1v1h-1zM76 848h1v1h-1zM78 848h2v1h-2zM118 848h1v1h-1zM472 848h4v1h-4zM480 848h4v1h-4zM485 848h1v1h-1zM545 848h2v1h-2zM585 848h1v1h-1zM607 848h2v1h-2zM681 848h1v1h-1zM762 848h1v1h-1zM1210 848h1v1h-1zM1230 848h2v1h-2zM1239 848h1v1h-1zM50 849h1v1h-1zM58 849h1v1h-1zM76 849h1v1h-1zM80 849h2v1h-2zM118 849h1v1h-1zM476 849h4v1h-4zM486 849h1v1h-1zM543 849h2v1h-2zM586 849h1v1h-1zM605 849h2v1h-2zM682 849h1v1h-1zM762 849h1v1h-1zM1211 849h1v1h-1zM1229 849h1v1h-1zM1240 849h1v1h-1zM50 850h1v1h-1zM59 850h1v1h-1zM75 850h1v1h-1zM82 850h1v1h-1zM117 850h1v1h-1zM486 850h1v1h-1zM541 850h2v1h-2zM586 850h1v1h-1zM603 850h2v1h-2zM682 850h1v1h-1zM761 850h1v1h-1zM1211 850h1v1h-1zM1228 850h1v1h-1zM1240 850h1v1h-1zM49 851h1v1h-1zM59 851h1v1h-1zM75 851h1v1h-1zM83 851h2v1h-2zM117 851h1v1h-1zM487 851h1v1h-1zM541 851h1v1h-1zM587 851h1v1h-1zM602 851h1v1h-1zM682 851h1v1h-1zM701 851h5v1h-5zM760 851h1v1h-1zM1211 851h1v1h-1zM1228 851h1v1h-1zM1241 851h1v1h-1zM49 852h1v1h-1zM60 852h1v1h-1zM74 852h1v1h-1zM85 852h1v1h-1zM115 852h2v1h-2zM487 852h1v1h-1zM540 852h1v1h-1zM588 852h1v1h-1zM600 852h2v1h-2zM683 852h1v1h-1zM700 852h1v1h-1zM706 852h6v1h-6zM760 852h1v1h-1zM1212 852h1v1h-1zM1227 852h1v1h-1zM1242 852h1v1h-1zM13 853h10v1h-10zM48 853h1v1h-1zM61 853h1v1h-1zM74 853h1v1h-1zM86 853h2v1h-2zM113 853h2v1h-2zM488 853h1v1h-1zM540 853h1v1h-1zM588 853h1v1h-1zM598 853h2v1h-2zM683 853h1v1h-1zM699 853h1v1h-1zM712 853h4v1h-4zM759 853h1v1h-1zM1212 853h1v1h-1zM1227 853h1v1h-1zM1242 853h1v1h-1zM12 854h1v1h-1zM23 854h3v1h-3zM48 854h1v1h-1zM62 854h1v1h-1zM73 854h1v1h-1zM88 854h1v1h-1zM111 854h2v1h-2zM488 854h1v1h-1zM539 854h1v1h-1zM589 854h9v1h-9zM683 854h1v1h-1zM698 854h1v1h-1zM716 854h3v1h-3zM758 854h1v1h-1zM1212 854h1v1h-1zM1226 854h1v1h-1zM1243 854h1v1h-1zM10 855h2v1h-2zM26 855h2v1h-2zM47 855h1v1h-1zM63 855h1v1h-1zM72 855h1v1h-1zM89 855h1v1h-1zM109 855h2v1h-2zM489 855h1v1h-1zM539 855h1v1h-1zM684 855h1v1h-1zM697 855h1v1h-1zM719 855h3v1h-3zM758 855h1v1h-1zM1213 855h1v1h-1zM1226 855h1v1h-1zM1243 855h1v1h-1zM9 856h1v1h-1zM28 856h4v1h-4zM47 856h1v1h-1zM64 856h1v1h-1zM72 856h1v1h-1zM90 856h2v1h-2zM108 856h1v1h-1zM489 856h1v1h-1zM538 856h1v1h-1zM684 856h1v1h-1zM697 856h1v1h-1zM722 856h2v1h-2zM757 856h1v1h-1zM1213 856h1v1h-1zM1225 856h1v1h-1zM1244 856h1v1h-1zM1261 856h1v1h-1zM8 857h1v1h-1zM32 857h4v1h-4zM46 857h1v1h-1zM65 857h1v1h-1zM71 857h1v1h-1zM92 857h1v1h-1zM106 857h2v1h-2zM490 857h1v1h-1zM538 857h1v1h-1zM685 857h1v1h-1zM696 857h1v1h-1zM724 857h2v1h-2zM756 857h1v1h-1zM1214 857h1v1h-1zM1224 857h1v1h-1zM1244 857h1v1h-1zM1259 857h3v1h-3zM6 858h2v1h-2zM36 858h4v1h-4zM46 858h1v1h-1zM66 858h1v1h-1zM71 858h1v1h-1zM93 858h2v1h-2zM105 858h1v1h-1zM490 858h1v1h-1zM538 858h1v1h-1zM685 858h3v1h-3zM695 858h1v1h-1zM726 858h1v1h-1zM755 858h1v1h-1zM1215 858h1v1h-1zM1224 858h1v1h-1zM1245 858h3v1h-3zM1257 858h2v1h-2zM1262 858h1v1h-1zM2 859h4v1h-4zM40 859h4v1h-4zM45 859h1v1h-1zM67 859h1v1h-1zM70 859h1v1h-1zM95 859h3v1h-3zM104 859h1v1h-1zM491 859h1v1h-1zM537 859h1v1h-1zM688 859h4v1h-4zM694 859h1v1h-1zM727 859h1v1h-1zM754 859h1v1h-1zM1216 859h2v1h-2zM1223 859h1v1h-1zM1248 859h4v1h-4zM1255 859h2v1h-2zM1262 859h1v1h-1zM1341 859h1v1h-1zM-3 860h5v1h-5zM44 860h2v1h-2zM68 860h1v1h-1zM70 860h1v1h-1zM98 860h2v1h-2zM102 860h2v1h-2zM491 860h1v1h-1zM537 860h1v1h-1zM692 860h2v1h-2zM727 860h1v1h-1zM752 860h2v1h-2zM1218 860h1v1h-1zM1223 860h1v1h-1zM1252 860h3v1h-3zM1263 860h1v1h-1zM1340 860h1v1h-1zM69 861h1v1h-1zM100 861h2v1h-2zM492 861h1v1h-1zM536 861h1v1h-1zM728 861h1v1h-1zM751 861h1v1h-1zM1219 861h1v1h-1zM1222 861h1v1h-1zM1263 861h1v1h-1zM1339 861h1v1h-1zM492 862h1v1h-1zM536 862h1v1h-1zM729 862h1v1h-1zM750 862h1v1h-1zM1220 862h1v1h-1zM1222 862h1v1h-1zM1264 862h1v1h-1zM1338 862h1v1h-1zM493 863h3v1h-3zM536 863h1v1h-1zM730 863h1v1h-1zM749 863h1v1h-1zM1221 863h1v1h-1zM1264 863h1v1h-1zM1336 863h2v1h-2zM496 864h4v1h-4zM535 864h1v1h-1zM731 864h1v1h-1zM748 864h1v1h-1zM1265 864h1v1h-1zM1335 864h1v1h-1zM500 865h2v1h-2zM525 865h2v1h-2zM535 865h1v1h-1zM731 865h1v1h-1zM746 865h2v1h-2zM1265 865h1v1h-1zM1334 865h1v1h-1zM502 866h2v1h-2zM523 866h2v1h-2zM527 866h2v1h-2zM534 866h1v1h-1zM732 866h1v1h-1zM745 866h1v1h-1zM1266 866h1v1h-1zM1333 866h1v1h-1zM504 867h1v1h-1zM521 867h2v1h-2zM529 867h2v1h-2zM534 867h1v1h-1zM733 867h3v1h-3zM744 867h1v1h-1zM1266 867h1v1h-1zM1333 867h1v1h-1zM505 868h1v1h-1zM519 868h2v1h-2zM531 868h3v1h-3zM736 868h4v1h-4zM742 868h2v1h-2zM1267 868h1v1h-1zM1332 868h1v1h-1zM506 869h2v1h-2zM516 869h3v1h-3zM533 869h1v1h-1zM740 869h2v1h-2zM1267 869h1v1h-1zM1332 869h1v1h-1zM508 870h1v1h-1zM512 870h4v1h-4zM1268 870h1v1h-1zM1331 870h1v1h-1zM509 871h3v1h-3zM1268 871h1v1h-1zM1331 871h1v1h-1zM1269 872h2v1h-2zM1330 872h1v1h-1zM1271 873h3v1h-3zM1330 873h1v1h-1zM1274 874h2v1h-2zM1329 874h1v1h-1zM1276 875h2v1h-2zM1329 875h1v1h-1zM1278 876h1v1h-1zM1328 876h1v1h-1zM1279 877h1v1h-1zM1328 877h1v1h-1zM1280 878h1v1h-1zM1327 878h1v1h-1zM1281 879h1v1h-1zM1327 879h1v1h-1zM1282 880h1v1h-1zM1301 880h2v1h-2zM1326 880h1v1h-1zM1283 881h1v1h-1zM1300 881h1v1h-1zM1303 881h2v1h-2zM1326 881h1v1h-1zM1284 882h1v1h-1zM1298 882h2v1h-2zM1305 882h2v1h-2zM1316 882h6v1h-6zM1325 882h1v1h-1zM1285 883h2v1h-2zM1297 883h1v1h-1zM1307 883h2v1h-2zM1312 883h4v1h-4zM1322 883h4v1h-4zM1287 884h3v1h-3zM1296 884h1v1h-1zM1309 884h3v1h-3zM1290 885h2v1h-2zM1294 885h2v1h-2zM1292 886h2v1h-2z" fill="#1e90ff"/>
</g>
<text x="1622" y="49" font-size="10" fill="#000" stroke="#000" stroke-width="0.25" textLength="33.5" lengthAdjust="spacingAndGlyphs">29254.0</text>
<text x="1622" y="82" font-size="10" fill="#000" stroke="#000" stroke-width="0.25" textLength="33.5" lengthAdjust="spacingAndGlyphs">29016.0</text>
<text x="1622" y="115" font-size="10" fill="#000" stroke="#000" stroke-width="0.25" textLength="33.5" lengthAdjust="spacingAndGlyphs">28771.0</text>
<text x="1622" y="148" font-size="10" fill="#000" stroke="#000" stroke-width="0.25" textLength="33.5" lengthAdjust="spacingAndGlyphs">28533.0</text>
<text x="1622" y="181" font-size="10" fill="#000" stroke="#000" stroke-width="0.25" textLength="33.5" lengthAdjust="spacingAndGlyphs">28295.0</text>
<text x="1622" y="214" font-size="10" fill="#000" stroke="#000" stroke-width="0.25" textLength="33.5" lengthAdjust="spacingAndGlyphs">28057.0</text>
<text x="1622" y="247" font-size="10" fill="#000" stroke="#000" stroke-width="0.25" textLength="33.5" lengthAdjust="spacingAndGlyphs">27819.0</text>
<text x="1622" y="280" font-size="10" fill="#000" stroke="#000" stroke-width="0.25" textLength="33.5" lengthAdjust="spacingAndGlyphs">27581.0</text>
<text x="1622" y="313" font-size="10" fill="#000" stroke="#000" stroke-width="0.25" textLength="33.5" lengthAdjust="spacingAndGlyphs">27343.0</text>
<text x="1622" y="346" font-size="10" fill="#000" stroke="#000" stroke-width="0.25" textLength="33.5" lengthAdjust="spacingAndGlyphs">27105.0</text>
<text x="1622" y="379" font-size="10" fill="#000" stroke="#000" stroke-width="0.25" textLength="33.5" lengthAdjust="spacingAndGlyphs">26860.0</text>
<text x="1622" y="412" font-size="10" fill="#000" stroke="#000" stroke-width="0.25" textLength="33.5" lengthAdjust="spacingAndGlyphs">26622.0</text>
<text x="1622" y="445" font-size="10" fill="#000" stroke="#000" stroke-width="0.25" textLength="33.5" lengthAdjust="spacingAndGlyphs">26384.0</text>
<text x="1622" y="478" font-size="10" fill="#000" stroke="#000" stroke-width="0.25" textLength="33.5" lengthAdjust="spacingAndGlyphs">26146.0</text>
<text x="1622" y="511" font-size="10" fill="#000" stroke="#000" stroke-width="0.25" textLength="33.5" lengthAdjust="spacingAndGlyphs">25908.0</text>
<text x="1622" y="544" font-size="10" fill="#000" stroke="#000" stroke-width="0.25" textLength="33.5" lengthAdjust="spacingAndGlyphs">25670.0</text>
<text x="1622" y="577" font-size="10" fill="#000" stroke="#000" stroke-width="0.25" textLength="33.5" lengthAdjust="spacingAndGlyphs">25432.0</text>
<rect x="1618" y="321" width="41" height="11" fill="#ff0000" shape-rendering="crispEdges"/>
<text x="1622" y="330" font-size="10" fill="#fff" stroke="#fff" stroke-width="0.25" textLength="33.5" lengthAdjust="spacingAndGlyphs">27210.8</text>
<rect x="1618" y="349" width="41" height="11" fill="#ff0000" shape-rendering="crispEdges"/>
<text x="1622" y="358" font-size="10" fill="#fff" stroke="#fff" stroke-width="0.25" textLength="33.5" lengthAdjust="spacingAndGlyphs">27008.4</text>
<rect x="1618" y="384" width="41" height="11" fill="#000000" shape-rendering="crispEdges"/>
<text x="1622" y="393" font-size="10" fill="#fff" stroke="#fff" stroke-width="0.25" textLength="33.5" lengthAdjust="spacingAndGlyphs">26763.5</text>
<rect x="1618" y="406" width="41" height="11" fill="#32cd32" shape-rendering="crispEdges"/>
<text x="1622" y="415" font-size="10" fill="#fff" stroke="#fff" stroke-width="0.25" textLength="33.5" lengthAdjust="spacingAndGlyphs">26596.4</text>
<rect x="1618" y="432" width="41" height="11" fill="#0000ff" shape-rendering="crispEdges"/>
<text x="1622" y="441" font-size="10" fill="#fff" stroke="#fff" stroke-width="0.25" textLength="33.5" lengthAdjust="spacingAndGlyphs">26408.5</text>
<rect x="1618" y="460" width="41" height="11" fill="#0000ff" shape-rendering="crispEdges"/>
<text x="1622" y="469" font-size="10" fill="#fff" stroke="#fff" stroke-width="0.25" textLength="33.5" lengthAdjust="spacingAndGlyphs">26206.1</text>
<text x="1620" y="589" font-size="10" fill="#000" stroke="#000" stroke-width="0.25" textLength="28.4" lengthAdjust="spacingAndGlyphs">427.71</text>
<text x="1620" y="651" font-size="10" fill="#000" stroke="#000" stroke-width="0.25" textLength="18.2" lengthAdjust="spacingAndGlyphs">0.00</text>
<text x="1620" y="745" font-size="10" fill="#000" stroke="#000" stroke-width="0.25" textLength="31.8" lengthAdjust="spacingAndGlyphs">-636.02</text>
<text x="1620" y="761" font-size="10" fill="#000" stroke="#000" stroke-width="0.25" textLength="15.3" lengthAdjust="spacingAndGlyphs">100</text>
<text x="1619" y="790" font-size="10" fill="#000" stroke="#000" stroke-width="0.25" textLength="10.2" lengthAdjust="spacingAndGlyphs">80</text>
<text x="1619" y="841" font-size="10" fill="#000" stroke="#000" stroke-width="0.25" textLength="10.2" lengthAdjust="spacingAndGlyphs">50</text>
<text x="1619.5" y="902" font-size="10" fill="#000" stroke="#000" stroke-width="0.25" textLength="10.2" lengthAdjust="spacingAndGlyphs">15</text>
<text x="1620" y="921" font-size="10" fill="#000" stroke="#000" stroke-width="0.25" textLength="5.1" lengthAdjust="spacingAndGlyphs">0</text>
<text x="1.4" y="591" font-size="10" fill="#000" stroke="#000" stroke-width="0.25" textLength="134.3" lengthAdjust="spacingAndGlyphs">MACD(12,26,9) -536.30 -474.60</text>
<text x="1.4" y="763" font-size="10" fill="#000" stroke="#000" stroke-width="0.25" textLength="67.8" lengthAdjust="spacingAndGlyphs">RSI(14) 37.9593</text>
<text x="12" y="35" font-size="10" fill="#000" stroke="#000" stroke-width="0.25" textLength="188.5" lengthAdjust="spacingAndGlyphs" xml:space="preserve">HK50-,H4  26563.0 26767.0 26457.5 26763.5</text>
<polygon points="0,34 7,34 3.5,30" fill="#000"/>
<text x="-4" y="937" font-size="10" fill="#000" stroke="#000" stroke-width="0.25" textLength="51.8" lengthAdjust="spacingAndGlyphs">27 Sep 2019</text>
<text x="60" y="937" font-size="10" fill="#000" stroke="#000" stroke-width="0.25" textLength="48.8" lengthAdjust="spacingAndGlyphs">4 Oct 01:15</text>
<text x="124" y="937" font-size="10" fill="#000" stroke="#000" stroke-width="0.25" textLength="53.9" lengthAdjust="spacingAndGlyphs">11 Oct 01:15</text>
<text x="188" y="937" font-size="10" fill="#000" stroke="#000" stroke-width="0.25" textLength="53.9" lengthAdjust="spacingAndGlyphs">17 Oct 01:15</text>
<text x="252" y="937" font-size="10" fill="#000" stroke="#000" stroke-width="0.25" textLength="53.9" lengthAdjust="spacingAndGlyphs">23 Oct 01:15</text>
<text x="316" y="937" font-size="10" fill="#000" stroke="#000" stroke-width="0.25" textLength="53.9" lengthAdjust="spacingAndGlyphs">29 Oct 01:15</text>
<text x="380" y="937" font-size="10" fill="#000" stroke="#000" stroke-width="0.25" textLength="50.7" lengthAdjust="spacingAndGlyphs">4 Nov 01:15</text>
<text x="444" y="937" font-size="10" fill="#000" stroke="#000" stroke-width="0.25" textLength="50.7" lengthAdjust="spacingAndGlyphs">8 Nov 01:15</text>
<text x="508" y="937" font-size="10" fill="#000" stroke="#000" stroke-width="0.25" textLength="55.8" lengthAdjust="spacingAndGlyphs">14 Nov 01:15</text>
<text x="572" y="937" font-size="10" fill="#000" stroke="#000" stroke-width="0.25" textLength="55.8" lengthAdjust="spacingAndGlyphs">20 Nov 01:15</text>
<text x="636" y="937" font-size="10" fill="#000" stroke="#000" stroke-width="0.25" textLength="55.8" lengthAdjust="spacingAndGlyphs">26 Nov 01:15</text>
<text x="700" y="937" font-size="10" fill="#000" stroke="#000" stroke-width="0.25" textLength="50.3" lengthAdjust="spacingAndGlyphs">2 Dec 01:15</text>
<text x="764" y="937" font-size="10" fill="#000" stroke="#000" stroke-width="0.25" textLength="50.3" lengthAdjust="spacingAndGlyphs">6 Dec 01:15</text>
<text x="828" y="937" font-size="10" fill="#000" stroke="#000" stroke-width="0.25" textLength="55.4" lengthAdjust="spacingAndGlyphs">12 Dec 01:15</text>
<text x="892" y="937" font-size="10" fill="#000" stroke="#000" stroke-width="0.25" textLength="55.4" lengthAdjust="spacingAndGlyphs">18 Dec 01:15</text>
<text x="956" y="937" font-size="10" fill="#000" stroke="#000" stroke-width="0.25" textLength="55.4" lengthAdjust="spacingAndGlyphs">24 Dec 01:15</text>
<text x="1020" y="937" font-size="10" fill="#000" stroke="#000" stroke-width="0.25" textLength="48.7" lengthAdjust="spacingAndGlyphs">3 Jan 01:15</text>
<text x="1084" y="937" font-size="10" fill="#000" stroke="#000" stroke-width="0.25" textLength="48.7" lengthAdjust="spacingAndGlyphs">9 Jan 01:15</text>
<text x="1148" y="937" font-size="10" fill="#000" stroke="#000" stroke-width="0.25" textLength="53.9" lengthAdjust="spacingAndGlyphs">15 Jan 01:15</text>
<text x="1212" y="937" font-size="10" fill="#000" stroke="#000" stroke-width="0.25" textLength="53.9" lengthAdjust="spacingAndGlyphs">21 Jan 01:15</text>
<text x="1276" y="937" font-size="10" fill="#000" stroke="#000" stroke-width="0.25" textLength="53.9" lengthAdjust="spacingAndGlyphs">29 Jan 05:00</text>
<text x="1340" y="937" font-size="10" fill="#000" stroke="#000" stroke-width="0.25" textLength="49.7" lengthAdjust="spacingAndGlyphs">4 Feb 05:00</text>
<g shape-rendering="crispEdges"><rect x="1478" y="412" width="8" height="1" fill="#f00"/><rect x="1485.5" y="410.5" width="3" height="4" fill="#fff" stroke="#f00"/><rect x="1488.5" y="400.5" width="73" height="24" fill="#fff" stroke="#f00"/></g>
<text x="1489.6" y="420.8" font-size="22" fill="#ff0000" stroke="#ff0000" stroke-width="0.3" textLength="71.6" lengthAdjust="spacingAndGlyphs">26596.4</text>
<text x="1421.2" y="482.2" font-size="32" font-weight="600" fill="#00ff00" style="font-family:'Liberation Serif','Noto Serif CJK SC',serif;filter:drop-shadow(1px 1px 0 #000)" textLength="164" lengthAdjust="spacing">多空转折点</text></svg>
<svg id="tb" width="1663" height="23" viewBox="0 0 1663 23" style="position:absolute;left:0;top:0;font-family:'Liberation Sans','Noto Sans CJK SC',sans-serif">
<defs>
<linearGradient id="gold" x1="0" y1="0" x2="1" y2="1"><stop offset="0" stop-color="#fbe58a"/><stop offset="0.5" stop-color="#e9b530"/><stop offset="1" stop-color="#a8741a"/></linearGradient>
<linearGradient id="lens" x1="0" y1="0" x2="0" y2="1"><stop offset="0" stop-color="#e4f2fd"/><stop offset="1" stop-color="#a9d3f5"/></linearGradient>
<linearGradient id="clk" x1="0" y1="0" x2="0" y2="1"><stop offset="0" stop-color="#5aa0f0"/><stop offset="1" stop-color="#0f4fb8"/></linearGradient>
<pattern id="chk" width="2" height="2" patternUnits="userSpaceOnUse"><rect width="2" height="2" fill="#f0f0f0"/><rect width="1" height="1" fill="#fff"/><rect x="1" y="1" width="1" height="1" fill="#fff"/></pattern>
</defs>
<rect x="0" y="0" width="1663" height="19" fill="#f0f0f0"/>
<rect x="0" y="19" width="1663" height="1" fill="#b4b4b4"/>
<rect x="0" y="20" width="1663" height="1" fill="#6a6a6a"/>
<rect x="0" y="21" width="1663" height="2" fill="#fff"/>
<rect x="1661" y="21" width="2" height="2" fill="#f0f0f0"/>
<!-- pressed backgrounds -->
<g shape-rendering="crispEdges">
<rect x="252" y="0" width="24" height="17" fill="url(#chk)"/>
<rect x="404" y="0" width="24" height="17" fill="url(#chk)"/>
<rect x="432" y="0" width="24" height="17" fill="url(#chk)"/>
<rect x="593" y="0" width="23" height="17" fill="url(#chk)"/>
<rect x="1038" y="0" width="24" height="17" fill="url(#chk)"/>
<!-- separators -->
<g fill="#a0a0a0">
<rect x="213" y="0" width="1" height="19"/>
<rect x="251" y="0" width="1" height="17"/>
<rect x="308" y="0" width="1" height="17"/>
<rect x="398" y="0" width="1" height="17"/>
<rect x="403" y="0" width="1" height="17"/>
<rect x="431" y="0" width="1" height="17"/>
<rect x="460" y="0" width="1" height="17"/>
<rect x="581" y="0" width="1" height="19"/>
<rect x="591" y="0" width="1" height="17"/>
<rect x="648" y="0" width="1" height="17"/>
<rect x="887" y="0" width="1" height="19"/>
<rect x="1037" y="0" width="1" height="17"/>
<rect x="1148" y="0" width="1" height="19"/>
</g>
<!-- grips -->
<g fill="#b0b0b0">
<rect x="217" y="1" width="3" height="1"/><rect x="217" y="3" width="3" height="1"/><rect x="217" y="5" width="3" height="1"/><rect x="217" y="7" width="3" height="1"/><rect x="217" y="9" width="3" height="1"/><rect x="217" y="11" width="3" height="1"/><rect x="217" y="13" width="3" height="1"/><rect x="217" y="15" width="3" height="1"/>
<rect x="585" y="1" width="3" height="1"/><rect x="585" y="3" width="3" height="1"/><rect x="585" y="5" width="3" height="1"/><rect x="585" y="7" width="3" height="1"/><rect x="585" y="9" width="3" height="1"/><rect x="585" y="11" width="3" height="1"/><rect x="585" y="13" width="3" height="1"/><rect x="585" y="15" width="3" height="1"/>
<rect x="891" y="1" width="3" height="1"/><rect x="891" y="3" width="3" height="1"/><rect x="891" y="5" width="3" height="1"/><rect x="891" y="7" width="3" height="1"/><rect x="891" y="9" width="3" height="1"/><rect x="891" y="11" width="3" height="1"/><rect x="891" y="13" width="3" height="1"/><rect x="891" y="15" width="3" height="1"/>
</g>
</g>
<!-- new order green bit -->
<rect x="-1" y="9" width="4" height="3.5" fill="#12b012" stroke="#0a6a0a" stroke-width="0.6"/>
<text x="5.8" y="10.4" font-size="12" font-weight="500" fill="#000">新订单</text>
<!-- book -->
<polygon points="61.6,-2.5 69.8,7.5 62.6,14.2 54.4,8.4" fill="url(#gold)" stroke="#9a6a14" stroke-width="0.8"/>
<path d="M54.4 8.6 L62.6 14.4 L69.8 7.7" fill="none" stroke="#7a4a0a" stroke-width="1.2"/>
<!-- doc + cloud -->
<rect x="84.7" y="-1" width="10.6" height="10" rx="1" fill="#3b8fe8" stroke="#2a6cc0" stroke-width="0.6"/>
<rect x="87" y="2.3" width="6" height="1" fill="#fff"/><rect x="87" y="4.6" width="6" height="1" fill="#fff"/>
<path d="M85 14.2 a3 3 0 0 1 -0.6 -5.8 a3.4 3.4 0 0 1 6 -0.6 a2.8 2.8 0 0 1 4.6 1 a2.8 2.8 0 0 1 0.6 5.4 z" fill="#dfe8f4" stroke="#7f9fc8" stroke-width="0.9"/>
<!-- signal -->
<g fill="none" stroke-width="1.1">
<path d="M117.9 -1 a7.7 7.7 0 0 0 0 15.4" stroke="#8fb0e8"/>
<path d="M117.9 14.4 a7.7 7.7 0 0 0 0 -15.4" stroke="#8cc48c"/>
<path d="M117.9 1.7 a5 5 0 0 0 0 10" stroke="#4a78d8"/>
<path d="M117.9 11.7 a5 5 0 0 0 0 -10" stroke="#4aa84a"/>
</g>
<circle cx="117.9" cy="6.7" r="1.6" fill="#2a5ad0"/>
<rect x="117.4" y="7" width="1.2" height="7.4" fill="#2a9a2a"/>
<!-- expert hat -->
<path d="M139 6 L152 6 L148.5 12 L144.8 14 L141.5 11 Z" fill="#f6d24a" stroke="#c89a1a" stroke-width="0.6"/>
<ellipse cx="145.4" cy="3.6" rx="7.8" ry="2.6" fill="#5aa6e0" stroke="#3a7ab8" stroke-width="0.6"/>
<path d="M142.6 3 Q145.4 -6 148.2 3 Z" fill="#6ab0e6"/>
<circle cx="149.7" cy="10.8" r="3.9" fill="#d82a1a"/>
<rect x="148.2" y="9.3" width="3" height="3" fill="#fff"/>
<text x="157.4" y="10.4" font-size="12" font-weight="500" fill="#000">自动交易</text>
<!-- chart type icons -->
<g fill="none" stroke="#555" stroke-width="1" shape-rendering="crispEdges">
<path d="M231.5 1 V15 M229 12.5 H243"/>
<path d="M259.5 1 V15 M257 12.5 H270.5"/>
<path d="M287.5 1 V15 M285 12.5 H299"/>
<path d="M411.5 1 V15 M409 12.5 H423"/>
<path d="M439.5 1 V15 M437 12.5 H451"/>
</g>
<g fill="#555">
<path d="M231.5 0.6 l-1.9 2.6 h3.8 z M243.7 12.5 l-2.6 -1.9 v3.8 z"/>
<path d="M259.5 0.6 l-1.9 2.6 h3.8 z M271.2 12.5 l-2.6 -1.9 v3.8 z"/>
<path d="M287.5 0.6 l-1.9 2.6 h3.8 z M299.7 12.5 l-2.6 -1.9 v3.8 z"/>
<path d="M411.5 0.6 l-1.9 2.6 h3.8 z M423.7 12.5 l-2.6 -1.9 v3.8 z"/>
<path d="M439.5 0.6 l-1.9 2.6 h3.8 z M451.7 12.5 l-2.6 -1.9 v3.8 z"/>
</g>
<path d="M240.6 3.9 H238.5 V10 H236.2 M238.5 3.4 V10.5" fill="none" stroke="#1a9a1a" stroke-width="1.2"/>
<rect x="265.05" y="0" width="1" height="10.3" fill="#0a8a0a"/>
<rect x="263.4" y="1.6" width="4.3" height="6.9" fill="#2ad02a" stroke="#0a8a0a" stroke-width="0.8"/>
<path d="M286.2 9.6 Q290 4 292.3 4.3 Q295 5.5 297.7 8.2" fill="none" stroke="#2a9a2a" stroke-width="1.2"/>
<!-- zoom in/out -->
<path d="M327 9 L331.8 13.4" stroke="#c8a020" stroke-width="2.6" stroke-linecap="round"/>
<path d="M327.4 8.8 L332 13" stroke="#f0dc70" stroke-width="0.9"/>
<circle cx="323.1" cy="4.8" r="5.6" fill="url(#lens)" stroke="#4a90d8" stroke-width="1.1"/>
<path d="M320 4.8 H326.2 M323.1 1.7 V7.9" stroke="#3a78c0" stroke-width="1.5"/>
<path d="M355 9 L359.8 13.4" stroke="#c8a020" stroke-width="2.6" stroke-linecap="round"/>
<path d="M355.4 8.8 L360 13" stroke="#f0dc70" stroke-width="0.9"/>
<circle cx="351" cy="4.8" r="5.6" fill="url(#lens)" stroke="#4a90d8" stroke-width="1.1"/>
<path d="M348 4.8 H354" stroke="#3a78c0" stroke-width="1.5"/>
<!-- tile -->
<g shape-rendering="crispEdges">
<rect x="373" y="-1" width="8" height="8" fill="#4aa52a"/><rect x="381" y="-1" width="8" height="8" fill="#2f62d8"/>
<rect x="373" y="7" width="8" height="8" fill="#2f62d8"/><rect x="381" y="7" width="8" height="8" fill="#4aa52a"/>
<rect x="374" y="3" width="6" height="3" fill="#e8f4e0"/><rect x="382" y="3" width="6" height="3" fill="#e0e8fa"/>
<rect x="374" y="10" width="6" height="3" fill="#e0e8fa"/><rect x="382" y="10" width="6" height="3" fill="#e8f4e0"/>
</g>
<!-- autoscroll / shift -->
<path d="M416 3.4 L420.3 6.5 L416 9.6 Z" fill="#3ac83a" stroke="#0a8a0a" stroke-width="0.8"/>
<rect x="445" y="1.5" width="1.2" height="9" fill="#1a6aa8"/>
<path d="M446.5 6.5 H451 M446.5 6.5 l2.5 -2.2 M446.5 6.5 l2.5 2.2" stroke="#d83a0a" stroke-width="1.1" fill="none"/>
<!-- new indicator -->
<path d="M470.5 -1 H479 L481.8 1.8 V12.5 H470.5 Z" fill="#fbfbfb" stroke="#8a8a8a" stroke-width="0.8"/>
<path d="M473 3 h1.5 M473 5.5 h1.5 M473 8 h1.5" stroke="#8a8a8a" stroke-width="0.8"/>
<path d="M478.3 5.5 h3.6 v3.6 h3.8 v3.6 h-3.8 v3.7 h-3.6 v-3.7 h-3.8 v-3.6 h3.8 z" fill="#2fd82f" stroke="#0a8a0a" stroke-width="0.8"/>
<path d="M491.8 6 h5.6 l-2.8 3.1 z" fill="#000"/>
<!-- clock -->
<circle cx="515.9" cy="6.9" r="7.9" fill="url(#clk)"/>
<circle cx="515.9" cy="6.9" r="5.4" fill="#f4f8fc" stroke="#c8d8ec" stroke-width="0.5"/>
<path d="M515.9 3.2 V7 H518.8" fill="none" stroke="#444" stroke-width="1.1"/>
<path d="M530.7 6 h5.6 l-2.8 3.1 z" fill="#000"/>
<!-- template -->
<rect x="547.5" y="-1" width="15" height="14.8" rx="1" fill="#fff" stroke="#3a78c8" stroke-width="1"/>
<rect x="547.5" y="-1" width="15" height="3" fill="#4a8ad8"/>
<rect x="548" y="7.2" width="14" height="1" fill="#6a9ad8"/>
<path d="M549.5 5.8 l3 -0.3 l2 -1.2 l3 0.6 l3 -1" fill="none" stroke="#b82a0a" stroke-width="1.1"/>
<path d="M549.5 11.5 l3 -0.3 l2.5 -1.8 l2.5 1.8 l3 -1.5" fill="none" stroke="#1a9a1a" stroke-width="1.1"/>
<path d="M569.7 6 h5.6 l-2.8 3.1 z" fill="#000"/>
<!-- cursor -->
<path d="M599.3 -1 L599.3 10.5 L602 8.2 L604.5 13.8 L606.3 13 L603.8 7.6 L607.6 7.4 Z" fill="#505050"/>
<!-- crosshair -->
<g shape-rendering="crispEdges" fill="#505050">
<rect x="631" y="0" width="1" height="6"/><rect x="631" y="9" width="1" height="6"/>
<rect x="624" y="7" width="6" height="1"/><rect x="633" y="7" width="6" height="1"/>
<rect x="665" y="1" width="1" height="13"/>
<rect x="688" y="7" width="12" height="1"/>
</g>
<path d="M716 14 L728 2" stroke="#505050" stroke-width="1.1"/>
<!-- channel E -->
<g stroke="#505050" stroke-width="0.9" fill="none">
<path d="M742 9 L754 -1 M744 13 L756 3 M746 7 l1 5 M749 4.5 l1 5 M752 2 l1 5"/>
</g>
<text x="752.6" y="15.6" font-size="6.5" font-weight="bold" fill="#404040">E</text>
<!-- fibo F -->
<g stroke="#505050" stroke-width="1" stroke-dasharray="1 1" shape-rendering="crispEdges">
<path d="M771 0.5 H784 M771 3.5 H784 M771 7.5 H784 M771 11.5 H780"/>
</g>
<text x="780.6" y="15.6" font-size="6.5" font-weight="bold" fill="#404040">F</text>
<text x="801.2" y="12" font-size="12.5" font-weight="bold" fill="#606060">A</text>
<rect x="828.5" y="1.5" width="11" height="12" fill="none" stroke="#505050" stroke-width="1" stroke-dasharray="1 1" shape-rendering="crispEdges"/>
<rect x="827" y="0" width="3" height="2" fill="#505050"/>
<text x="830.4" y="12" font-size="11" font-weight="bold" fill="#505050">T</text>
<!-- arrows -->
<path d="M858.6 0.6 l3.4 3 l-3.4 2.4 l-3.4 -2.4 z M865.6 14.2 l3.4 -3 l-3.4 -2.4 l-3.4 2.4 z" fill="#505050"/>
<path d="M857 8.5 l2.2 2.2 l5.3 -5.6" fill="none" stroke="#505050" stroke-width="1.5"/>
<path d="M875.8 6 h5.6 l-2.8 3.1 z" fill="#000"/>
<!-- timeframes -->
<g font-size="10" fill="#3c3c3c" stroke="#3c3c3c" stroke-width="0.15" letter-spacing="-0.3" style="text-rendering:geometricPrecision">
<text x="902" y="11">M1</text>
<text x="930" y="11">M5</text>
<text x="956.3" y="11">M15</text>
<text x="984.2" y="11">M30</text>
<text x="1015" y="11">H1</text>
<text x="1042" y="11">H4</text>
<text x="1071" y="11">D1</text>
<text x="1098.5" y="11">W1</text>
<text x="1125" y="11">MN</text>
</g>
<!-- search -->
<path d="M1611.5 11.5 L1616 7" stroke="#2a5fd0" stroke-width="2.4" stroke-linecap="round"/>
<circle cx="1618.6" cy="4.2" r="3.9" fill="#f4f8ff" stroke="#2a5fd0" stroke-width="1.3"/>
<!-- chat -->
<ellipse cx="1651.3" cy="4.2" rx="6.4" ry="4.8" fill="#e4e6ec" stroke="#9a9a9a" stroke-width="0.7"/>
<path d="M1652 8 l2.6 2.4 l-0.4 -3 z" fill="#8a8a8a"/>
<ellipse cx="1642.5" cy="8" rx="5" ry="3.8" fill="#eceef2" stroke="#9a9a9a" stroke-width="0.7"/>
<path d="M1639.5 11 l-0.6 2.8 l3 -2.2 z" fill="#8a8a8a"/>
</svg>

<svg id="panel" width="230" height="70" viewBox="0 40 230 70" style="position:absolute;left:0;top:40px;font-family:'Liberation Sans',sans-serif">
<defs>
<linearGradient id="rg" gradientUnits="userSpaceOnUse" x1="0" y1="43" x2="0" y2="107"><stop offset="0" stop-color="#ff5c5c"/><stop offset="0.36" stop-color="#e63c3c"/><stop offset="0.42" stop-color="#dc2e2e"/><stop offset="0.8" stop-color="#bd0f0f"/><stop offset="1" stop-color="#ab0000"/></linearGradient>
<linearGradient id="sp" x1="0" y1="0" x2="0" y2="1"><stop offset="0" stop-color="#f4f4f4"/><stop offset="0.45" stop-color="#e8e8e8"/><stop offset="0.5" stop-color="#d4d4d4"/><stop offset="1" stop-color="#dedede"/></linearGradient>
</defs>
<g shape-rendering="crispEdges">
<path d="M0.5 43.5 H51.5 V67.5 H108.5 V106.5 H0.5 Z" fill="url(#rg)" stroke="#b30000" stroke-width="1"/>
<path d="M167.5 43.5 H218.5 V106.5 H111.5 V67.5 H167.5 Z" fill="url(#rg)" stroke="#b30000" stroke-width="1"/>
<rect x="4" y="66" width="44" height="1" fill="#a00000"/><rect x="4" y="67" width="44" height="1" fill="#f06a6a"/>
<rect x="171" y="66" width="44" height="1" fill="#a00000"/><rect x="171" y="67" width="44" height="1" fill="#f06a6a"/>
<rect x="54.5" y="43.5" width="110" height="21" fill="#fff" stroke="#a9adb9" stroke-width="1"/>
<rect x="56" y="45" width="19" height="18" fill="url(#sp)"/>
<rect x="145" y="45" width="19" height="18" fill="url(#sp)"/>
<rect x="75" y="44" width="1" height="20" fill="#a9adb9"/>
<rect x="143" y="44" width="1" height="20" fill="#a9adb9"/>
</g>
<path d="M61.9 52 h5.6 l-2.8 3.2 z" fill="#4f63c4"/>
<path d="M150.9 55.2 h5.6 l-2.8 -3.2 z" fill="#4f63c4"/>
<text x="12.3" y="59" font-size="12.5" fill="#fff" textLength="26" lengthAdjust="spacingAndGlyphs">SELL</text>
<text x="180.2" y="59" font-size="12.5" fill="#fff" textLength="24.3" lengthAdjust="spacingAndGlyphs">BUY</text>
<text x="116" y="58" font-size="12.5" fill="#000" textLength="24" lengthAdjust="spacingAndGlyphs">1.00</text>
<text x="16" y="97.8" font-size="12" font-weight="bold" fill="#fff" textLength="34.6" lengthAdjust="spacingAndGlyphs">26762</text>
<text x="126" y="97.8" font-size="12" font-weight="bold" fill="#fff" textLength="34.6" lengthAdjust="spacingAndGlyphs">26775</text>
<rect x="55.2" y="94.1" width="4.4" height="4" rx="1.7" fill="#fff"/>
<rect x="166.4" y="94.1" width="4.4" height="4" rx="1.7" fill="#fff"/>
<text x="60.6" y="98.2" font-size="36" fill="#fff" style="font-family:'Liberation Serif',serif" textLength="18.6" lengthAdjust="spacingAndGlyphs">0</text>
<text x="172" y="98.2" font-size="36" fill="#fff" style="font-family:'Liberation Serif',serif" textLength="18.6" lengthAdjust="spacingAndGlyphs">0</text>
</svg>

</div>
</body></html>
